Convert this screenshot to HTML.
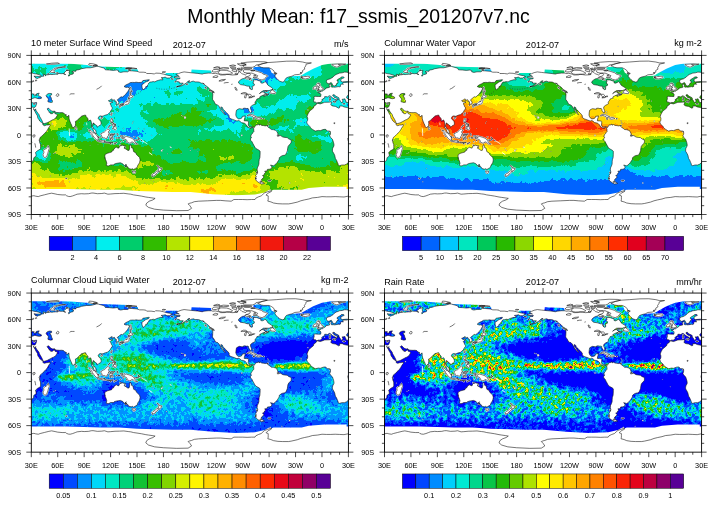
<!DOCTYPE html>
<html><head><meta charset="utf-8"><title>Monthly Mean</title>
<style>
html,body{margin:0;padding:0;background:#fff;}
svg{display:block}
text{font-family:"Liberation Sans",sans-serif;fill:#000}
.t{font-size:7.3px}
.h{font-size:9.05px}
.T{font-size:19.46px}
</style></head><body>
<svg width="716" height="506" viewBox="0 0 716 506">
<defs>
<clipPath id="pc"><rect x="0" y="0" width="317.1" height="159.1"/></clipPath>
<g id="land"><path d="M-185.0 154.7L-171.8 155.3L-160.3 155.1L-156.8 152.9L-158.6 150.3L-160.3 148.5L-158.6 147.8L-156.8 147.4L-154.1 146.3L-149.7 145.8L-140.9 145.4L-132.1 145.0L-127.7 145.0L-123.3 145.4L-117.2 145.8L-114.5 144.1L-110.1 144.1L-105.7 144.1L-101.3 144.3L-96.9 144.1L-93.4 144.1L-92.5 142.7L-89.8 141.4L-87.2 140.5L-85.4 138.8L-83.7 137.4L-81.0 136.4L-78.4 135.6L-76.6 135.5L-78.0 136.6L-79.7 137.4L-81.0 138.3L-82.4 139.7L-80.2 140.5L-80.2 142.3L-80.2 144.1L-80.6 145.7L-77.5 146.5L-74.9 147.6L-70.5 148.3L-66.1 148.5L-59.9 148.5L-57.3 148.1L-51.1 146.7L-47.6 145.4L-44.0 144.5L-39.6 143.6L-36.1 142.5L-30.8 142.0L-26.4 141.2L-22.0 141.4L-17.6 141.4L-13.2 141.2L-8.8 141.4L-4.4 141.6L0.0 140.7L2.6 140.3L4.4 140.8L7.0 141.2L8.8 140.5L13.2 139.4L17.6 138.3L20.3 137.8L23.8 138.5L26.4 139.1L30.8 139.5L34.4 139.5L35.2 140.3L37.0 141.0L38.8 141.2L41.4 140.5L44.0 139.5L45.8 138.8L50.2 138.3L52.9 138.5L57.3 138.3L59.9 137.7L61.7 137.6L66.1 138.3L70.5 138.1L73.1 137.7L76.6 138.8L79.3 138.6L83.7 138.2L88.1 138.1L92.5 137.9L96.9 138.5L99.5 138.8L102.2 139.5L105.7 140.0L110.1 140.7L114.5 141.6L117.2 142.0L120.7 142.5L123.8 143.0L121.6 144.5L118.0 145.8L115.4 147.6L114.5 149.8L117.2 152.0L123.3 153.8L132.1 154.7L132.1 159.1L-185.0 159.1ZM132.1 154.7L145.3 155.3L156.8 155.1L160.3 152.9L158.6 150.3L156.8 148.5L158.6 147.8L160.3 147.4L163.0 146.3L167.4 145.8L176.2 145.4L185.0 145.0L189.4 145.0L193.8 145.4L199.9 145.8L202.6 144.1L207.0 144.1L211.4 144.1L215.8 144.3L220.2 144.1L223.7 144.1L224.6 142.7L227.3 141.4L229.9 140.5L231.7 138.8L233.4 137.4L236.1 136.4L238.7 135.6L240.5 135.5L239.1 136.6L237.4 137.4L236.1 138.3L234.7 139.7L236.9 140.5L236.9 142.3L236.9 144.1L236.5 145.7L239.6 146.5L242.2 147.6L246.6 148.3L251.0 148.5L257.2 148.5L259.8 148.1L266.0 146.7L269.5 145.4L273.1 144.5L277.5 143.6L281.0 142.5L286.3 142.0L290.7 141.2L295.1 141.4L299.5 141.4L303.9 141.2L308.3 141.4L312.7 141.6L317.1 140.7L319.7 140.3L321.5 140.8L324.1 141.2L325.9 140.5L330.3 139.4L334.7 138.3L337.4 137.8L340.9 138.5L343.5 139.1L347.9 139.5L351.5 139.5L352.3 140.3L354.1 141.0L355.9 141.2L358.5 140.5L361.1 139.5L362.9 138.8L367.3 138.3L369.9 138.5L374.4 138.3L377.0 137.7L378.8 137.6L383.2 138.3L387.6 138.1L390.2 137.7L393.7 138.8L396.4 138.6L400.8 138.2L405.2 138.1L409.6 137.9L414.0 138.5L416.6 138.8L419.3 139.5L422.8 140.0L427.2 140.7L431.6 141.6L434.3 142.0L437.8 142.5L440.9 143.0L438.7 144.5L435.1 145.8L432.5 147.6L431.6 149.8L434.3 152.0L440.4 153.8L449.2 154.7L449.2 159.1L132.1 159.1Z" fill="#fff"/><path d="M18.9 16.4L20.3 17.1L23.8 17.1L22.5 15.9L22.9 14.6L24.7 13.7L27.3 12.6L31.7 11.8L34.4 11.5L31.7 11.4L26.4 12.1L22.9 13.0L21.6 14.4L19.4 15.6ZM57.3 9.5L61.7 10.6L66.1 10.2L65.2 9.3L61.7 8.4L58.1 8.0ZM94.2 12.8L99.5 13.4L105.7 13.3L102.2 12.6L96.9 12.4ZM96.9 14.6L99.5 14.8L98.7 14.1ZM130.8 16.8L133.0 17.0L134.3 16.5L132.1 16.3ZM15.0 8.6L19.4 8.9L23.8 8.7L28.2 8.3L26.4 7.4L20.3 7.8ZM98.7 38.9L99.9 38.3L99.3 37.6L99.7 36.0L100.9 36.2L99.8 34.0L99.9 32.7L99.2 31.6L98.7 32.3L98.5 33.8L98.7 35.4L98.7 37.1ZM96.9 42.9L97.9 42.6L99.8 42.4L101.7 41.3L101.3 40.5L98.7 39.3L98.4 40.2L98.0 41.3L97.2 41.9ZM98.2 43.0L98.7 44.6L97.8 46.0L97.8 47.0L97.6 48.0L96.7 48.6L95.8 48.9L94.5 49.0L94.1 49.2L93.2 49.9L92.6 49.2L90.7 49.2L89.0 49.5L89.0 49.0L90.3 48.3L92.9 48.1L94.0 47.0L94.5 46.4L95.6 46.6L96.5 45.5L96.9 44.2L97.2 43.1ZM88.9 49.6L89.6 49.9L89.8 50.6L89.0 51.9L88.3 52.0L88.3 50.8L87.8 50.4L87.9 49.9ZM90.3 49.6L91.9 49.2L92.2 49.7L91.8 50.2L90.7 50.6L90.2 50.0ZM80.7 57.3L80.9 57.8L80.1 60.1L79.4 59.2L79.5 58.3ZM69.3 62.6L70.0 63.5L70.9 62.9L71.3 62.1L71.1 61.8L70.0 61.9ZM79.8 63.2L81.2 63.3L81.3 65.0L80.7 65.6L80.8 66.9L81.9 67.4L82.8 68.1L82.8 68.4L81.6 67.8L80.8 67.4L79.8 67.3L80.1 66.6L79.3 66.3L79.2 65.2L79.6 64.8ZM81.0 73.4L82.4 71.9L83.9 70.9L84.8 72.0L85.1 73.1L84.7 74.0L84.1 74.5L82.8 74.2L82.8 73.2L82.2 72.9L81.2 73.5ZM81.0 69.1L81.9 69.3L82.8 69.7L84.2 69.7L83.9 70.5L82.8 70.7L82.2 71.4L81.5 70.7L81.0 70.2ZM83.1 68.5L84.1 68.5L84.3 69.7L83.5 69.5ZM76.8 72.1L78.8 70.3L79.0 69.5L78.0 70.7L76.9 71.7ZM69.6 78.2L70.5 78.0L71.6 77.1L73.1 76.6L74.4 75.4L75.8 74.0L76.6 73.4L77.2 74.0L78.6 74.9L77.5 75.7L77.1 76.5L77.5 77.6L78.4 78.7L77.3 78.8L77.1 80.3L76.2 81.1L76.0 82.7L74.5 83.2L73.1 82.4L72.0 82.5L70.6 82.0L70.5 80.7L69.6 79.3ZM57.4 74.6L59.5 75.0L60.8 76.3L62.0 77.5L63.2 77.7L64.7 79.1L65.5 80.4L66.9 82.0L66.9 84.7L65.7 84.8L63.7 83.1L62.5 81.5L61.0 79.4L60.5 78.0L59.2 76.7L57.6 75.3ZM66.2 85.6L67.1 84.8L69.1 85.4L71.1 85.2L72.8 85.6L74.4 86.4L74.3 87.2L72.2 87.0L69.6 86.4L67.4 86.1ZM74.9 86.8L76.6 86.8L78.4 87.1L80.2 87.0L81.9 86.9L81.7 87.2L79.3 87.4L76.6 87.5L75.3 87.3ZM82.4 88.7L83.7 87.5L85.6 87.0L85.0 87.7L83.2 88.6ZM78.4 87.9L79.9 88.5L79.3 88.7ZM79.1 78.8L80.0 78.4L81.9 78.7L83.7 78.1L83.2 79.2L80.6 79.1L79.5 79.3L79.3 80.3L80.4 80.4L82.2 80.2L80.8 81.3L81.3 82.5L82.1 83.5L81.5 84.2L80.7 83.7L80.2 82.0L79.5 82.2L79.6 84.4L78.8 84.4L78.8 82.6L78.2 81.9L79.0 79.7ZM85.9 77.9L86.9 79.1L86.3 80.3L85.9 79.1ZM86.3 82.3L88.8 82.5L87.6 82.7ZM84.6 82.4L85.6 82.5L85.1 82.9ZM89.0 80.3L91.6 80.3L91.8 81.7L92.5 82.5L94.2 81.3L95.1 81.0L97.8 81.8L100.9 82.9L102.2 84.4L103.7 84.9L103.3 85.7L104.4 87.5L106.4 88.7L103.9 88.6L102.2 87.1L100.4 86.4L99.8 87.5L98.2 87.7L96.0 86.8L95.1 87.0L95.8 85.7L95.1 84.4L92.9 83.5L91.2 83.1L90.5 83.1L90.5 82.2L91.4 81.7L90.0 81.5L88.9 80.8ZM104.2 84.5L106.1 84.4L107.6 83.3L107.5 84.4L105.7 85.1L104.3 84.8ZM106.4 81.8L108.2 83.3L108.3 83.8L107.7 83.1ZM101.0 115.5L102.6 115.9L104.1 115.6L104.2 116.9L103.4 117.8L102.2 118.0L101.5 116.9ZM125.7 110.0L127.1 110.8L128.2 111.8L128.6 112.8L130.6 112.8L130.3 114.2L129.5 114.5L128.8 115.8L127.9 116.3L127.5 116.1L127.7 114.9L126.7 114.4L127.4 113.3L127.5 112.3L126.1 110.5ZM125.7 115.3L126.8 115.8L127.0 116.5L125.8 118.0L124.4 118.7L123.9 120.1L121.9 120.7L120.2 120.0L121.7 118.4L123.8 117.4L125.1 115.8ZM43.9 71.0L45.1 72.0L45.6 73.4L44.9 74.1L44.1 74.2L43.9 72.9ZM17.0 90.2L18.0 93.3L17.4 94.6L16.6 97.7L15.4 101.2L14.5 101.8L13.2 102.1L12.1 100.8L11.7 99.0L12.6 97.2L12.3 95.0L13.5 93.7L15.0 93.2L15.9 91.9L16.5 91.0ZM34.2 123.0L35.7 122.9L35.2 123.5ZM2.0 48.6L4.0 48.1L3.1 49.0ZM16.1 18.6L17.2 18.1L17.9 18.6L17.0 18.8ZM25.1 17.7L26.4 17.2L26.9 17.9ZM34.8 14.8L36.6 14.6L36.1 15.0ZM61.7 10.4L65.2 10.3L66.1 9.9L63.4 9.5ZM94.2 13.3L96.9 12.4L100.4 12.8L97.8 13.5ZM8.1 84.7L8.4 84.9L8.3 85.2ZM95.3 45.7L95.7 45.9L95.5 46.1ZM84.7 50.0L85.4 49.9L85.1 50.2ZM87.4 49.0L87.6 48.9L87.5 49.3ZM66.5 81.0L67.6 81.8L66.9 82.2ZM68.4 81.8L69.0 82.0L68.6 82.4ZM59.1 78.3L59.7 78.9L59.5 79.0ZM60.5 80.4L61.0 81.1L60.7 81.1ZM72.9 85.6L74.0 85.6L73.8 85.9ZM89.1 86.0L89.6 86.4L89.2 86.6ZM91.8 84.4L92.3 85.1L91.9 85.6ZM93.1 80.3L93.6 80.5L93.3 80.6ZM109.8 84.4L110.9 85.5L110.4 85.5ZM102.7 81.3L103.4 81.4L103.1 81.5ZM93.9 111.1L95.1 111.2L94.5 111.4ZM88.3 89.6L89.4 89.6L88.8 90.0ZM93.7 91.7L94.2 91.8L93.9 92.2ZM121.1 121.0L121.7 121.0L121.4 121.4ZM285.8 35.4L287.6 35.1L290.7 34.6L291.9 34.2L292.2 33.0L290.9 32.7L290.5 31.8L289.4 30.9L288.9 30.1L288.0 30.1L289.1 28.7L287.2 28.6L288.0 27.8L286.3 27.8L285.2 29.2L285.8 30.1L286.3 30.9L288.0 31.4L288.0 32.4L286.7 32.4L287.0 33.3L286.1 33.8L288.0 34.1L286.7 34.4ZM285.4 33.4L282.0 34.0L281.9 32.3L283.2 31.4L283.6 30.8L285.4 30.8L285.8 31.4L285.2 32.3ZM270.9 23.1L274.2 23.5L277.7 22.7L278.7 21.8L277.7 21.0L276.6 20.8L274.8 21.1L272.8 21.2L271.7 21.7L270.9 20.9L269.3 21.6L271.3 21.9L269.5 22.3L271.3 22.7ZM300.4 9.3L303.0 11.0L305.6 11.8L309.2 10.3L307.0 9.2L310.9 9.5L314.5 8.8L308.3 8.4L300.4 9.0ZM301.7 46.0L304.3 45.8L304.0 47.1L301.7 46.3ZM298.0 43.4L299.2 43.3L299.1 44.9L298.2 45.1ZM298.3 41.9L299.0 41.7L298.9 43.0L298.3 42.6ZM311.5 48.2L313.8 48.4L312.3 48.7ZM236.5 20.6L234.3 22.1L233.4 23.9L232.1 23.9L230.8 24.6L228.1 24.0L225.9 22.5L222.4 22.7L222.0 21.7L225.5 21.7L226.4 20.3L224.2 19.2L221.5 18.1L220.6 17.7L215.8 17.7L212.7 17.0L211.8 15.5L213.2 14.3L218.4 14.4L220.2 15.5L222.9 15.2L226.4 16.1L230.3 17.4L231.7 18.6L234.3 19.4L236.1 20.3ZM187.2 16.4L189.4 14.8L195.5 15.0L198.2 15.9L201.3 17.7L199.9 18.7L195.5 18.8L191.1 19.0L188.5 18.6L186.7 17.2ZM180.6 15.9L182.3 14.1L187.6 14.0L188.9 14.8L185.0 16.4L182.3 16.6ZM221.1 11.9L213.2 11.9L211.4 10.2L214.9 8.8L209.6 7.7L215.8 6.8L224.6 6.2L233.4 6.4L236.1 7.1L232.5 8.0L229.0 8.8L224.6 9.7L223.7 11.0ZM220.2 12.8L209.6 12.4L209.6 13.4L220.2 13.6ZM187.6 13.1L192.0 12.1L197.3 12.4L197.3 13.3L192.0 13.7ZM200.8 14.3L205.2 14.3L205.2 16.4L202.6 16.1L200.8 15.2ZM206.6 14.1L211.0 14.1L210.5 15.2L207.0 15.9ZM206.1 8.4L213.2 8.4L214.9 9.7L209.6 10.4ZM199.1 11.9L204.4 11.9L204.4 13.3L199.9 13.1ZM214.0 23.0L215.4 21.4L216.7 21.8L218.9 22.7L219.9 23.2L217.6 23.4L215.4 23.7ZM238.4 37.4L241.3 38.1L243.8 38.3L244.3 37.5L243.6 36.6L243.3 35.9L241.6 35.2L241.8 33.9L240.5 34.5L239.6 35.8L238.4 36.9ZM215.8 60.4L217.6 59.0L219.8 58.9L222.9 60.2L225.3 61.5L222.2 62.2L221.8 61.5L219.8 60.6L218.4 60.0L216.7 60.5ZM225.1 63.3L226.6 62.0L229.0 62.0L230.4 63.1L228.6 63.5L227.5 63.9L225.7 63.6ZM221.7 63.4L223.5 63.6L222.7 63.8ZM231.5 63.3L232.8 63.4L232.5 63.6ZM177.7 34.7L180.6 35.4L181.9 36.7L180.7 36.6L179.2 35.8ZM173.5 31.8L174.7 31.8L175.1 33.4L174.0 32.7ZM153.3 61.7L154.2 62.2L153.5 62.8ZM154.6 28.7L156.3 28.3L156.5 28.9L155.0 29.3ZM236.9 125.1L239.6 125.0L238.7 125.8L237.1 125.5ZM236.2 70.1L236.9 70.0L236.9 70.6L236.2 70.6ZM182.3 12.4L185.9 11.2L188.5 11.9L185.9 12.6ZM198.2 10.4L201.7 9.5L204.4 10.2L201.7 10.9ZM205.7 13.3L207.9 12.7L208.8 13.4L207.0 13.7ZM203.5 18.6L205.2 17.9L206.6 18.6L205.2 19.0ZM219.8 15.0L222.0 14.4L223.7 15.0L222.0 15.4ZM222.4 20.2L223.7 19.4L224.6 20.1L223.5 20.4ZM217.6 24.0L218.9 24.0L218.4 24.6ZM219.9 24.5L220.6 24.6L220.4 25.1ZM218.4 32.6L219.6 32.7L219.1 33.0ZM233.9 35.4L236.2 36.0L234.7 36.1ZM234.0 38.3L236.1 38.4L235.4 38.9ZM242.4 18.1L244.0 17.4L244.9 17.9L243.6 18.3ZM139.6 23.3L142.0 23.6L141.1 23.9ZM143.4 26.3L144.8 26.2L144.5 26.7ZM145.3 31.1L146.9 30.9L146.7 31.4ZM171.8 28.3L172.6 28.0L172.4 29.0ZM225.3 116.7L225.9 116.7L225.8 117.9L225.2 117.6ZM224.3 122.4L225.1 122.5L224.8 123.7L224.2 123.5ZM228.6 126.2L230.3 126.1L230.3 126.8L229.0 127.3ZM245.9 79.7L247.5 79.7L247.8 80.6L246.2 80.9ZM298.2 76.2L298.6 76.3L298.3 76.7Z" fill="#fff" stroke="#fff" stroke-width="1.3" stroke-linejoin="round"/><path d="M-31.2 47.8L-31.6 47.9L-32.4 49.5L-33.1 49.9L-34.6 51.0L-35.0 52.7L-37.8 54.9L-39.2 56.3L-40.5 58.6L-41.4 61.0L-40.7 62.8L-40.8 65.0L-41.8 66.6L-41.1 68.5L-40.1 69.6L-38.5 71.2L-38.1 72.1L-36.6 73.5L-35.9 74.0L-33.2 75.7L-29.9 75.0L-28.2 75.3L-26.4 74.6L-25.4 74.2L-23.4 73.9L-22.5 74.1L-21.1 75.7L-19.4 75.6L-18.1 76.0L-17.9 77.8L-18.1 79.2L-18.7 80.2L-18.1 81.8L-16.0 83.8L-15.6 84.9L-14.8 87.3L-14.4 89.3L-14.5 90.6L-15.7 92.8L-16.0 94.6L-15.9 95.9L-14.7 97.9L-13.7 99.9L-13.0 103.1L-11.9 104.8L-11.0 107.0L-10.4 108.3L-10.2 109.8L-8.8 110.3L-6.6 109.6L-3.9 109.6L-1.8 108.7L0.0 107.1L0.9 106.0L2.2 104.6L2.5 102.5L3.1 101.8L4.8 100.8L4.7 99.0L4.2 97.1L6.1 95.4L7.9 94.4L9.3 93.3L9.3 91.0L9.2 89.0L8.4 87.1L8.2 85.6L7.8 84.7L8.5 83.1L9.1 81.8L10.1 81.1L11.9 79.3L13.5 77.8L15.0 76.2L16.1 74.7L17.2 72.7L18.1 71.3L18.8 70.4L18.7 69.0L17.2 69.5L15.0 69.7L13.2 70.3L12.0 69.7L11.5 69.3L11.7 68.3L10.6 67.2L9.2 66.3L8.4 65.6L7.9 64.5L7.0 63.4L6.4 62.2L6.2 60.5L5.7 59.7L4.8 58.3L4.0 56.6L3.3 55.4L2.6 54.1L2.2 53.1L2.6 54.3L3.7 55.1L4.1 54.1L4.4 53.5L4.4 54.6L5.7 56.6L6.6 57.8L7.8 59.4L8.1 60.7L9.2 62.5L10.1 64.1L11.2 66.3L11.7 68.1L13.2 68.2L15.0 67.6L16.3 67.2L17.9 66.3L19.6 65.4L21.1 64.5L22.3 64.1L23.3 63.4L24.5 62.6L25.1 61.4L26.2 59.7L25.3 58.7L23.8 58.3L23.3 57.5L23.3 56.2L22.9 56.6L22.3 57.2L21.3 58.2L19.4 58.3L19.0 57.9L19.0 56.5L18.4 56.9L17.8 57.0L17.8 56.0L16.7 55.1L15.9 53.5L16.6 52.8L17.6 53.0L18.3 54.0L19.9 55.3L21.6 56.0L23.2 55.6L24.0 56.8L25.5 57.1L27.0 57.2L28.5 57.3L30.4 57.2L32.2 57.5L33.0 58.5L33.9 59.0L35.2 59.5L34.4 59.9L35.6 61.2L36.8 61.0L37.4 59.8L37.7 61.0L37.7 62.8L38.1 64.5L38.6 65.9L39.5 68.1L40.3 69.7L40.8 71.2L41.8 72.4L42.5 71.7L43.2 71.3L44.0 70.4L44.3 68.0L44.1 66.0L45.1 65.5L46.1 64.9L47.0 63.9L48.5 62.3L50.1 61.3L50.4 60.5L51.5 60.4L53.3 59.8L54.4 59.8L54.8 61.1L55.9 62.3L56.8 63.6L56.6 65.4L57.5 65.6L58.8 64.7L59.5 65.0L60.1 67.2L60.4 68.9L60.3 70.7L60.2 72.3L61.4 73.5L62.0 74.7L62.5 76.3L63.1 77.3L64.7 78.4L65.4 78.3L64.7 77.1L64.7 76.0L64.3 74.7L63.4 74.0L62.5 73.5L61.9 72.7L61.7 71.6L61.0 71.3L61.0 69.8L61.7 68.5L61.7 67.6L62.5 67.7L62.5 68.4L63.7 68.8L64.3 69.8L65.6 70.4L65.9 71.9L66.6 71.4L67.6 70.4L68.7 70.0L69.8 69.2L69.9 67.6L69.4 65.8L68.9 65.3L67.5 63.8L66.8 62.8L67.5 61.4L67.8 61.0L69.0 60.5L70.1 60.5L70.3 61.5L70.8 61.5L71.0 60.7L72.1 60.5L73.5 59.9L74.4 59.6L76.2 59.2L77.5 57.9L78.8 57.0L79.5 55.4L80.9 53.5L80.9 52.2L80.1 51.3L79.5 49.2L78.6 48.6L79.6 47.6L81.5 46.8L80.2 46.3L78.4 46.6L77.5 45.7L77.2 45.1L78.4 44.9L80.2 43.6L81.0 43.8L80.4 45.1L80.8 45.2L83.1 44.3L83.8 45.4L83.4 46.0L85.1 46.4L84.8 49.1L85.9 48.8L87.4 48.4L87.6 46.8L86.8 45.5L85.9 44.5L87.8 43.0L88.7 42.2L89.8 41.4L91.2 41.7L92.8 40.4L94.1 39.1L95.3 37.7L96.5 36.2L97.2 34.9L98.1 33.3L97.9 32.4L96.2 31.8L94.7 32.0L92.7 31.1L94.5 29.6L97.3 28.3L99.1 27.2L101.3 27.0L103.1 27.1L104.8 26.8L107.0 27.1L110.4 27.0L111.6 25.2L114.5 24.8L117.4 24.3L118.0 24.3L117.2 25.6L114.5 26.5L111.9 28.5L110.6 29.3L110.7 31.8L111.5 34.2L111.7 34.6L113.0 33.4L114.4 32.5L114.5 31.2L116.3 30.9L116.1 29.8L117.2 28.7L117.4 27.8L118.6 26.7L120.0 26.6L122.0 26.2L123.6 26.5L125.1 25.6L127.3 24.9L129.5 24.3L131.5 24.5L131.2 23.0L129.9 22.4L132.1 22.1L133.9 21.7L135.6 22.7L138.3 22.6L139.6 21.7L141.1 21.2L139.2 20.3L136.5 19.9L132.1 18.7L128.6 17.9L124.2 17.7L123.3 18.6L119.8 18.1L115.4 18.1L114.5 17.1L111.9 16.8L108.3 16.8L105.7 15.9L101.3 15.5L97.8 15.3L96.5 16.4L92.5 16.4L89.4 17.0L87.2 16.4L87.2 15.2L85.4 14.6L81.9 15.0L78.0 14.6L74.0 14.4L73.1 12.8L69.6 11.8L66.9 11.0L65.2 10.9L61.7 11.9L59.0 12.4L55.5 12.4L50.2 13.3L47.6 14.3L44.9 14.6L44.5 15.9L41.8 15.7L40.5 16.5L42.3 17.0L41.8 18.6L39.2 19.2L38.6 19.9L37.4 20.8L37.2 19.6L38.3 18.6L37.7 16.8L38.6 15.3L35.7 14.8L33.9 16.4L32.6 17.7L32.6 18.6L34.4 19.2L31.7 18.1L29.9 18.3L26.9 17.9L26.6 18.9L24.2 18.8L22.0 19.0L20.7 19.2L18.9 19.0L16.7 19.4L14.1 19.4L14.5 20.5L12.8 19.0L11.7 18.9L12.5 20.8L10.6 20.9L8.8 22.1L7.5 22.4L6.2 23.1L4.1 22.5L4.0 21.7L2.6 20.8L5.3 21.0L9.2 21.0L9.9 20.1L7.5 19.2L5.3 18.6L2.6 18.2L0.9 17.7L-1.3 16.8L-3.7 16.7L-6.2 17.4L-8.8 17.7L-11.0 18.6L-12.3 19.0L-14.1 20.3L-15.4 21.7L-16.7 22.5L-18.1 23.4L-20.3 24.0L-21.8 24.7L-22.0 26.3L-21.6 27.4L-20.3 28.3L-18.9 28.0L-17.2 27.1L-16.6 27.8L-15.9 29.2L-15.2 30.1L-15.1 30.5L-13.8 30.5L-12.3 29.8L-11.9 28.7L-11.5 27.8L-10.1 27.0L-10.1 26.3L-11.3 25.6L-11.2 24.5L-10.1 23.7L-7.9 22.5L-7.0 21.5L-4.8 21.5L-4.2 22.3L-6.2 23.2L-7.5 23.9L-7.6 25.8L-6.2 26.5L-3.5 26.3L-1.3 26.1L0.0 26.5L-1.8 27.0L-5.3 27.0L-5.7 28.0L-5.0 28.9L-7.0 28.6L-7.9 29.8L-7.9 31.0L-9.2 31.5L-10.1 31.2L-12.3 31.6L-13.8 31.8L-15.4 31.6L-16.7 31.8L-17.6 30.9L-17.0 29.6L-17.2 28.6L-19.2 29.2L-19.2 30.5L-18.7 31.8L-20.3 32.3L-22.0 32.5L-22.9 33.6L-24.2 34.5L-25.0 34.9L-26.2 35.8L-27.7 35.6L-27.9 36.6L-30.6 36.7L-30.2 37.3L-28.6 37.7L-27.5 38.9L-27.7 41.1L-29.9 41.1L-33.5 40.9L-34.5 41.5L-34.2 43.3L-34.8 45.3L-34.3 46.8L-32.6 46.8L-31.7 47.6L-31.2 47.6L-30.3 47.1L-28.2 47.1L-26.9 46.0L-26.2 45.3L-26.7 44.6L-25.7 43.5L-23.6 42.5L-23.8 41.3L-22.5 41.2L-20.7 41.5L-19.8 40.8L-18.7 40.3L-17.4 41.1L-15.6 42.7L-14.1 43.5L-12.6 44.2L-12.3 45.8L-12.6 46.0L-11.9 45.3L-11.3 44.6L-11.9 44.2L-11.5 43.8L-10.1 44.1L-10.6 43.6L-12.3 42.5L-14.1 42.0L-14.5 41.0L-15.6 40.4L-15.6 39.5L-14.4 39.2L-13.7 39.6L-13.0 40.7L-11.0 41.5L-9.4 42.5L-9.3 43.9L-8.1 45.5L-7.8 46.2L-7.0 47.1L-6.2 47.3L-6.1 46.4L-5.3 46.0L-5.7 45.1L-6.3 43.8L-5.3 44.0L-4.4 43.4L-3.3 43.6L-3.3 44.2L-2.6 45.5L-2.4 46.8L-1.3 47.1L0.5 47.0L1.8 47.6L3.5 47.4L5.3 47.1L5.3 48.2L4.8 49.9L4.2 51.3L3.7 51.9L2.2 52.0L0.9 51.7L-0.9 52.2L-4.4 51.5L-6.2 50.6L-8.8 50.6L-8.8 52.4L-9.7 52.8L-12.9 51.0L-15.9 50.5L-17.2 49.8L-17.6 49.1L-16.7 46.9L-17.6 46.6L-20.3 46.8L-23.8 46.9L-26.4 47.9L-28.2 48.5ZM-0.9 43.1L1.3 43.1L3.1 42.4L4.4 42.4L6.0 43.0L7.9 43.3L10.1 42.9L10.1 41.8L8.4 40.9L6.6 40.0L7.3 38.9L7.9 37.8L5.3 38.3L4.4 39.2L5.7 39.5L4.7 39.8L3.3 40.3L2.2 39.3L3.1 38.9L1.3 38.4L0.4 38.9L-0.3 39.6L-1.1 40.7L-1.9 41.7L-1.6 42.7ZM16.7 46.4L17.9 46.7L19.4 47.1L21.1 46.8L20.9 44.9L20.2 44.2L20.1 43.0L19.7 42.0L18.5 40.2L20.3 39.5L20.3 38.2L18.5 38.0L16.7 38.4L15.4 39.3L14.8 40.2L15.4 41.5L16.5 42.7L17.2 43.8L16.7 45.1L16.6 46.0ZM18.9 16.4L20.3 17.1L23.8 17.1L22.5 15.9L22.9 14.6L24.7 13.7L27.3 12.6L31.7 11.8L34.4 11.5L31.7 11.4L26.4 12.1L22.9 13.0L21.6 14.4L19.4 15.6ZM57.3 9.5L61.7 10.6L66.1 10.2L65.2 9.3L61.7 8.4L58.1 8.0ZM94.2 12.8L99.5 13.4L105.7 13.3L102.2 12.6L96.9 12.4ZM96.9 14.6L99.5 14.8L98.7 14.1ZM130.8 16.8L133.0 17.0L134.3 16.5L132.1 16.3ZM15.0 8.6L19.4 8.9L23.8 8.7L28.2 8.3L26.4 7.4L20.3 7.8ZM98.7 38.9L99.9 38.3L99.3 37.6L99.7 36.0L100.9 36.2L99.8 34.0L99.9 32.7L99.2 31.6L98.7 32.3L98.5 33.8L98.7 35.4L98.7 37.1ZM96.9 42.9L97.9 42.6L99.8 42.4L101.7 41.3L101.3 40.5L98.7 39.3L98.4 40.2L98.0 41.3L97.2 41.9ZM98.2 43.0L98.7 44.6L97.8 46.0L97.8 47.0L97.6 48.0L96.7 48.6L95.8 48.9L94.5 49.0L94.1 49.2L93.2 49.9L92.6 49.2L90.7 49.2L89.0 49.5L89.0 49.0L90.3 48.3L92.9 48.1L94.0 47.0L94.5 46.4L95.6 46.6L96.5 45.5L96.9 44.2L97.2 43.1ZM88.9 49.6L89.6 49.9L89.8 50.6L89.0 51.9L88.3 52.0L88.3 50.8L87.8 50.4L87.9 49.9ZM90.3 49.6L91.9 49.2L92.2 49.7L91.8 50.2L90.7 50.6L90.2 50.0ZM80.7 57.3L80.9 57.8L80.1 60.1L79.4 59.2L79.5 58.3ZM69.3 62.6L70.0 63.5L70.9 62.9L71.3 62.1L71.1 61.8L70.0 61.9ZM79.8 63.2L81.2 63.3L81.3 65.0L80.7 65.6L80.8 66.9L81.9 67.4L82.8 68.1L82.8 68.4L81.6 67.8L80.8 67.4L79.8 67.3L80.1 66.6L79.3 66.3L79.2 65.2L79.6 64.8ZM81.0 73.4L82.4 71.9L83.9 70.9L84.8 72.0L85.1 73.1L84.7 74.0L84.1 74.5L82.8 74.2L82.8 73.2L82.2 72.9L81.2 73.5ZM81.0 69.1L81.9 69.3L82.8 69.7L84.2 69.7L83.9 70.5L82.8 70.7L82.2 71.4L81.5 70.7L81.0 70.2ZM83.1 68.5L84.1 68.5L84.3 69.7L83.5 69.5ZM76.8 72.1L78.8 70.3L79.0 69.5L78.0 70.7L76.9 71.7ZM69.6 78.2L70.5 78.0L71.6 77.1L73.1 76.6L74.4 75.4L75.8 74.0L76.6 73.4L77.2 74.0L78.6 74.9L77.5 75.7L77.1 76.5L77.5 77.6L78.4 78.7L77.3 78.8L77.1 80.3L76.2 81.1L76.0 82.7L74.5 83.2L73.1 82.4L72.0 82.5L70.6 82.0L70.5 80.7L69.6 79.3ZM57.4 74.6L59.5 75.0L60.8 76.3L62.0 77.5L63.2 77.7L64.7 79.1L65.5 80.4L66.9 82.0L66.9 84.7L65.7 84.8L63.7 83.1L62.5 81.5L61.0 79.4L60.5 78.0L59.2 76.7L57.6 75.3ZM66.2 85.6L67.1 84.8L69.1 85.4L71.1 85.2L72.8 85.6L74.4 86.4L74.3 87.2L72.2 87.0L69.6 86.4L67.4 86.1ZM74.9 86.8L76.6 86.8L78.4 87.1L80.2 87.0L81.9 86.9L81.7 87.2L79.3 87.4L76.6 87.5L75.3 87.3ZM82.4 88.7L83.7 87.5L85.6 87.0L85.0 87.7L83.2 88.6ZM78.4 87.9L79.9 88.5L79.3 88.7ZM79.1 78.8L80.0 78.4L81.9 78.7L83.7 78.1L83.2 79.2L80.6 79.1L79.5 79.3L79.3 80.3L80.4 80.4L82.2 80.2L80.8 81.3L81.3 82.5L82.1 83.5L81.5 84.2L80.7 83.7L80.2 82.0L79.5 82.2L79.6 84.4L78.8 84.4L78.8 82.6L78.2 81.9L79.0 79.7ZM85.9 77.9L86.9 79.1L86.3 80.3L85.9 79.1ZM86.3 82.3L88.8 82.5L87.6 82.7ZM84.6 82.4L85.6 82.5L85.1 82.9ZM89.0 80.3L91.6 80.3L91.8 81.7L92.5 82.5L94.2 81.3L95.1 81.0L97.8 81.8L100.9 82.9L102.2 84.4L103.7 84.9L103.3 85.7L104.4 87.5L106.4 88.7L103.9 88.6L102.2 87.1L100.4 86.4L99.8 87.5L98.2 87.7L96.0 86.8L95.1 87.0L95.8 85.7L95.1 84.4L92.9 83.5L91.2 83.1L90.5 83.1L90.5 82.2L91.4 81.7L90.0 81.5L88.9 80.8ZM104.2 84.5L106.1 84.4L107.6 83.3L107.5 84.4L105.7 85.1L104.3 84.8ZM106.4 81.8L108.2 83.3L108.3 83.8L107.7 83.1ZM73.7 99.4L74.2 98.8L76.2 97.8L78.4 97.2L80.4 96.6L81.3 94.8L82.4 94.8L82.4 94.0L84.1 92.2L85.3 91.8L86.5 92.6L87.6 92.7L88.1 91.0L88.8 90.5L90.3 90.2L90.3 89.5L92.7 90.3L94.1 90.3L93.4 91.5L92.9 92.8L94.7 93.7L96.3 94.9L97.7 95.0L98.4 92.8L98.3 90.7L99.1 89.1L100.0 90.9L100.2 92.3L101.6 92.8L102.2 95.6L102.4 96.3L104.4 97.3L105.3 99.3L106.4 100.3L108.3 102.1L108.8 104.5L108.3 107.0L107.5 108.5L106.6 109.8L105.7 112.3L104.1 113.0L102.4 114.1L101.0 113.3L100.0 113.8L97.3 113.1L96.5 111.4L95.1 111.1L95.2 109.9L94.8 110.8L94.1 110.9L94.9 108.7L93.4 110.3L92.8 110.1L91.6 108.5L89.2 107.4L87.2 107.6L84.6 108.1L82.8 108.8L82.3 109.5L79.3 109.5L77.5 110.5L75.8 110.4L74.9 109.9L75.5 107.8L74.7 105.2L73.4 102.5L74.0 103.0L73.5 100.8ZM101.0 115.5L102.6 115.9L104.1 115.6L104.2 116.9L103.4 117.8L102.2 118.0L101.5 116.9ZM125.7 110.0L127.1 110.8L128.2 111.8L128.6 112.8L130.6 112.8L130.3 114.2L129.5 114.5L128.8 115.8L127.9 116.3L127.5 116.1L127.7 114.9L126.7 114.4L127.4 113.3L127.5 112.3L126.1 110.5ZM125.7 115.3L126.8 115.8L127.0 116.5L125.8 118.0L124.4 118.7L123.9 120.1L121.9 120.7L120.2 120.0L121.7 118.4L123.8 117.4L125.1 115.8ZM43.9 71.0L45.1 72.0L45.6 73.4L44.9 74.1L44.1 74.2L43.9 72.9ZM17.0 90.2L18.0 93.3L17.4 94.6L16.6 97.7L15.4 101.2L14.5 101.8L13.2 102.1L12.1 100.8L11.7 99.0L12.6 97.2L12.3 95.0L13.5 93.7L15.0 93.2L15.9 91.9L16.5 91.0ZM34.2 123.0L35.7 122.9L35.2 123.5ZM2.0 48.6L4.0 48.1L3.1 49.0ZM16.1 18.6L17.2 18.1L17.9 18.6L17.0 18.8ZM25.1 17.7L26.4 17.2L26.9 17.9ZM34.8 14.8L36.6 14.6L36.1 15.0ZM61.7 10.4L65.2 10.3L66.1 9.9L63.4 9.5ZM94.2 13.3L96.9 12.4L100.4 12.8L97.8 13.5ZM8.1 84.7L8.4 84.9L8.3 85.2ZM95.3 45.7L95.7 45.9L95.5 46.1ZM84.7 50.0L85.4 49.9L85.1 50.2ZM87.4 49.0L87.6 48.9L87.5 49.3ZM66.5 81.0L67.6 81.8L66.9 82.2ZM68.4 81.8L69.0 82.0L68.6 82.4ZM59.1 78.3L59.7 78.9L59.5 79.0ZM60.5 80.4L61.0 81.1L60.7 81.1ZM72.9 85.6L74.0 85.6L73.8 85.9ZM89.1 86.0L89.6 86.4L89.2 86.6ZM91.8 84.4L92.3 85.1L91.9 85.6ZM93.1 80.3L93.6 80.5L93.3 80.6ZM109.8 84.4L110.9 85.5L110.4 85.5ZM102.7 81.3L103.4 81.4L103.1 81.5ZM93.9 111.1L95.1 111.2L94.5 111.4ZM88.3 89.6L89.4 89.6L88.8 90.0ZM93.7 91.7L94.2 91.8L93.9 92.2ZM121.1 121.0L121.7 121.0L121.4 121.4ZM285.9 47.8L285.5 47.9L284.7 49.5L284.0 49.9L282.5 51.0L282.1 52.7L279.3 54.9L277.9 56.3L276.6 58.6L275.7 61.0L276.4 62.8L276.3 65.0L275.3 66.6L276.0 68.5L277.0 69.6L278.6 71.2L279.0 72.1L280.5 73.5L281.2 74.0L283.9 75.7L287.2 75.0L288.9 75.3L290.7 74.6L291.7 74.2L293.7 73.9L294.6 74.1L296.0 75.7L297.7 75.6L299.0 76.0L299.2 77.8L299.0 79.2L298.4 80.2L299.0 81.8L301.1 83.8L301.5 84.9L302.3 87.3L302.7 89.3L302.6 90.6L301.4 92.8L301.1 94.6L301.2 95.9L302.4 97.9L303.4 99.9L304.1 103.1L305.2 104.8L306.1 107.0L306.7 108.3L306.9 109.8L308.3 110.3L310.5 109.6L313.2 109.6L315.3 108.7L317.1 107.1L318.0 106.0L319.3 104.6L319.6 102.5L320.2 101.8L321.9 100.8L321.8 99.0L321.3 97.1L323.2 95.4L325.0 94.4L326.4 93.3L326.4 91.0L326.3 89.0L325.5 87.1L325.3 85.6L324.9 84.7L325.6 83.1L326.2 81.8L327.2 81.1L329.0 79.3L330.6 77.8L332.1 76.2L333.2 74.7L334.3 72.7L335.2 71.3L335.9 70.4L335.8 69.0L334.3 69.5L332.1 69.7L330.3 70.3L329.1 69.7L328.6 69.3L328.8 68.3L327.7 67.2L326.3 66.3L325.5 65.6L325.0 64.5L324.1 63.4L323.5 62.2L323.3 60.5L322.8 59.7L321.9 58.3L321.1 56.6L320.4 55.4L319.7 54.1L319.3 53.1L319.7 54.3L320.8 55.1L321.2 54.1L321.5 53.5L321.5 54.6L322.8 56.6L323.7 57.8L324.9 59.4L325.2 60.7L326.3 62.5L327.2 64.1L328.3 66.3L328.8 68.1L330.3 68.2L332.1 67.6L333.4 67.2L335.0 66.3L336.7 65.4L338.2 64.5L339.4 64.1L340.4 63.4L341.6 62.6L342.2 61.4L343.3 59.7L342.4 58.7L340.9 58.3L340.4 57.5L340.4 56.2L340.0 56.6L339.4 57.2L338.4 58.2L336.5 58.3L336.1 57.9L336.1 56.5L335.5 56.9L334.9 57.0L334.9 56.0L333.8 55.1L333.0 53.5L333.7 52.8L334.7 53.0L335.4 54.0L337.0 55.3L338.7 56.0L340.3 55.6L341.1 56.8L342.6 57.1L344.1 57.2L345.6 57.3L347.5 57.2L349.3 57.5L350.1 58.5L351.0 59.0L352.3 59.5L351.5 59.9L352.7 61.2L353.9 61.0L354.5 59.8L354.8 61.0L354.8 62.8L355.2 64.5L355.7 65.9L356.6 68.1L357.4 69.7L357.9 71.2L358.9 72.4L359.6 71.7L360.3 71.3L361.1 70.4L361.4 68.0L361.2 66.0L362.2 65.5L363.2 64.9L364.1 63.9L365.6 62.3L367.2 61.3L367.5 60.5L368.6 60.4L370.4 59.8L371.5 59.8L371.9 61.1L373.0 62.3L373.9 63.6L373.7 65.4L374.6 65.6L375.9 64.7L376.6 65.0L377.2 67.2L377.5 68.9L377.4 70.7L377.3 72.3L378.5 73.5L379.1 74.7L379.6 76.3L380.2 77.3L381.8 78.4L382.5 78.3L381.8 77.1L381.8 76.0L381.4 74.7L380.5 74.0L379.6 73.5L379.0 72.7L378.8 71.6L378.1 71.3L378.1 69.8L378.8 68.5L378.8 67.6L379.6 67.7L379.6 68.4L380.8 68.8L381.4 69.8L382.7 70.4L383.0 71.9L383.7 71.4L384.7 70.4L385.8 70.0L386.9 69.2L387.0 67.6L386.5 65.8L386.0 65.3L384.6 63.8L383.9 62.8L384.6 61.4L384.9 61.0L386.1 60.5L387.2 60.5L387.4 61.5L387.9 61.5L388.1 60.7L389.2 60.5L390.6 59.9L391.5 59.6L393.3 59.2L394.6 57.9L395.9 57.0L396.6 55.4L398.0 53.5L398.0 52.2L397.2 51.3L396.6 49.2L395.7 48.6L396.7 47.6L398.6 46.8L397.3 46.3L395.5 46.6L394.6 45.7L394.3 45.1L395.5 44.9L397.3 43.6L398.1 43.8L397.5 45.1L397.9 45.2L400.2 44.3L400.9 45.4L400.5 46.0L402.2 46.4L401.9 49.1L403.0 48.8L404.5 48.4L404.7 46.8L403.9 45.5L403.0 44.5L404.9 43.0L405.8 42.2L406.9 41.4L408.3 41.7L409.9 40.4L411.2 39.1L412.4 37.7L413.6 36.2L414.3 34.9L415.2 33.3L415.0 32.4L413.3 31.8L411.8 32.0L409.8 31.1L411.6 29.6L414.4 28.3L416.2 27.2L418.4 27.0L420.2 27.1L421.9 26.8L424.1 27.1L427.5 27.0L428.7 25.2L431.6 24.8L434.5 24.3L435.1 24.3L434.3 25.6L431.6 26.5L429.0 28.5L427.7 29.3L427.8 31.8L428.6 34.2L428.8 34.6L430.1 33.4L431.5 32.5L431.6 31.2L433.4 30.9L433.2 29.8L434.3 28.7L434.5 27.8L435.7 26.7L437.1 26.6L439.1 26.2L440.7 26.5L442.2 25.6L444.4 24.9L446.6 24.3L448.6 24.5L448.3 23.0L447.0 22.4L449.2 22.1L451.0 21.7L452.7 22.7L455.4 22.6L456.7 21.7L458.2 21.2L456.3 20.3L453.6 19.9L449.2 18.7L445.7 17.9L441.3 17.7L440.4 18.6L436.9 18.1L432.5 18.1L431.6 17.1L429.0 16.8L425.4 16.8L422.8 15.9L418.4 15.5L414.9 15.3L413.6 16.4L409.6 16.4L406.5 17.0L404.3 16.4L404.3 15.2L402.5 14.6L399.0 15.0L395.1 14.6L391.1 14.4L390.2 12.8L386.7 11.8L384.0 11.0L382.3 10.9L378.8 11.9L376.1 12.4L372.6 12.4L367.3 13.3L364.7 14.3L362.0 14.6L361.6 15.9L358.9 15.7L357.6 16.5L359.4 17.0L358.9 18.6L356.3 19.2L355.7 19.9L354.5 20.8L354.3 19.6L355.4 18.6L354.8 16.8L355.7 15.3L352.8 14.8L351.0 16.4L349.7 17.7L349.7 18.6L351.5 19.2L348.8 18.1L347.0 18.3L344.0 17.9L343.7 18.9L341.3 18.8L339.1 19.0L337.8 19.2L336.0 19.0L333.8 19.4L331.2 19.4L331.6 20.5L329.9 19.0L328.8 18.9L329.6 20.8L327.7 20.9L325.9 22.1L324.6 22.4L323.3 23.1L321.2 22.5L321.1 21.7L319.7 20.8L322.4 21.0L326.3 21.0L327.0 20.1L324.6 19.2L322.4 18.6L319.7 18.2L318.0 17.7L315.8 16.8L313.4 16.7L310.9 17.4L308.3 17.7L306.1 18.6L304.8 19.0L303.0 20.3L301.7 21.7L300.4 22.5L299.0 23.4L296.8 24.0L295.3 24.7L295.1 26.3L295.5 27.4L296.8 28.3L298.2 28.0L299.9 27.1L300.5 27.8L301.2 29.2L301.9 30.1L302.0 30.5L303.3 30.5L304.8 29.8L305.2 28.7L305.6 27.8L307.0 27.0L307.0 26.3L305.8 25.6L305.9 24.5L307.0 23.7L309.2 22.5L310.1 21.5L312.3 21.5L312.9 22.3L310.9 23.2L309.6 23.9L309.5 25.8L310.9 26.5L313.6 26.3L315.8 26.1L317.1 26.5L315.3 27.0L311.8 27.0L311.4 28.0L312.1 28.9L310.1 28.6L309.2 29.8L309.2 31.0L307.9 31.5L307.0 31.2L304.8 31.6L303.3 31.8L301.7 31.6L300.4 31.8L299.5 30.9L300.1 29.6L299.9 28.6L297.9 29.2L297.9 30.5L298.4 31.8L296.8 32.3L295.1 32.5L294.2 33.6L292.9 34.5L292.1 34.9L290.9 35.8L289.4 35.6L289.2 36.6L286.5 36.7L286.9 37.3L288.5 37.7L289.6 38.9L289.4 41.1L287.2 41.1L283.6 40.9L282.6 41.5L282.9 43.3L282.3 45.3L282.8 46.8L284.5 46.8L285.4 47.6L285.9 47.6L286.8 47.1L288.9 47.1L290.2 46.0L290.9 45.3L290.4 44.6L291.4 43.5L293.5 42.5L293.3 41.3L294.6 41.2L296.4 41.5L297.3 40.8L298.4 40.3L299.7 41.1L301.5 42.7L303.0 43.5L304.5 44.2L304.8 45.8L304.5 46.0L305.2 45.3L305.8 44.6L305.2 44.2L305.6 43.8L307.0 44.1L306.5 43.6L304.8 42.5L303.0 42.0L302.6 41.0L301.5 40.4L301.5 39.5L302.7 39.2L303.4 39.6L304.1 40.7L306.1 41.5L307.7 42.5L307.8 43.9L309.0 45.5L309.3 46.2L310.1 47.1L310.9 47.3L311.0 46.4L311.8 46.0L311.4 45.1L310.8 43.8L311.8 44.0L312.7 43.4L313.8 43.6L313.8 44.2L314.5 45.5L314.7 46.8L315.8 47.1L317.6 47.0L318.9 47.6L320.6 47.4L322.4 47.1L322.4 48.2L321.9 49.9L321.3 51.3L320.8 51.9L319.3 52.0L318.0 51.7L316.2 52.2L312.7 51.5L310.9 50.6L308.3 50.6L308.3 52.4L307.4 52.8L304.2 51.0L301.2 50.5L299.9 49.8L299.5 49.1L300.4 46.9L299.5 46.6L296.8 46.8L293.3 46.9L290.7 47.9L288.9 48.5ZM316.2 43.1L318.4 43.1L320.2 42.4L321.5 42.4L323.1 43.0L325.0 43.3L327.2 42.9L327.2 41.8L325.5 40.9L323.7 40.0L324.4 38.9L325.0 37.8L322.4 38.3L321.5 39.2L322.8 39.5L321.8 39.8L320.4 40.3L319.3 39.3L320.2 38.9L318.4 38.4L317.5 38.9L316.8 39.6L316.0 40.7L315.2 41.7L315.5 42.7ZM333.8 46.4L335.0 46.7L336.5 47.1L338.2 46.8L338.0 44.9L337.3 44.2L337.2 43.0L336.8 42.0L335.6 40.2L337.4 39.5L337.4 38.2L335.6 38.0L333.8 38.4L332.5 39.3L331.9 40.2L332.5 41.5L333.6 42.7L334.3 43.8L333.8 45.1L333.7 46.0ZM285.8 35.4L287.6 35.1L290.7 34.6L291.9 34.2L292.2 33.0L290.9 32.7L290.5 31.8L289.4 30.9L288.9 30.1L288.0 30.1L289.1 28.7L287.2 28.6L288.0 27.8L286.3 27.8L285.2 29.2L285.8 30.1L286.3 30.9L288.0 31.4L288.0 32.4L286.7 32.4L287.0 33.3L286.1 33.8L288.0 34.1L286.7 34.4ZM285.4 33.4L282.0 34.0L281.9 32.3L283.2 31.4L283.6 30.8L285.4 30.8L285.8 31.4L285.2 32.3ZM270.9 23.1L274.2 23.5L277.7 22.7L278.7 21.8L277.7 21.0L276.6 20.8L274.8 21.1L272.8 21.2L271.7 21.7L270.9 20.9L269.3 21.6L271.3 21.9L269.5 22.3L271.3 22.7ZM300.4 9.3L303.0 11.0L305.6 11.8L309.2 10.3L307.0 9.2L310.9 9.5L314.5 8.8L308.3 8.4L300.4 9.0ZM301.7 46.0L304.3 45.8L304.0 47.1L301.7 46.3ZM298.0 43.4L299.2 43.3L299.1 44.9L298.2 45.1ZM298.3 41.9L299.0 41.7L298.9 43.0L298.3 42.6ZM311.5 48.2L313.8 48.4L312.3 48.7ZM152.8 16.5L156.8 17.0L160.3 17.4L166.5 18.0L170.9 18.7L172.6 18.1L177.0 17.7L180.6 17.7L181.5 18.2L184.1 17.9L187.6 18.7L189.4 19.6L193.8 19.5L195.5 19.0L198.2 19.2L200.8 19.6L204.4 19.4L206.1 19.2L206.6 18.1L207.9 16.1L209.6 17.2L211.0 18.6L213.2 19.0L214.0 19.9L215.4 18.1L218.4 17.9L219.1 19.0L218.4 20.3L216.2 21.2L214.0 21.8L213.2 23.0L211.0 23.4L209.2 24.5L207.4 26.1L207.3 27.6L209.2 29.2L213.2 29.8L215.8 30.7L218.2 30.8L218.3 32.7L219.3 33.9L219.8 34.2L221.1 34.0L221.1 31.8L220.6 31.2L222.9 30.1L223.1 28.7L221.5 27.7L222.4 26.5L222.0 24.5L225.5 24.5L227.7 25.4L229.5 25.6L229.5 27.4L230.8 27.8L233.0 27.0L233.8 26.2L235.6 27.8L236.5 29.6L238.3 30.9L240.0 31.8L241.3 33.1L241.6 34.0L240.5 34.2L237.8 35.2L234.3 35.1L232.1 35.2L229.9 36.7L228.1 38.2L230.3 36.7L233.4 36.1L234.0 36.7L232.5 37.1L233.4 38.0L234.3 38.7L236.5 39.2L237.8 38.1L236.9 39.5L234.7 40.1L232.5 41.1L232.4 40.2L233.9 39.3L231.7 39.8L229.9 40.7L228.8 41.1L228.3 42.0L229.0 42.7L227.7 43.0L225.5 43.7L225.3 44.6L224.2 46.0L223.7 46.8L224.0 48.2L222.9 49.0L221.1 49.9L219.3 51.4L219.2 53.0L220.1 55.2L220.4 56.9L219.3 57.6L218.3 56.3L217.3 54.8L217.3 53.7L216.7 53.0L215.4 53.2L213.6 52.8L212.1 52.9L212.0 53.8L210.5 53.7L208.1 53.3L207.0 53.7L205.2 54.8L204.8 56.7L204.5 59.7L205.1 61.4L206.1 62.8L207.4 63.5L209.6 63.1L210.7 62.4L211.0 61.0L214.0 60.5L213.6 62.3L213.2 63.2L212.9 65.4L214.9 65.5L216.7 65.7L217.3 66.3L217.1 68.5L216.9 69.8L218.0 71.3L218.9 71.8L220.2 71.4L221.1 71.2L222.4 71.9L223.0 72.2L224.2 70.1L224.8 69.7L226.4 69.4L227.5 68.6L227.7 69.8L229.0 69.1L230.5 70.0L232.5 70.2L233.9 70.5L236.1 70.1L236.2 70.9L237.1 72.0L238.7 72.9L240.0 74.1L242.2 74.3L244.4 75.0L245.5 75.8L246.5 78.0L246.6 79.3L248.0 80.2L249.3 80.2L251.5 81.6L253.7 82.0L255.9 82.2L257.6 83.6L259.6 84.2L260.0 85.9L259.7 87.7L257.9 89.5L256.8 91.0L256.3 93.3L256.1 95.3L255.4 97.1L254.6 98.8L253.7 99.8L251.5 100.1L249.9 100.8L248.0 102.3L247.9 103.9L247.1 105.2L245.9 107.1L244.7 108.3L243.6 109.6L242.2 110.4L240.6 110.0L239.2 109.6L240.2 110.9L240.6 111.8L239.9 113.3L238.3 113.8L236.1 114.0L235.8 115.6L233.4 115.8L234.3 117.1L233.2 118.0L233.0 119.3L231.2 120.2L232.7 121.4L232.1 122.4L230.3 123.9L229.9 125.1L230.4 125.9L230.5 126.4L233.2 128.0L232.1 128.3L229.9 128.6L227.7 127.3L226.4 126.4L225.1 125.5L224.3 123.7L224.2 122.0L225.1 120.9L224.2 120.2L225.5 118.9L226.4 116.7L225.8 114.5L226.0 112.5L226.8 110.9L227.6 108.7L227.7 106.1L227.9 104.3L228.6 102.1L228.8 99.0L228.8 95.8L227.7 94.8L224.6 93.1L223.5 91.7L222.7 90.2L221.7 88.4L220.6 86.2L219.3 84.9L219.1 83.5L219.9 82.5L220.2 81.8L219.3 81.5L219.6 80.4L220.1 79.1L221.1 78.2L221.5 77.3L222.6 76.1L222.4 74.7L222.5 73.4L221.7 72.7L221.8 72.1L220.6 71.7L219.9 72.3L219.8 73.1L218.7 72.7L217.7 72.3L216.9 71.9L215.8 70.7L215.1 70.4L215.2 69.7L213.6 68.1L213.2 67.9L211.4 67.4L210.1 67.2L208.3 65.6L207.0 65.2L205.7 65.7L203.5 64.8L201.3 64.0L199.5 63.4L197.7 61.9L197.9 60.5L196.9 59.0L195.5 57.5L194.3 56.6L193.3 55.2L191.8 54.1L191.1 52.1L189.6 51.5L189.6 52.6L191.1 54.8L192.0 56.1L193.3 58.2L194.2 59.0L193.6 59.2L191.8 57.5L190.7 56.0L190.1 55.2L189.4 54.8L190.0 54.2L188.7 52.8L187.6 50.8L186.3 49.5L184.4 49.1L183.3 47.2L182.8 46.1L181.6 44.6L181.2 43.8L181.3 42.4L181.4 40.7L181.5 38.7L180.8 36.8L182.3 36.9L182.8 37.7L182.5 36.2L181.0 35.4L178.4 34.0L177.9 33.1L176.2 31.4L174.8 30.5L173.1 29.2L171.8 27.8L170.0 27.8L167.8 26.7L165.6 26.5L163.8 26.5L162.1 25.8L160.3 26.1L159.0 26.8L157.2 27.1L157.2 26.1L158.6 25.5L156.8 25.8L155.5 27.0L154.8 27.8L152.8 29.0L151.1 30.1L148.9 30.8L146.7 31.1L145.5 31.4L147.5 30.7L149.3 30.1L151.1 28.9L151.9 27.7L150.6 27.8L148.0 27.7L148.0 26.5L145.8 26.1L144.5 25.0L145.3 24.1L145.6 23.7L148.4 23.4L148.9 22.5L147.1 22.5L144.0 22.4L142.7 21.6L145.8 20.8L148.0 21.0L146.7 20.2L144.5 19.0L147.1 18.3L149.7 17.2ZM226.4 10.4L230.8 8.4L236.1 7.2L244.9 6.6L255.4 5.8L264.2 5.7L271.3 6.6L274.8 7.5L280.1 7.5L274.8 8.8L274.4 10.6L273.1 12.4L273.5 13.7L271.3 15.0L271.3 16.8L268.7 17.4L270.4 17.9L267.8 19.0L263.4 19.4L260.7 20.8L257.2 21.6L255.0 22.5L253.7 24.3L252.8 26.3L251.0 26.7L248.4 25.8L246.6 24.3L245.3 23.0L243.6 20.8L244.0 19.2L245.8 18.1L243.1 17.2L242.7 15.5L240.5 13.7L237.8 12.4L232.5 12.4L229.9 11.9L228.1 11.0ZM236.5 20.6L234.3 22.1L233.4 23.9L232.1 23.9L230.8 24.6L228.1 24.0L225.9 22.5L222.4 22.7L222.0 21.7L225.5 21.7L226.4 20.3L224.2 19.2L221.5 18.1L220.6 17.7L215.8 17.7L212.7 17.0L211.8 15.5L213.2 14.3L218.4 14.4L220.2 15.5L222.9 15.2L226.4 16.1L230.3 17.4L231.7 18.6L234.3 19.4L236.1 20.3ZM187.2 16.4L189.4 14.8L195.5 15.0L198.2 15.9L201.3 17.7L199.9 18.7L195.5 18.8L191.1 19.0L188.5 18.6L186.7 17.2ZM180.6 15.9L182.3 14.1L187.6 14.0L188.9 14.8L185.0 16.4L182.3 16.6ZM221.1 11.9L213.2 11.9L211.4 10.2L214.9 8.8L209.6 7.7L215.8 6.8L224.6 6.2L233.4 6.4L236.1 7.1L232.5 8.0L229.0 8.8L224.6 9.7L223.7 11.0ZM220.2 12.8L209.6 12.4L209.6 13.4L220.2 13.6ZM187.6 13.1L192.0 12.1L197.3 12.4L197.3 13.3L192.0 13.7ZM200.8 14.3L205.2 14.3L205.2 16.4L202.6 16.1L200.8 15.2ZM206.6 14.1L211.0 14.1L210.5 15.2L207.0 15.9ZM206.1 8.4L213.2 8.4L214.9 9.7L209.6 10.4ZM199.1 11.9L204.4 11.9L204.4 13.3L199.9 13.1ZM214.0 23.0L215.4 21.4L216.7 21.8L218.9 22.7L219.9 23.2L217.6 23.4L215.4 23.7ZM238.4 37.4L241.3 38.1L243.8 38.3L244.3 37.5L243.6 36.6L243.3 35.9L241.6 35.2L241.8 33.9L240.5 34.5L239.6 35.8L238.4 36.9ZM215.8 60.4L217.6 59.0L219.8 58.9L222.9 60.2L225.3 61.5L222.2 62.2L221.8 61.5L219.8 60.6L218.4 60.0L216.7 60.5ZM225.1 63.3L226.6 62.0L229.0 62.0L230.4 63.1L228.6 63.5L227.5 63.9L225.7 63.6ZM221.7 63.4L223.5 63.6L222.7 63.8ZM231.5 63.3L232.8 63.4L232.5 63.6ZM177.7 34.7L180.6 35.4L181.9 36.7L180.7 36.6L179.2 35.8ZM173.5 31.8L174.7 31.8L175.1 33.4L174.0 32.7ZM153.3 61.7L154.2 62.2L153.5 62.8ZM154.6 28.7L156.3 28.3L156.5 28.9L155.0 29.3ZM236.9 125.1L239.6 125.0L238.7 125.8L237.1 125.5ZM236.2 70.1L236.9 70.0L236.9 70.6L236.2 70.6ZM182.3 12.4L185.9 11.2L188.5 11.9L185.9 12.6ZM198.2 10.4L201.7 9.5L204.4 10.2L201.7 10.9ZM205.7 13.3L207.9 12.7L208.8 13.4L207.0 13.7ZM203.5 18.6L205.2 17.9L206.6 18.6L205.2 19.0ZM219.8 15.0L222.0 14.4L223.7 15.0L222.0 15.4ZM222.4 20.2L223.7 19.4L224.6 20.1L223.5 20.4ZM217.6 24.0L218.9 24.0L218.4 24.6ZM219.9 24.5L220.6 24.6L220.4 25.1ZM218.4 32.6L219.6 32.7L219.1 33.0ZM233.9 35.4L236.2 36.0L234.7 36.1ZM234.0 38.3L236.1 38.4L235.4 38.9ZM242.4 18.1L244.0 17.4L244.9 17.9L243.6 18.3ZM139.6 23.3L142.0 23.6L141.1 23.9ZM143.4 26.3L144.8 26.2L144.5 26.7ZM145.3 31.1L146.9 30.9L146.7 31.4ZM171.8 28.3L172.6 28.0L172.4 29.0ZM225.3 116.7L225.9 116.7L225.8 117.9L225.2 117.6ZM224.3 122.4L225.1 122.5L224.8 123.7L224.2 123.5ZM228.6 126.2L230.3 126.1L230.3 126.8L229.0 127.3ZM245.9 79.7L247.5 79.7L247.8 80.6L246.2 80.9ZM298.2 76.2L298.6 76.3L298.3 76.7Z" fill="#fff" fill-rule="evenodd" stroke="#111" stroke-width="0.58" stroke-linejoin="round"/><path d="M-185.0 154.7L-171.8 155.3L-160.3 155.1L-156.8 152.9L-158.6 150.3L-160.3 148.5L-158.6 147.8L-156.8 147.4L-154.1 146.3L-149.7 145.8L-140.9 145.4L-132.1 145.0L-127.7 145.0L-123.3 145.4L-117.2 145.8L-114.5 144.1L-110.1 144.1L-105.7 144.1L-101.3 144.3L-96.9 144.1L-93.4 144.1L-92.5 142.7L-89.8 141.4L-87.2 140.5L-85.4 138.8L-83.7 137.4L-81.0 136.4L-78.4 135.6L-76.6 135.5L-78.0 136.6L-79.7 137.4L-81.0 138.3L-82.4 139.7L-80.2 140.5L-80.2 142.3L-80.2 144.1L-80.6 145.7L-77.5 146.5L-74.9 147.6L-70.5 148.3L-66.1 148.5L-59.9 148.5L-57.3 148.1L-51.1 146.7L-47.6 145.4L-44.0 144.5L-39.6 143.6L-36.1 142.5L-30.8 142.0L-26.4 141.2L-22.0 141.4L-17.6 141.4L-13.2 141.2L-8.8 141.4L-4.4 141.6L0.0 140.7L2.6 140.3L4.4 140.8L7.0 141.2L8.8 140.5L13.2 139.4L17.6 138.3L20.3 137.8L23.8 138.5L26.4 139.1L30.8 139.5L34.4 139.5L35.2 140.3L37.0 141.0L38.8 141.2L41.4 140.5L44.0 139.5L45.8 138.8L50.2 138.3L52.9 138.5L57.3 138.3L59.9 137.7L61.7 137.6L66.1 138.3L70.5 138.1L73.1 137.7L76.6 138.8L79.3 138.6L83.7 138.2L88.1 138.1L92.5 137.9L96.9 138.5L99.5 138.8L102.2 139.5L105.7 140.0L110.1 140.7L114.5 141.6L117.2 142.0L120.7 142.5L123.8 143.0L121.6 144.5L118.0 145.8L115.4 147.6L114.5 149.8L117.2 152.0L123.3 153.8L132.1 154.7M38.3 39.3L39.6 38.4L41.4 38.4L43.2 38.4M65.2 33.9L66.9 33.1L69.1 31.8L70.3 30.4M3.5 87.9L4.1 90.2L4.4 92.2M-0.7 82.6L-0.3 84.9L0.7 87.2M132.1 154.7L145.3 155.3L156.8 155.1L160.3 152.9L158.6 150.3L156.8 148.5L158.6 147.8L160.3 147.4L163.0 146.3L167.4 145.8L176.2 145.4L185.0 145.0L189.4 145.0L193.8 145.4L199.9 145.8L202.6 144.1L207.0 144.1L211.4 144.1L215.8 144.3L220.2 144.1L223.7 144.1L224.6 142.7L227.3 141.4L229.9 140.5L231.7 138.8L233.4 137.4L236.1 136.4L238.7 135.6L240.5 135.5L239.1 136.6L237.4 137.4L236.1 138.3L234.7 139.7L236.9 140.5L236.9 142.3L236.9 144.1L236.5 145.7L239.6 146.5L242.2 147.6L246.6 148.3L251.0 148.5L257.2 148.5L259.8 148.1L266.0 146.7L269.5 145.4L273.1 144.5L277.5 143.6L281.0 142.5L286.3 142.0L290.7 141.2L295.1 141.4L299.5 141.4L303.9 141.2L308.3 141.4L312.7 141.6L317.1 140.7L319.7 140.3L321.5 140.8L324.1 141.2L325.9 140.5L330.3 139.4L334.7 138.3L337.4 137.8L340.9 138.5L343.5 139.1L347.9 139.5L351.5 139.5L352.3 140.3L354.1 141.0L355.9 141.2L358.5 140.5L361.1 139.5L362.9 138.8L367.3 138.3L369.9 138.5L374.4 138.3L377.0 137.7L378.8 137.6L383.2 138.3L387.6 138.1L390.2 137.7L393.7 138.8L396.4 138.6L400.8 138.2L405.2 138.1L409.6 137.9L414.0 138.5L416.6 138.8L419.3 139.5L422.8 140.0L427.2 140.7L431.6 141.6L434.3 142.0L437.8 142.5L440.9 143.0L438.7 144.5L435.1 145.8L432.5 147.6L431.6 149.8L434.3 152.0L440.4 153.8L449.2 154.7M192.5 27.7L194.7 27.2L197.3 27.1M316.4 82.6L316.8 84.9L317.8 87.2M200.4 29.6L200.8 28.3M24.9 40.2L25.5 40.9L26.9 40.8L27.6 39.8L27.3 38.6L26.2 38.3L25.3 39.1ZM1.6 79.8L3.5 79.4L3.8 80.9L2.6 81.9L1.6 81.3ZM0.4 26.3L2.2 25.2L2.6 25.9L1.3 26.5ZM4.0 25.6L4.8 24.3L5.5 25.2ZM181.5 21.7L184.1 20.3L186.7 20.8L185.9 22.1L183.2 22.1ZM187.6 25.6L190.3 24.3L194.2 24.0L192.9 24.9L190.3 25.6ZM203.5 32.0L204.4 34.5L205.9 34.9L205.2 33.1L204.4 32.0ZM209.6 38.3L212.3 37.1L214.5 37.3L216.1 38.4L214.0 38.4L211.4 38.4ZM213.3 42.4L214.5 42.6L214.9 40.7L215.8 39.1L214.5 39.1L213.3 40.7ZM216.2 38.9L218.9 38.9L220.2 40.0L218.7 41.4L218.0 41.4L217.1 40.2L216.7 39.3ZM217.3 42.6L220.2 42.2L221.1 41.7L219.3 41.8L217.6 42.2ZM220.5 41.3L222.9 41.3L223.5 40.7L222.0 40.7ZM318.7 79.8L320.6 79.4L320.9 80.9L319.7 81.9L318.7 81.3ZM302.6 67.4L303.6 67.4L303.4 68.2L302.7 68.3ZM317.5 26.3L319.3 25.2L319.7 25.9L318.4 26.5Z" fill="none" stroke="#111" stroke-width="0.58" stroke-linejoin="round"/><g fill="#fff" stroke="#444" stroke-width="0.25"><circle cx="130.4" cy="95.3" r="0.90"/><circle cx="131.5" cy="94.1" r="0.60"/><circle cx="120.7" cy="93.3" r="0.60"/><circle cx="121.8" cy="95.2" r="0.50"/><circle cx="56.1" cy="72.9" r="0.50"/><circle cx="24.2" cy="97.4" r="0.50"/><circle cx="22.5" cy="98.2" r="0.50"/><circle cx="11.9" cy="90.0" r="0.50"/><circle cx="22.5" cy="83.6" r="0.40"/><circle cx="21.0" cy="68.5" r="0.65"/><circle cx="86.3" cy="56.1" r="0.55"/><circle cx="83.0" cy="58.0" r="0.45"/><circle cx="87.6" cy="54.5" r="0.45"/><circle cx="101.9" cy="66.2" r="0.40"/><circle cx="101.1" cy="67.7" r="0.50"/><circle cx="41.8" cy="113.1" r="0.40"/><circle cx="6.9" cy="120.9" r="0.45"/><circle cx="19.1" cy="120.6" r="0.45"/><circle cx="38.3" cy="126.4" r="0.50"/><circle cx="120.3" cy="80.0" r="0.35"/><circle cx="126.0" cy="78.3" r="0.40"/><circle cx="124.4" cy="73.3" r="0.40"/><circle cx="112.9" cy="73.5" r="0.45"/><circle cx="107.3" cy="73.0" r="0.40"/><circle cx="92.0" cy="73.0" r="0.45"/><circle cx="119.8" cy="124.4" r="0.45"/><circle cx="122.4" cy="126.0" r="0.40"/><circle cx="113.5" cy="127.8" r="0.40"/><circle cx="58.8" cy="90.3" r="0.35"/><circle cx="66.7" cy="88.8" r="0.35"/><circle cx="37.3" cy="86.0" r="0.35"/><circle cx="153.7" cy="62.2" r="1.00"/><circle cx="151.6" cy="60.6" r="0.55"/><circle cx="150.2" cy="60.1" r="0.50"/><circle cx="139.2" cy="91.7" r="0.60"/><circle cx="159.0" cy="95.1" r="0.55"/><circle cx="163.0" cy="93.7" r="0.40"/><circle cx="166.5" cy="95.9" r="0.40"/><circle cx="210.5" cy="80.0" r="0.80"/><circle cx="276.6" cy="54.5" r="0.65"/><circle cx="269.8" cy="65.8" r="0.60"/><circle cx="266.9" cy="45.5" r="0.50"/><circle cx="275.7" cy="50.6" r="0.40"/><circle cx="258.3" cy="127.5" r="0.75"/><circle cx="236.5" cy="65.4" r="0.45"/><circle cx="236.9" cy="66.7" r="0.45"/><circle cx="236.8" cy="67.9" r="0.40"/><circle cx="238.2" cy="68.0" r="0.40"/><circle cx="222.4" cy="57.9" r="0.50"/><circle cx="222.0" cy="56.1" r="0.50"/><circle cx="293.3" cy="44.5" r="0.55"/><circle cx="233.6" cy="51.0" r="0.40"/><circle cx="285.7" cy="93.7" r="0.40"/><circle cx="278.0" cy="86.5" r="0.40"/><circle cx="267.3" cy="130.8" r="0.45"/><circle cx="250.6" cy="133.1" r="0.50"/><circle cx="239.1" cy="134.4" r="0.60"/><circle cx="141.0" cy="96.3" r="0.40"/><circle cx="136.4" cy="98.3" r="0.45"/><circle cx="149.9" cy="98.3" r="0.40"/><circle cx="135.2" cy="118.4" r="0.50"/><circle cx="194.3" cy="103.5" r="0.35"/><circle cx="220.2" cy="109.2" r="0.35"/></g><path d="M37.9 73.4L38.1 76.9L38.2 80.1" fill="none" stroke="#fff" stroke-width="0.8" stroke-linecap="round"/><path d="M55.3 67.6L55.5 69.4" fill="none" stroke="#fff" stroke-width="0.7" stroke-linecap="round"/><path d="M118.0 97.4L120.7 99.3" fill="none" stroke="#fff" stroke-width="0.9" stroke-linecap="round"/><path d="M111.4 85.6L113.6 86.9L115.8 88.4" fill="none" stroke="#fff" stroke-width="0.8" stroke-linecap="round"/><path d="M140.2 92.2L138.7 91.6" fill="none" stroke="#fff" stroke-width="0.6" stroke-linecap="round"/><path d="M125.1 32.8L128.6 33.6L132.1 33.9L135.6 33.8L139.2 33.3L142.7 32.5L145.3 31.8" fill="none" stroke="#333" stroke-width="0.6" stroke-dasharray="0.9 1.6"/><path d="M102.2 40.1L104.4 39.2L106.6 38.2L108.8 36.7L110.5 35.2" fill="none" stroke="#333" stroke-width="0.6" stroke-dasharray="0.9 1.6"/></g>
<clipPath id="dm"><path d="M-1.8 8.2L26.4 8.2L39.6 8.4L55.5 9.7L61.7 10.6L66.9 11.0L83.7 11.5L96.9 11.9L106.6 14.1L107.5 21.2L132.1 21.2L134.8 17.7L146.2 17.7L147.1 21.2L159.4 21.2L160.3 14.1L179.7 15.0L181.5 26.5L206.1 26.5L206.1 23.0L222.0 23.0L223.7 22.1L230.8 22.5L234.3 21.2L229.0 17.7L222.0 15.0L222.0 11.5L237.8 11.5L240.5 17.7L255.4 21.2L269.5 20.3L273.9 17.7L281.9 13.3L290.7 9.7L299.5 8.2L318.9 8.2L318.9 131.4L293.3 131.4L277.5 132.6L270.4 134.4L242.2 134.4L240.5 135.2L237.8 134.4L233.4 137.0L223.7 139.2L204.4 139.9L181.5 138.8L159.4 136.6L140.9 136.6L105.7 135.7L88.1 134.4L70.5 134.4L35.2 133.5L-1.8 133.5ZM315.3 8.2L343.5 8.2L356.7 8.4L372.6 9.7L378.8 10.6L384.0 11.0L400.8 11.5L414.0 11.9L423.7 14.1L424.6 21.2L449.2 21.2L451.9 17.7L463.3 17.7L464.2 21.2L476.5 21.2L477.4 14.1L496.8 15.0L498.6 26.5L523.2 26.5L523.2 23.0L539.1 23.0L540.8 22.1L547.9 22.5L551.4 21.2L546.1 17.7L539.1 15.0L539.1 11.5L554.9 11.5L557.6 17.7L572.5 21.2L586.6 20.3L591.0 17.7L599.0 13.3L607.8 9.7L616.6 8.2L636.0 8.2L636.0 131.4L610.4 131.4L594.6 132.6L587.5 134.4L559.3 134.4L557.6 135.2L554.9 134.4L550.5 137.0L540.8 139.2L521.5 139.9L498.6 138.8L476.5 136.6L458.0 136.6L422.8 135.7L405.2 134.4L387.6 134.4L352.3 133.5L315.3 133.5Z"/></clipPath>
<filter id="cm0" x="-20" y="-20" width="358" height="199" filterUnits="userSpaceOnUse" color-interpolation-filters="sRGB"><feGaussianBlur in="SourceGraphic" stdDeviation="2.8 1.9" result="b"/><feTurbulence type="fractalNoise" baseFrequency="0.2" numOctaves="3" seed="3" result="n"/><feColorMatrix in="n" type="matrix" values="1 0 0 0 0 1 0 0 0 0 1 0 0 0 0 0 0 0 0 1" result="ng"/><feComposite in="b" in2="ng" operator="arithmetic" k1="0" k2="1" k3="0.13" k4="-0.065" result="f"/><feComponentTransfer in="f"><feFuncR type="discrete" tableValues="0.000 0.000 0.000 0.000 0.192 0.706 1.000 1.000 1.000 0.945 0.710 0.345"/><feFuncG type="discrete" tableValues="0.000 0.498 0.933 0.804 0.737 0.894 0.933 0.682 0.416 0.098 0.000 0.000"/><feFuncB type="discrete" tableValues="1.000 1.000 0.933 0.424 0.000 0.000 0.000 0.000 0.000 0.055 0.275 0.588"/><feFuncA type="linear" slope="0" intercept="1"/></feComponentTransfer></filter>
<filter id="cm1" x="-20" y="-20" width="358" height="199" filterUnits="userSpaceOnUse" color-interpolation-filters="sRGB"><feGaussianBlur in="SourceGraphic" stdDeviation="3.0 2.0" result="b"/><feTurbulence type="fractalNoise" baseFrequency="0.2" numOctaves="3" seed="5" result="n"/><feColorMatrix in="n" type="matrix" values="1 0 0 0 0 1 0 0 0 0 1 0 0 0 0 0 0 0 0 1" result="ng"/><feComposite in="b" in2="ng" operator="arithmetic" k1="0" k2="1" k3="0.07" k4="-0.035" result="f"/><feComponentTransfer in="f"><feFuncR type="discrete" tableValues="0.000 0.000 0.000 0.000 0.000 0.157 0.549 1.000 1.000 1.000 1.000 1.000 0.882 0.643 0.345"/><feFuncG type="discrete" tableValues="0.000 0.392 0.784 0.902 0.784 0.725 0.843 1.000 0.843 0.667 0.471 0.176 0.000 0.000 0.000"/><feFuncB type="discrete" tableValues="1.000 1.000 1.000 0.745 0.353 0.000 0.000 0.000 0.000 0.000 0.000 0.000 0.118 0.337 0.588"/><feFuncA type="linear" slope="0" intercept="1"/></feComponentTransfer></filter>
<filter id="cm2" x="-20" y="-20" width="358" height="199" filterUnits="userSpaceOnUse" color-interpolation-filters="sRGB"><feGaussianBlur in="SourceGraphic" stdDeviation="2.8 1.8" result="b"/><feTurbulence type="fractalNoise" baseFrequency="0.28" numOctaves="3" seed="7" result="n"/><feColorMatrix in="n" type="matrix" values="1 0 0 0 0 1 0 0 0 0 1 0 0 0 0 0 0 0 0 1" result="ng"/><feComponentTransfer in="ng" result="ngl"><feFuncR type="linear" slope="2" intercept="-0.5"/><feFuncG type="linear" slope="2" intercept="-0.5"/><feFuncB type="linear" slope="2" intercept="-0.5"/></feComponentTransfer><feComponentTransfer in="ngl" result="ngg"><feFuncR type="gamma" amplitude="1" exponent="1.3" offset="0"/><feFuncG type="gamma" amplitude="1" exponent="1.3" offset="0"/><feFuncB type="gamma" amplitude="1" exponent="1.3" offset="0"/></feComponentTransfer><feComposite in="b" in2="ngg" operator="arithmetic" k1="0.6" k2="0.58" k3="0" k4="0" result="f"/><feComponentTransfer in="f"><feFuncR type="discrete" tableValues="0.000 0.000 0.000 0.000 0.000 0.000 0.067 0.220 0.506 0.831 1.000 1.000 1.000 1.000 1.000 0.996 0.906 0.757 0.565 0.345"/><feFuncG type="discrete" tableValues="0.000 0.290 0.576 0.843 0.906 0.820 0.761 0.745 0.831 0.937 0.961 0.824 0.694 0.553 0.376 0.169 0.035 0.000 0.000 0.000"/><feFuncB type="discrete" tableValues="1.000 1.000 1.000 0.976 0.765 0.475 0.204 0.000 0.000 0.000 0.000 0.000 0.000 0.000 0.000 0.004 0.094 0.231 0.400 0.588"/><feFuncA type="linear" slope="0" intercept="1"/></feComponentTransfer></filter>
<filter id="cm3" x="-20" y="-20" width="358" height="199" filterUnits="userSpaceOnUse" color-interpolation-filters="sRGB"><feGaussianBlur in="SourceGraphic" stdDeviation="2.8 1.8" result="b"/><feTurbulence type="fractalNoise" baseFrequency="0.27" numOctaves="3" seed="9" result="n"/><feColorMatrix in="n" type="matrix" values="1 0 0 0 0 1 0 0 0 0 1 0 0 0 0 0 0 0 0 1" result="ng"/><feComponentTransfer in="ng" result="ngl"><feFuncR type="linear" slope="2" intercept="-0.5"/><feFuncG type="linear" slope="2" intercept="-0.5"/><feFuncB type="linear" slope="2" intercept="-0.5"/></feComponentTransfer><feComponentTransfer in="ngl" result="ngg"><feFuncR type="gamma" amplitude="1" exponent="1.8" offset="0"/><feFuncG type="gamma" amplitude="1" exponent="1.8" offset="0"/><feFuncB type="gamma" amplitude="1" exponent="1.8" offset="0"/></feComponentTransfer><feComposite in="b" in2="ngg" operator="arithmetic" k1="1.5" k2="0.42" k3="0" k4="-0.014" result="f"/><feComponentTransfer in="f"><feFuncR type="discrete" tableValues="0.000 0.000 0.000 0.000 0.000 0.000 0.031 0.141 0.392 0.678 1.000 1.000 1.000 1.000 1.000 1.000 0.976 0.894 0.741 0.553 0.345"/><feFuncG type="discrete" tableValues="0.000 0.275 0.549 0.812 0.918 0.843 0.773 0.729 0.796 0.886 1.000 0.918 0.773 0.647 0.510 0.322 0.141 0.016 0.000 0.000 0.000"/><feFuncB type="discrete" tableValues="1.000 1.000 1.000 0.988 0.827 0.549 0.282 0.035 0.000 0.000 0.000 0.000 0.000 0.000 0.000 0.000 0.024 0.106 0.247 0.412 0.588"/><feFuncA type="linear" slope="0" intercept="1"/></feComponentTransfer></filter>

</defs>
<rect width="716" height="506" fill="#fff"/>
<g transform="translate(31.30,55.40)" clip-path="url(#pc)">
<g clip-path="url(#dm)"><g filter="url(#cm0)"><path fill="#202020" d="M211.4 -8.8h44.3v4.7h-44.3zM211.4 -4.4h44.3v4.7h-44.3zM211.4 0.0h44.3v4.7h-44.3zM211.4 4.4h44.3v4.7h-44.3zM211.4 8.8h44.3v4.7h-44.3zM211.4 13.3h44.3v4.7h-44.3zM220.2 17.7h26.7v4.7h-26.7zM88.1 22.1h26.7v4.7h-26.7zM229.0 22.1h9.1v4.7h-9.1zM61.7 26.5h53.1v4.7h-53.1zM52.9 30.9h62.0v4.7h-62.0zM61.7 35.4h44.3v4.7h-44.3zM17.6 39.8h35.5v4.7h-35.5zM88.1 39.8h9.1v4.7h-9.1zM334.7 39.8h9.1v4.7h-9.1zM0.0 44.2h53.1v4.7h-53.1zM88.1 44.2h9.1v4.7h-9.1zM317.1 44.2h26.7v4.7h-26.7zM193.8 53.0h9.1v4.7h-9.1zM211.4 53.0h9.1v4.7h-9.1zM193.8 57.5h9.1v4.7h-9.1zM193.8 61.9h9.1v4.7h-9.1zM88.1 75.1h26.7v4.7h-26.7zM35.2 79.5h9.1v4.7h-9.1zM96.9 79.5h9.1v4.7h-9.1z"/><path fill="#252525" d="M202.6 -8.8h9.1v4.7h-9.1zM202.6 -4.4h9.1v4.7h-9.1zM202.6 0.0h9.1v4.7h-9.1zM202.6 4.4h9.1v4.7h-9.1zM202.6 8.8h9.1v4.7h-9.1z"/><path fill="#272727" d="M79.3 22.1h9.1v4.7h-9.1z"/><path fill="#2a2a2a" d="M255.4 -8.8h9.1v4.7h-9.1zM255.4 -4.4h9.1v4.7h-9.1zM255.4 0.0h9.1v4.7h-9.1zM255.4 4.4h9.1v4.7h-9.1zM255.4 8.8h9.1v4.7h-9.1zM202.6 13.3h9.1v4.7h-9.1zM255.4 13.3h9.1v4.7h-9.1zM246.6 17.7h9.1v4.7h-9.1zM220.2 22.1h9.1v4.7h-9.1zM52.9 35.4h9.1v4.7h-9.1zM8.8 39.8h9.1v4.7h-9.1zM79.3 39.8h9.1v4.7h-9.1zM325.9 39.8h9.1v4.7h-9.1zM17.6 48.6h9.1v4.7h-9.1zM193.8 48.6h9.1v4.7h-9.1zM211.4 48.6h9.1v4.7h-9.1zM334.7 48.6h9.1v4.7h-9.1z"/><path fill="#2d2d2d" d="M52.9 39.8h9.1v4.7h-9.1z"/><path fill="#2e2e2e" d="M105.7 17.7h9.1v4.7h-9.1z"/><path fill="#2f2f2f" d="M193.8 -8.8h9.1v4.7h-9.1zM193.8 -4.4h9.1v4.7h-9.1zM193.8 0.0h9.1v4.7h-9.1zM193.8 4.4h9.1v4.7h-9.1zM193.8 8.8h9.1v4.7h-9.1z"/><path fill="#303030" d="M70.5 39.8h9.1v4.7h-9.1z"/><path fill="#323232" d="M193.8 13.3h9.1v4.7h-9.1zM61.7 39.8h9.1v4.7h-9.1z"/><path fill="#353535" d="M0.0 -8.8h35.5v4.7h-35.5zM52.9 -8.8h17.9v4.7h-17.9zM88.1 -8.8h106.0v4.7h-106.0zM264.2 -8.8h26.7v4.7h-26.7zM317.1 -8.8h26.7v4.7h-26.7zM0.0 -4.4h35.5v4.7h-35.5zM52.9 -4.4h17.9v4.7h-17.9zM88.1 -4.4h106.0v4.7h-106.0zM264.2 -4.4h26.7v4.7h-26.7zM317.1 -4.4h26.7v4.7h-26.7zM0.0 0.0h35.5v4.7h-35.5zM52.9 0.0h17.9v4.7h-17.9zM88.1 0.0h106.0v4.7h-106.0zM264.2 0.0h26.7v4.7h-26.7zM317.1 0.0h26.7v4.7h-26.7zM0.0 4.4h35.5v4.7h-35.5zM52.9 4.4h17.9v4.7h-17.9zM88.1 4.4h106.0v4.7h-106.0zM264.2 4.4h26.7v4.7h-26.7zM317.1 4.4h26.7v4.7h-26.7zM0.0 8.8h35.5v4.7h-35.5zM52.9 8.8h17.9v4.7h-17.9zM88.1 8.8h106.0v4.7h-106.0zM264.2 8.8h26.7v4.7h-26.7zM317.1 8.8h26.7v4.7h-26.7zM17.6 13.3h17.9v4.7h-17.9zM61.7 13.3h132.4v4.7h-132.4zM264.2 13.3h26.7v4.7h-26.7zM334.7 13.3h9.1v4.7h-9.1zM0.0 17.7h35.5v4.7h-35.5zM61.7 17.7h44.3v4.7h-44.3zM114.5 17.7h106.0v4.7h-106.0zM273.1 17.7h17.9v4.7h-17.9zM317.1 17.7h26.7v4.7h-26.7zM-8.8 22.1h44.3v4.7h-44.3zM61.7 22.1h17.9v4.7h-17.9zM114.5 22.1h62.0v4.7h-62.0zM185.0 22.1h35.5v4.7h-35.5zM237.8 22.1h17.9v4.7h-17.9zM308.3 22.1h35.5v4.7h-35.5zM-8.8 26.5h44.3v4.7h-44.3zM114.5 26.5h62.0v4.7h-62.0zM193.8 26.5h62.0v4.7h-62.0zM308.3 26.5h35.5v4.7h-35.5zM-8.8 30.9h53.1v4.7h-53.1zM114.5 30.9h53.1v4.7h-53.1zM202.6 30.9h44.3v4.7h-44.3zM308.3 30.9h35.5v4.7h-35.5zM-17.6 35.4h70.8v4.7h-70.8zM105.7 35.4h26.7v4.7h-26.7zM149.7 35.4h17.9v4.7h-17.9zM202.6 35.4h35.5v4.7h-35.5zM299.5 35.4h44.3v4.7h-44.3zM-26.4 39.8h35.5v4.7h-35.5zM96.9 39.8h79.6v4.7h-79.6zM255.4 39.8h26.7v4.7h-26.7zM290.7 39.8h35.5v4.7h-35.5zM-26.4 44.2h26.7v4.7h-26.7zM52.9 44.2h35.5v4.7h-35.5zM96.9 44.2h70.8v4.7h-70.8zM193.8 44.2h9.1v4.7h-9.1zM246.6 44.2h26.7v4.7h-26.7zM290.7 44.2h26.7v4.7h-26.7zM-17.6 48.6h35.5v4.7h-35.5zM61.7 48.6h44.3v4.7h-44.3zM185.0 48.6h9.1v4.7h-9.1zM202.6 48.6h9.1v4.7h-9.1zM220.2 48.6h9.1v4.7h-9.1zM237.8 48.6h26.7v4.7h-26.7zM299.5 48.6h35.5v4.7h-35.5zM-17.6 53.0h44.3v4.7h-44.3zM88.1 53.0h26.7v4.7h-26.7zM176.2 53.0h17.9v4.7h-17.9zM202.6 53.0h9.1v4.7h-9.1zM220.2 53.0h26.7v4.7h-26.7zM299.5 53.0h44.3v4.7h-44.3zM-17.6 57.5h35.5v4.7h-35.5zM61.7 57.5h44.3v4.7h-44.3zM185.0 57.5h9.1v4.7h-9.1zM202.6 57.5h35.5v4.7h-35.5zM299.5 57.5h35.5v4.7h-35.5zM-26.4 61.9h35.5v4.7h-35.5zM79.3 61.9h35.5v4.7h-35.5zM202.6 61.9h9.1v4.7h-9.1zM264.2 61.9h62.0v4.7h-62.0zM-8.8 66.3h26.7v4.7h-26.7zM61.7 66.3h9.1v4.7h-9.1zM79.3 66.3h35.5v4.7h-35.5zM193.8 66.3h17.9v4.7h-17.9zM264.2 66.3h26.7v4.7h-26.7zM308.3 66.3h26.7v4.7h-26.7zM61.7 70.7h62.0v4.7h-62.0zM167.4 70.7h53.1v4.7h-53.1zM237.8 70.7h26.7v4.7h-26.7zM26.4 75.1h17.9v4.7h-17.9zM52.9 75.1h35.5v4.7h-35.5zM114.5 75.1h17.9v4.7h-17.9zM-26.4 79.5h9.1v4.7h-9.1zM26.4 79.5h9.1v4.7h-9.1zM44.0 79.5h17.9v4.7h-17.9zM70.5 79.5h26.7v4.7h-26.7zM105.7 79.5h17.9v4.7h-17.9zM202.6 79.5h9.1v4.7h-9.1zM281.9 79.5h17.9v4.7h-17.9zM-26.4 84.0h9.1v4.7h-9.1zM105.7 84.0h9.1v4.7h-9.1zM290.7 84.0h9.1v4.7h-9.1zM0.0 88.4h9.1v4.7h-9.1zM317.1 88.4h9.1v4.7h-9.1zM0.0 92.8h9.1v4.7h-9.1zM317.1 92.8h9.1v4.7h-9.1zM0.0 97.2h17.9v4.7h-17.9zM264.2 97.2h9.1v4.7h-9.1zM317.1 97.2h17.9v4.7h-17.9zM8.8 101.6h9.1v4.7h-9.1zM264.2 101.6h9.1v4.7h-9.1zM325.9 101.6h9.1v4.7h-9.1z"/><path fill="#393939" d="M176.2 22.1h9.1v4.7h-9.1z"/><path fill="#3a3a3a" d="M255.4 17.7h9.1v4.7h-9.1zM61.7 53.0h9.1v4.7h-9.1z"/><path fill="#3b3b3b" d="M52.9 26.5h9.1v4.7h-9.1z"/><path fill="#3c3c3c" d="M44.0 30.9h9.1v4.7h-9.1zM193.8 30.9h9.1v4.7h-9.1z"/><path fill="#3d3d3d" d="M-17.6 66.3h9.1v4.7h-9.1zM299.5 66.3h9.1v4.7h-9.1z"/><path fill="#404040" d="M52.9 13.3h9.1v4.7h-9.1zM264.2 17.7h9.1v4.7h-9.1zM-17.6 26.5h9.1v4.7h-9.1zM176.2 26.5h17.9v4.7h-17.9zM299.5 26.5h9.1v4.7h-9.1zM185.0 44.2h9.1v4.7h-9.1zM202.6 44.2h9.1v4.7h-9.1zM70.5 53.0h9.1v4.7h-9.1zM-26.4 66.3h9.1v4.7h-9.1zM290.7 66.3h9.1v4.7h-9.1zM237.8 75.1h9.1v4.7h-9.1zM-17.6 79.5h9.1v4.7h-9.1zM299.5 79.5h9.1v4.7h-9.1zM96.9 84.0h9.1v4.7h-9.1zM-8.8 88.4h9.1v4.7h-9.1zM308.3 88.4h9.1v4.7h-9.1zM-8.8 92.8h9.1v4.7h-9.1zM308.3 92.8h9.1v4.7h-9.1zM-8.8 97.2h9.1v4.7h-9.1zM308.3 97.2h9.1v4.7h-9.1z"/><path fill="#414141" d="M202.6 39.8h9.1v4.7h-9.1z"/><path fill="#434343" d="M-8.8 17.7h9.1v4.7h-9.1zM308.3 17.7h9.1v4.7h-9.1zM255.4 22.1h9.1v4.7h-9.1zM-26.4 35.4h9.1v4.7h-9.1zM290.7 35.4h9.1v4.7h-9.1zM211.4 39.8h9.1v4.7h-9.1zM-26.4 48.6h9.1v4.7h-9.1zM290.7 48.6h9.1v4.7h-9.1z"/><path fill="#454545" d="M52.9 17.7h9.1v4.7h-9.1zM237.8 79.5h9.1v4.7h-9.1z"/><path fill="#474747" d="M229.0 75.1h9.1v4.7h-9.1z"/><path fill="#484848" d="M52.9 22.1h9.1v4.7h-9.1zM-26.4 53.0h9.1v4.7h-9.1zM290.7 53.0h9.1v4.7h-9.1z"/><path fill="#4a4a4a" d="M-26.4 -8.8h26.7v4.7h-26.7zM35.2 -8.8h17.9v4.7h-17.9zM70.5 -8.8h17.9v4.7h-17.9zM290.7 -8.8h26.7v4.7h-26.7zM-26.4 -4.4h26.7v4.7h-26.7zM35.2 -4.4h17.9v4.7h-17.9zM70.5 -4.4h17.9v4.7h-17.9zM290.7 -4.4h26.7v4.7h-26.7zM-26.4 0.0h26.7v4.7h-26.7zM35.2 0.0h17.9v4.7h-17.9zM70.5 0.0h17.9v4.7h-17.9zM290.7 0.0h26.7v4.7h-26.7zM-26.4 4.4h26.7v4.7h-26.7zM35.2 4.4h17.9v4.7h-17.9zM70.5 4.4h17.9v4.7h-17.9zM290.7 4.4h26.7v4.7h-26.7zM-26.4 8.8h26.7v4.7h-26.7zM35.2 8.8h17.9v4.7h-17.9zM70.5 8.8h17.9v4.7h-17.9zM290.7 8.8h26.7v4.7h-26.7zM-26.4 13.3h44.3v4.7h-44.3zM35.2 13.3h17.9v4.7h-17.9zM290.7 13.3h44.3v4.7h-44.3zM-26.4 17.7h17.9v4.7h-17.9zM35.2 17.7h17.9v4.7h-17.9zM290.7 17.7h17.9v4.7h-17.9zM-26.4 22.1h17.9v4.7h-17.9zM35.2 22.1h17.9v4.7h-17.9zM264.2 22.1h44.3v4.7h-44.3zM-26.4 26.5h9.1v4.7h-9.1zM35.2 26.5h17.9v4.7h-17.9zM255.4 26.5h44.3v4.7h-44.3zM-26.4 30.9h17.9v4.7h-17.9zM167.4 30.9h26.7v4.7h-26.7zM246.6 30.9h62.0v4.7h-62.0zM132.1 35.4h17.9v4.7h-17.9zM167.4 35.4h35.5v4.7h-35.5zM237.8 35.4h53.1v4.7h-53.1zM176.2 39.8h26.7v4.7h-26.7zM220.2 39.8h35.5v4.7h-35.5zM281.9 39.8h9.1v4.7h-9.1zM167.4 44.2h17.9v4.7h-17.9zM211.4 44.2h35.5v4.7h-35.5zM273.1 44.2h17.9v4.7h-17.9zM26.4 48.6h17.9v4.7h-17.9zM52.9 48.6h9.1v4.7h-9.1zM105.7 48.6h70.8v4.7h-70.8zM229.0 48.6h9.1v4.7h-9.1zM264.2 48.6h17.9v4.7h-17.9zM26.4 53.0h17.9v4.7h-17.9zM79.3 53.0h9.1v4.7h-9.1zM114.5 53.0h44.3v4.7h-44.3zM167.4 53.0h9.1v4.7h-9.1zM246.6 53.0h26.7v4.7h-26.7zM105.7 57.5h35.5v4.7h-35.5zM167.4 57.5h17.9v4.7h-17.9zM237.8 57.5h35.5v4.7h-35.5zM8.8 61.9h9.1v4.7h-9.1zM61.7 61.9h17.9v4.7h-17.9zM114.5 61.9h9.1v4.7h-9.1zM185.0 61.9h9.1v4.7h-9.1zM211.4 61.9h9.1v4.7h-9.1zM255.4 61.9h9.1v4.7h-9.1zM325.9 61.9h9.1v4.7h-9.1zM52.9 66.3h9.1v4.7h-9.1zM70.5 66.3h9.1v4.7h-9.1zM114.5 66.3h9.1v4.7h-9.1zM176.2 66.3h17.9v4.7h-17.9zM211.4 66.3h9.1v4.7h-9.1zM246.6 66.3h17.9v4.7h-17.9zM-26.4 70.7h17.9v4.7h-17.9zM52.9 70.7h9.1v4.7h-9.1zM123.3 70.7h44.3v4.7h-44.3zM229.0 70.7h9.1v4.7h-9.1zM264.2 70.7h44.3v4.7h-44.3zM-26.4 75.1h17.9v4.7h-17.9zM44.0 75.1h9.1v4.7h-9.1zM132.1 75.1h97.2v4.7h-97.2zM246.6 75.1h62.0v4.7h-62.0zM61.7 79.5h9.1v4.7h-9.1zM123.3 79.5h79.6v4.7h-79.6zM211.4 79.5h26.7v4.7h-26.7zM246.6 79.5h17.9v4.7h-17.9zM273.1 79.5h9.1v4.7h-9.1zM-17.6 84.0h26.7v4.7h-26.7zM35.2 84.0h9.1v4.7h-9.1zM70.5 84.0h26.7v4.7h-26.7zM114.5 84.0h44.3v4.7h-44.3zM211.4 84.0h26.7v4.7h-26.7zM299.5 84.0h26.7v4.7h-26.7zM-26.4 88.4h17.9v4.7h-17.9zM114.5 88.4h44.3v4.7h-44.3zM220.2 88.4h44.3v4.7h-44.3zM290.7 88.4h17.9v4.7h-17.9zM-26.4 92.8h17.9v4.7h-17.9zM8.8 92.8h9.1v4.7h-9.1zM123.3 92.8h17.9v4.7h-17.9zM149.7 92.8h17.9v4.7h-17.9zM220.2 92.8h44.3v4.7h-44.3zM290.7 92.8h17.9v4.7h-17.9zM325.9 92.8h9.1v4.7h-9.1zM-26.4 97.2h17.9v4.7h-17.9zM123.3 97.2h44.3v4.7h-44.3zM220.2 97.2h44.3v4.7h-44.3zM273.1 97.2h35.5v4.7h-35.5zM-26.4 101.6h35.5v4.7h-35.5zM88.1 101.6h9.1v4.7h-9.1zM132.1 101.6h44.3v4.7h-44.3zM220.2 101.6h44.3v4.7h-44.3zM273.1 101.6h53.1v4.7h-53.1zM-26.4 106.1h9.1v4.7h-9.1zM26.4 106.1h26.7v4.7h-26.7zM79.3 106.1h17.9v4.7h-17.9zM185.0 106.1h62.0v4.7h-62.0zM273.1 106.1h26.7v4.7h-26.7zM26.4 110.5h17.9v4.7h-17.9zM185.0 110.5h44.3v4.7h-44.3zM281.9 110.5h9.1v4.7h-9.1zM123.3 114.9h17.9v4.7h-17.9zM167.4 114.9h9.1v4.7h-9.1zM202.6 114.9h9.1v4.7h-9.1z"/><path fill="#4e4e4e" d="M-8.8 79.5h9.1v4.7h-9.1zM308.3 79.5h9.1v4.7h-9.1z"/><path fill="#505050" d="M44.0 48.6h9.1v4.7h-9.1z"/><path fill="#555555" d="M44.0 53.0h9.1v4.7h-9.1zM220.2 70.7h9.1v4.7h-9.1zM-8.8 75.1h9.1v4.7h-9.1zM308.3 75.1h9.1v4.7h-9.1zM237.8 84.0h9.1v4.7h-9.1zM79.3 101.6h9.1v4.7h-9.1z"/><path fill="#595959" d="M17.6 57.5h9.1v4.7h-9.1zM334.7 57.5h9.1v4.7h-9.1zM229.0 110.5h9.1v4.7h-9.1z"/><path fill="#5a5a5a" d="M88.1 97.2h9.1v4.7h-9.1z"/><path fill="#606060" d="M176.2 48.6h9.1v4.7h-9.1zM281.9 48.6h9.1v4.7h-9.1zM52.9 53.0h9.1v4.7h-9.1zM158.6 53.0h9.1v4.7h-9.1zM273.1 53.0h17.9v4.7h-17.9zM-26.4 57.5h9.1v4.7h-9.1zM26.4 57.5h35.5v4.7h-35.5zM140.9 57.5h26.7v4.7h-26.7zM273.1 57.5h26.7v4.7h-26.7zM35.2 61.9h26.7v4.7h-26.7zM123.3 61.9h62.0v4.7h-62.0zM220.2 61.9h35.5v4.7h-35.5zM35.2 66.3h17.9v4.7h-17.9zM123.3 66.3h53.1v4.7h-53.1zM229.0 66.3h17.9v4.7h-17.9zM26.4 70.7h26.7v4.7h-26.7zM0.0 75.1h26.7v4.7h-26.7zM317.1 75.1h26.7v4.7h-26.7zM0.0 79.5h26.7v4.7h-26.7zM264.2 79.5h9.1v4.7h-9.1zM317.1 79.5h26.7v4.7h-26.7zM8.8 84.0h26.7v4.7h-26.7zM44.0 84.0h26.7v4.7h-26.7zM158.6 84.0h53.1v4.7h-53.1zM246.6 84.0h44.3v4.7h-44.3zM325.9 84.0h17.9v4.7h-17.9zM8.8 88.4h17.9v4.7h-17.9zM44.0 88.4h70.8v4.7h-70.8zM158.6 88.4h62.0v4.7h-62.0zM264.2 88.4h26.7v4.7h-26.7zM325.9 88.4h17.9v4.7h-17.9zM17.6 92.8h9.1v4.7h-9.1zM52.9 92.8h70.8v4.7h-70.8zM140.9 92.8h9.1v4.7h-9.1zM167.4 92.8h53.1v4.7h-53.1zM264.2 92.8h26.7v4.7h-26.7zM334.7 92.8h9.1v4.7h-9.1zM17.6 97.2h9.1v4.7h-9.1zM44.0 97.2h44.3v4.7h-44.3zM96.9 97.2h26.7v4.7h-26.7zM167.4 97.2h53.1v4.7h-53.1zM334.7 97.2h9.1v4.7h-9.1zM17.6 101.6h62.0v4.7h-62.0zM96.9 101.6h35.5v4.7h-35.5zM176.2 101.6h9.1v4.7h-9.1zM202.6 101.6h17.9v4.7h-17.9zM334.7 101.6h9.1v4.7h-9.1zM-17.6 106.1h9.1v4.7h-9.1zM8.8 106.1h17.9v4.7h-17.9zM52.9 106.1h26.7v4.7h-26.7zM96.9 106.1h9.1v4.7h-9.1zM123.3 106.1h62.0v4.7h-62.0zM246.6 106.1h26.7v4.7h-26.7zM299.5 106.1h9.1v4.7h-9.1zM325.9 106.1h17.9v4.7h-17.9zM-26.4 110.5h17.9v4.7h-17.9zM8.8 110.5h17.9v4.7h-17.9zM44.0 110.5h62.0v4.7h-62.0zM114.5 110.5h70.8v4.7h-70.8zM237.8 110.5h9.1v4.7h-9.1zM264.2 110.5h17.9v4.7h-17.9zM290.7 110.5h17.9v4.7h-17.9zM325.9 110.5h17.9v4.7h-17.9zM17.6 114.9h26.7v4.7h-26.7zM96.9 114.9h26.7v4.7h-26.7zM140.9 114.9h26.7v4.7h-26.7zM176.2 114.9h26.7v4.7h-26.7zM211.4 114.9h9.1v4.7h-9.1zM229.0 114.9h9.1v4.7h-9.1zM334.7 114.9h9.1v4.7h-9.1zM105.7 119.3h79.6v4.7h-79.6zM229.0 119.3h9.1v4.7h-9.1zM229.0 123.7h17.9v4.7h-17.9zM237.8 128.2h9.1v4.7h-9.1zM237.8 132.6h26.7v4.7h-26.7zM237.8 137.0h26.7v4.7h-26.7zM237.8 141.4h26.7v4.7h-26.7zM237.8 145.8h26.7v4.7h-26.7zM237.8 150.3h26.7v4.7h-26.7zM237.8 154.7h26.7v4.7h-26.7zM237.8 159.1h26.7v4.7h-26.7z"/><path fill="#6e6e6e" d="M-8.8 106.1h9.1v4.7h-9.1zM308.3 106.1h9.1v4.7h-9.1z"/><path fill="#757575" d="M17.6 61.9h17.9v4.7h-17.9zM334.7 61.9h9.1v4.7h-9.1zM26.4 66.3h9.1v4.7h-9.1zM220.2 66.3h9.1v4.7h-9.1zM-8.8 70.7h35.5v4.7h-35.5zM308.3 70.7h35.5v4.7h-35.5zM26.4 88.4h17.9v4.7h-17.9zM26.4 92.8h26.7v4.7h-26.7zM26.4 97.2h17.9v4.7h-17.9zM185.0 101.6h17.9v4.7h-17.9zM0.0 106.1h9.1v4.7h-9.1zM105.7 106.1h17.9v4.7h-17.9zM317.1 106.1h9.1v4.7h-9.1zM-8.8 110.5h17.9v4.7h-17.9zM105.7 110.5h9.1v4.7h-9.1zM246.6 110.5h17.9v4.7h-17.9zM308.3 110.5h17.9v4.7h-17.9zM-26.4 114.9h44.3v4.7h-44.3zM44.0 114.9h53.1v4.7h-53.1zM220.2 114.9h9.1v4.7h-9.1zM237.8 114.9h97.2v4.7h-97.2zM-26.4 119.3h26.7v4.7h-26.7zM8.8 119.3h35.5v4.7h-35.5zM96.9 119.3h9.1v4.7h-9.1zM185.0 119.3h35.5v4.7h-35.5zM237.8 119.3h26.7v4.7h-26.7zM273.1 119.3h44.3v4.7h-44.3zM325.9 119.3h17.9v4.7h-17.9zM-26.4 123.7h26.7v4.7h-26.7zM105.7 123.7h79.6v4.7h-79.6zM246.6 123.7h70.8v4.7h-70.8zM-26.4 128.2h17.9v4.7h-17.9zM229.0 128.2h9.1v4.7h-9.1zM246.6 128.2h62.0v4.7h-62.0zM-26.4 132.6h132.4v4.7h-132.4zM229.0 132.6h9.1v4.7h-9.1zM264.2 132.6h79.6v4.7h-79.6zM-26.4 137.0h132.4v4.7h-132.4zM193.8 137.0h44.3v4.7h-44.3zM264.2 137.0h79.6v4.7h-79.6zM-26.4 141.4h132.4v4.7h-132.4zM193.8 141.4h44.3v4.7h-44.3zM264.2 141.4h79.6v4.7h-79.6zM-26.4 145.8h132.4v4.7h-132.4zM193.8 145.8h44.3v4.7h-44.3zM264.2 145.8h79.6v4.7h-79.6zM-26.4 150.3h132.4v4.7h-132.4zM193.8 150.3h44.3v4.7h-44.3zM264.2 150.3h79.6v4.7h-79.6zM-26.4 154.7h132.4v4.7h-132.4zM193.8 154.7h44.3v4.7h-44.3zM264.2 154.7h79.6v4.7h-79.6zM-26.4 159.1h132.4v4.7h-132.4zM193.8 159.1h44.3v4.7h-44.3zM264.2 159.1h79.6v4.7h-79.6z"/><path fill="#8a8a8a" d="M17.6 66.3h9.1v4.7h-9.1zM334.7 66.3h9.1v4.7h-9.1zM0.0 119.3h9.1v4.7h-9.1zM44.0 119.3h53.1v4.7h-53.1zM220.2 119.3h9.1v4.7h-9.1zM264.2 119.3h9.1v4.7h-9.1zM317.1 119.3h9.1v4.7h-9.1zM0.0 123.7h9.1v4.7h-9.1zM35.2 123.7h70.8v4.7h-70.8zM185.0 123.7h44.3v4.7h-44.3zM317.1 123.7h9.1v4.7h-9.1zM-8.8 128.2h17.9v4.7h-17.9zM35.2 128.2h88.4v4.7h-88.4zM140.9 128.2h79.6v4.7h-79.6zM308.3 128.2h17.9v4.7h-17.9zM105.7 132.6h62.0v4.7h-62.0zM185.0 132.6h44.3v4.7h-44.3zM105.7 137.0h88.4v4.7h-88.4zM105.7 141.4h88.4v4.7h-88.4zM105.7 145.8h88.4v4.7h-88.4zM105.7 150.3h88.4v4.7h-88.4zM105.7 154.7h88.4v4.7h-88.4zM105.7 159.1h88.4v4.7h-88.4z"/><path fill="#9f9f9f" d="M8.8 123.7h26.7v4.7h-26.7zM325.9 123.7h17.9v4.7h-17.9zM8.8 128.2h26.7v4.7h-26.7zM123.3 128.2h17.9v4.7h-17.9zM220.2 128.2h9.1v4.7h-9.1zM325.9 128.2h17.9v4.7h-17.9zM167.4 132.6h17.9v4.7h-17.9z"/></g></g>
<use href="#land"/>
</g>
<g transform="translate(384.50,55.40)" clip-path="url(#pc)">
<g clip-path="url(#dm)"><g filter="url(#cm1)"><path fill="#080808" d="M-26.4 137.0h132.4v4.7h-132.4zM220.2 137.0h123.6v4.7h-123.6zM-26.4 141.4h132.4v4.7h-132.4zM220.2 141.4h123.6v4.7h-123.6zM-26.4 145.8h132.4v4.7h-132.4zM220.2 145.8h123.6v4.7h-123.6zM-26.4 150.3h132.4v4.7h-132.4zM220.2 150.3h123.6v4.7h-123.6zM-26.4 154.7h132.4v4.7h-132.4zM220.2 154.7h123.6v4.7h-123.6zM-26.4 159.1h132.4v4.7h-132.4zM220.2 159.1h123.6v4.7h-123.6z"/><path fill="#1a1a1a" d="M237.8 110.5h9.1v4.7h-9.1zM229.0 114.9h17.9v4.7h-17.9zM229.0 119.3h17.9v4.7h-17.9zM-26.4 123.7h132.4v4.7h-132.4zM167.4 123.7h176.5v4.7h-176.5zM-26.4 128.2h370.2v4.7h-370.2zM-26.4 132.6h370.2v4.7h-370.2zM105.7 137.0h114.8v4.7h-114.8zM105.7 141.4h114.8v4.7h-114.8zM105.7 145.8h114.8v4.7h-114.8zM105.7 150.3h114.8v4.7h-114.8zM105.7 154.7h114.8v4.7h-114.8zM105.7 159.1h114.8v4.7h-114.8z"/><path fill="#1f1f1f" d="M229.0 110.5h9.1v4.7h-9.1z"/><path fill="#2a2a2a" d="M-26.4 -8.8h17.9v4.7h-17.9zM0.0 -8.8h9.1v4.7h-9.1zM96.9 -8.8h26.7v4.7h-26.7zM264.2 -8.8h44.3v4.7h-44.3zM317.1 -8.8h9.1v4.7h-9.1zM-26.4 -4.4h17.9v4.7h-17.9zM0.0 -4.4h9.1v4.7h-9.1zM96.9 -4.4h26.7v4.7h-26.7zM264.2 -4.4h44.3v4.7h-44.3zM317.1 -4.4h9.1v4.7h-9.1zM-26.4 0.0h17.9v4.7h-17.9zM0.0 0.0h9.1v4.7h-9.1zM96.9 0.0h26.7v4.7h-26.7zM264.2 0.0h44.3v4.7h-44.3zM317.1 0.0h9.1v4.7h-9.1zM-26.4 4.4h17.9v4.7h-17.9zM0.0 4.4h9.1v4.7h-9.1zM96.9 4.4h26.7v4.7h-26.7zM264.2 4.4h44.3v4.7h-44.3zM317.1 4.4h9.1v4.7h-9.1zM-26.4 8.8h17.9v4.7h-17.9zM0.0 8.8h9.1v4.7h-9.1zM96.9 8.8h26.7v4.7h-26.7zM264.2 8.8h44.3v4.7h-44.3zM317.1 8.8h9.1v4.7h-9.1zM-26.4 13.3h9.1v4.7h-9.1zM96.9 13.3h26.7v4.7h-26.7zM264.2 13.3h35.5v4.7h-35.5zM96.9 17.7h9.1v4.7h-9.1zM-17.6 92.8h9.1v4.7h-9.1zM299.5 92.8h9.1v4.7h-9.1zM-26.4 97.2h17.9v4.7h-17.9zM290.7 97.2h17.9v4.7h-17.9zM-26.4 101.6h17.9v4.7h-17.9zM220.2 101.6h17.9v4.7h-17.9zM290.7 101.6h17.9v4.7h-17.9zM-26.4 106.1h17.9v4.7h-17.9zM17.6 106.1h26.7v4.7h-26.7zM220.2 106.1h9.1v4.7h-9.1zM290.7 106.1h17.9v4.7h-17.9zM334.7 106.1h9.1v4.7h-9.1zM-26.4 110.5h123.6v4.7h-123.6zM211.4 110.5h17.9v4.7h-17.9zM281.9 110.5h62.0v4.7h-62.0zM-26.4 114.9h150.0v4.7h-150.0zM140.9 114.9h88.4v4.7h-88.4zM246.6 114.9h97.2v4.7h-97.2zM-26.4 119.3h255.7v4.7h-255.7zM246.6 119.3h97.2v4.7h-97.2zM105.7 123.7h62.0v4.7h-62.0z"/><path fill="#363636" d="M123.3 -8.8h9.1v4.7h-9.1zM123.3 -4.4h9.1v4.7h-9.1zM123.3 0.0h9.1v4.7h-9.1zM123.3 4.4h9.1v4.7h-9.1zM123.3 8.8h9.1v4.7h-9.1zM-8.8 101.6h9.1v4.7h-9.1zM308.3 101.6h9.1v4.7h-9.1z"/><path fill="#3c3c3c" d="M-8.8 -8.8h9.1v4.7h-9.1zM8.8 -8.8h88.4v4.7h-88.4zM132.1 -8.8h35.5v4.7h-35.5zM211.4 -8.8h26.7v4.7h-26.7zM308.3 -8.8h9.1v4.7h-9.1zM325.9 -8.8h17.9v4.7h-17.9zM-8.8 -4.4h9.1v4.7h-9.1zM8.8 -4.4h88.4v4.7h-88.4zM132.1 -4.4h35.5v4.7h-35.5zM211.4 -4.4h26.7v4.7h-26.7zM308.3 -4.4h9.1v4.7h-9.1zM325.9 -4.4h17.9v4.7h-17.9zM-8.8 0.0h9.1v4.7h-9.1zM8.8 0.0h88.4v4.7h-88.4zM132.1 0.0h35.5v4.7h-35.5zM211.4 0.0h26.7v4.7h-26.7zM308.3 0.0h9.1v4.7h-9.1zM325.9 0.0h17.9v4.7h-17.9zM-8.8 4.4h9.1v4.7h-9.1zM8.8 4.4h88.4v4.7h-88.4zM132.1 4.4h35.5v4.7h-35.5zM211.4 4.4h26.7v4.7h-26.7zM308.3 4.4h9.1v4.7h-9.1zM325.9 4.4h17.9v4.7h-17.9zM-8.8 8.8h9.1v4.7h-9.1zM8.8 8.8h88.4v4.7h-88.4zM132.1 8.8h35.5v4.7h-35.5zM211.4 8.8h26.7v4.7h-26.7zM308.3 8.8h9.1v4.7h-9.1zM325.9 8.8h17.9v4.7h-17.9zM-17.6 13.3h114.8v4.7h-114.8zM123.3 13.3h44.3v4.7h-44.3zM211.4 13.3h26.7v4.7h-26.7zM299.5 13.3h44.3v4.7h-44.3zM-26.4 17.7h17.9v4.7h-17.9zM0.0 17.7h9.1v4.7h-9.1zM26.4 17.7h70.8v4.7h-70.8zM105.7 17.7h9.1v4.7h-9.1zM123.3 17.7h44.3v4.7h-44.3zM273.1 17.7h35.5v4.7h-35.5zM317.1 17.7h9.1v4.7h-9.1zM0.0 22.1h9.1v4.7h-9.1zM26.4 22.1h53.1v4.7h-53.1zM123.3 22.1h35.5v4.7h-35.5zM317.1 22.1h9.1v4.7h-9.1zM35.2 26.5h17.9v4.7h-17.9zM123.3 26.5h26.7v4.7h-26.7zM176.2 48.6h9.1v4.7h-9.1zM176.2 53.0h9.1v4.7h-9.1zM-17.6 88.4h9.1v4.7h-9.1zM299.5 88.4h9.1v4.7h-9.1zM-26.4 92.8h9.1v4.7h-9.1zM220.2 92.8h17.9v4.7h-17.9zM273.1 92.8h26.7v4.7h-26.7zM-8.8 97.2h9.1v4.7h-9.1zM211.4 97.2h26.7v4.7h-26.7zM273.1 97.2h17.9v4.7h-17.9zM308.3 97.2h9.1v4.7h-9.1zM0.0 101.6h44.3v4.7h-44.3zM88.1 101.6h9.1v4.7h-9.1zM211.4 101.6h9.1v4.7h-9.1zM264.2 101.6h26.7v4.7h-26.7zM317.1 101.6h26.7v4.7h-26.7zM-8.8 106.1h26.7v4.7h-26.7zM44.0 106.1h26.7v4.7h-26.7zM79.3 106.1h17.9v4.7h-17.9zM193.8 106.1h26.7v4.7h-26.7zM229.0 106.1h9.1v4.7h-9.1zM264.2 106.1h26.7v4.7h-26.7zM308.3 106.1h26.7v4.7h-26.7zM96.9 110.5h114.8v4.7h-114.8zM246.6 110.5h35.5v4.7h-35.5zM123.3 114.9h17.9v4.7h-17.9z"/><path fill="#3d3d3d" d="M255.4 -8.8h9.1v4.7h-9.1zM255.4 -4.4h9.1v4.7h-9.1zM255.4 0.0h9.1v4.7h-9.1zM255.4 4.4h9.1v4.7h-9.1zM255.4 8.8h9.1v4.7h-9.1z"/><path fill="#404040" d="M202.6 -8.8h9.1v4.7h-9.1zM202.6 -4.4h9.1v4.7h-9.1zM202.6 0.0h9.1v4.7h-9.1zM202.6 4.4h9.1v4.7h-9.1zM202.6 8.8h9.1v4.7h-9.1z"/><path fill="#414141" d="M255.4 13.3h9.1v4.7h-9.1zM96.9 106.1h9.1v4.7h-9.1z"/><path fill="#444444" d="M202.6 13.3h9.1v4.7h-9.1zM17.6 17.7h9.1v4.7h-9.1zM114.5 17.7h9.1v4.7h-9.1zM220.2 17.7h9.1v4.7h-9.1zM264.2 17.7h9.1v4.7h-9.1zM334.7 17.7h9.1v4.7h-9.1zM-17.6 22.1h9.1v4.7h-9.1zM299.5 22.1h9.1v4.7h-9.1zM-8.8 92.8h9.1v4.7h-9.1zM308.3 92.8h9.1v4.7h-9.1z"/><path fill="#474747" d="M193.8 -8.8h9.1v4.7h-9.1zM193.8 -4.4h9.1v4.7h-9.1zM193.8 0.0h9.1v4.7h-9.1zM193.8 4.4h9.1v4.7h-9.1zM193.8 8.8h9.1v4.7h-9.1zM158.6 22.1h9.1v4.7h-9.1zM52.9 26.5h9.1v4.7h-9.1z"/><path fill="#484848" d="M17.6 22.1h9.1v4.7h-9.1zM334.7 22.1h9.1v4.7h-9.1z"/><path fill="#4a4a4a" d="M193.8 13.3h9.1v4.7h-9.1z"/><path fill="#4c4c4c" d="M167.4 -8.8h26.7v4.7h-26.7zM237.8 -8.8h17.9v4.7h-17.9zM167.4 -4.4h26.7v4.7h-26.7zM237.8 -4.4h17.9v4.7h-17.9zM167.4 0.0h26.7v4.7h-26.7zM237.8 0.0h17.9v4.7h-17.9zM167.4 4.4h26.7v4.7h-26.7zM237.8 4.4h17.9v4.7h-17.9zM167.4 8.8h26.7v4.7h-26.7zM237.8 8.8h17.9v4.7h-17.9zM167.4 13.3h26.7v4.7h-26.7zM237.8 13.3h17.9v4.7h-17.9zM-8.8 17.7h9.1v4.7h-9.1zM8.8 17.7h9.1v4.7h-9.1zM167.4 17.7h53.1v4.7h-53.1zM229.0 17.7h35.5v4.7h-35.5zM308.3 17.7h9.1v4.7h-9.1zM325.9 17.7h9.1v4.7h-9.1zM-26.4 22.1h9.1v4.7h-9.1zM8.8 22.1h9.1v4.7h-9.1zM114.5 22.1h9.1v4.7h-9.1zM185.0 22.1h53.1v4.7h-53.1zM246.6 22.1h53.1v4.7h-53.1zM325.9 22.1h9.1v4.7h-9.1zM114.5 26.5h9.1v4.7h-9.1zM149.7 26.5h9.1v4.7h-9.1zM193.8 26.5h44.3v4.7h-44.3zM246.6 26.5h44.3v4.7h-44.3zM123.3 30.9h35.5v4.7h-35.5zM202.6 30.9h17.9v4.7h-17.9zM273.1 30.9h9.1v4.7h-9.1zM202.6 35.4h17.9v4.7h-17.9zM176.2 39.8h26.7v4.7h-26.7zM167.4 44.2h35.5v4.7h-35.5zM167.4 48.6h9.1v4.7h-9.1zM185.0 48.6h17.9v4.7h-17.9zM167.4 53.0h9.1v4.7h-9.1zM185.0 53.0h9.1v4.7h-9.1zM-17.6 84.0h17.9v4.7h-17.9zM299.5 84.0h17.9v4.7h-17.9zM-26.4 88.4h9.1v4.7h-9.1zM220.2 88.4h17.9v4.7h-17.9zM273.1 88.4h26.7v4.7h-26.7zM202.6 92.8h17.9v4.7h-17.9zM264.2 92.8h9.1v4.7h-9.1zM0.0 97.2h9.1v4.7h-9.1zM202.6 97.2h9.1v4.7h-9.1zM264.2 97.2h9.1v4.7h-9.1zM317.1 97.2h9.1v4.7h-9.1zM44.0 101.6h17.9v4.7h-17.9zM79.3 101.6h9.1v4.7h-9.1zM96.9 101.6h26.7v4.7h-26.7zM193.8 101.6h17.9v4.7h-17.9zM255.4 101.6h9.1v4.7h-9.1zM70.5 106.1h9.1v4.7h-9.1zM105.7 106.1h88.4v4.7h-88.4zM237.8 106.1h26.7v4.7h-26.7z"/><path fill="#525252" d="M79.3 22.1h9.1v4.7h-9.1zM26.4 26.5h9.1v4.7h-9.1zM44.0 30.9h9.1v4.7h-9.1zM193.8 30.9h9.1v4.7h-9.1zM237.8 92.8h9.1v4.7h-9.1z"/><path fill="#555555" d="M-8.8 22.1h9.1v4.7h-9.1zM167.4 22.1h17.9v4.7h-17.9zM308.3 22.1h9.1v4.7h-9.1zM8.8 26.5h9.1v4.7h-9.1zM325.9 26.5h9.1v4.7h-9.1zM220.2 30.9h9.1v4.7h-9.1zM-8.8 88.4h9.1v4.7h-9.1zM308.3 88.4h9.1v4.7h-9.1zM237.8 101.6h9.1v4.7h-9.1z"/><path fill="#585858" d="M185.0 26.5h9.1v4.7h-9.1z"/><path fill="#5e5e5e" d="M88.1 22.1h26.7v4.7h-26.7zM237.8 22.1h9.1v4.7h-9.1zM-26.4 26.5h35.5v4.7h-35.5zM17.6 26.5h9.1v4.7h-9.1zM61.7 26.5h53.1v4.7h-53.1zM158.6 26.5h26.7v4.7h-26.7zM237.8 26.5h9.1v4.7h-9.1zM290.7 26.5h35.5v4.7h-35.5zM334.7 26.5h9.1v4.7h-9.1zM-26.4 30.9h70.8v4.7h-70.8zM52.9 30.9h70.8v4.7h-70.8zM158.6 30.9h35.5v4.7h-35.5zM229.0 30.9h44.3v4.7h-44.3zM281.9 30.9h62.0v4.7h-62.0zM-26.4 35.4h79.6v4.7h-79.6zM96.9 35.4h106.0v4.7h-106.0zM255.4 35.4h88.4v4.7h-88.4zM-26.4 39.8h26.7v4.7h-26.7zM149.7 39.8h26.7v4.7h-26.7zM264.2 39.8h53.1v4.7h-53.1zM-26.4 44.2h35.5v4.7h-35.5zM158.6 44.2h9.1v4.7h-9.1zM264.2 44.2h62.0v4.7h-62.0zM-26.4 48.6h44.3v4.7h-44.3zM158.6 48.6h9.1v4.7h-9.1zM264.2 48.6h70.8v4.7h-70.8zM-26.4 53.0h35.5v4.7h-35.5zM149.7 53.0h17.9v4.7h-17.9zM264.2 53.0h62.0v4.7h-62.0zM158.6 57.5h26.7v4.7h-26.7zM-26.4 84.0h9.1v4.7h-9.1zM220.2 84.0h17.9v4.7h-17.9zM264.2 84.0h35.5v4.7h-35.5zM185.0 88.4h35.5v4.7h-35.5zM237.8 88.4h9.1v4.7h-9.1zM264.2 88.4h9.1v4.7h-9.1zM0.0 92.8h26.7v4.7h-26.7zM79.3 92.8h9.1v4.7h-9.1zM176.2 92.8h26.7v4.7h-26.7zM246.6 92.8h17.9v4.7h-17.9zM317.1 92.8h26.7v4.7h-26.7zM8.8 97.2h35.5v4.7h-35.5zM52.9 97.2h9.1v4.7h-9.1zM176.2 97.2h26.7v4.7h-26.7zM237.8 97.2h26.7v4.7h-26.7zM325.9 97.2h17.9v4.7h-17.9zM61.7 101.6h17.9v4.7h-17.9zM123.3 101.6h70.8v4.7h-70.8zM246.6 101.6h9.1v4.7h-9.1z"/><path fill="#666666" d="M52.9 35.4h9.1v4.7h-9.1zM-17.6 79.5h17.9v4.7h-17.9zM299.5 79.5h17.9v4.7h-17.9zM237.8 84.0h9.1v4.7h-9.1zM79.3 97.2h9.1v4.7h-9.1z"/><path fill="#686868" d="M202.6 39.8h9.1v4.7h-9.1z"/><path fill="#6e6e6e" d="M61.7 35.4h35.5v4.7h-35.5zM220.2 35.4h17.9v4.7h-17.9zM246.6 35.4h9.1v4.7h-9.1zM0.0 39.8h53.1v4.7h-53.1zM96.9 39.8h53.1v4.7h-53.1zM255.4 39.8h9.1v4.7h-9.1zM317.1 39.8h26.7v4.7h-26.7zM8.8 44.2h9.1v4.7h-9.1zM140.9 44.2h17.9v4.7h-17.9zM255.4 44.2h9.1v4.7h-9.1zM325.9 44.2h9.1v4.7h-9.1zM149.7 48.6h9.1v4.7h-9.1zM255.4 48.6h9.1v4.7h-9.1zM8.8 53.0h9.1v4.7h-9.1zM140.9 53.0h9.1v4.7h-9.1zM255.4 53.0h9.1v4.7h-9.1zM325.9 53.0h9.1v4.7h-9.1zM-26.4 57.5h17.9v4.7h-17.9zM149.7 57.5h9.1v4.7h-9.1zM255.4 57.5h53.1v4.7h-53.1zM149.7 61.9h9.1v4.7h-9.1zM167.4 61.9h9.1v4.7h-9.1zM220.2 79.5h17.9v4.7h-17.9zM264.2 79.5h26.7v4.7h-26.7zM0.0 84.0h17.9v4.7h-17.9zM158.6 84.0h62.0v4.7h-62.0zM246.6 84.0h17.9v4.7h-17.9zM317.1 84.0h17.9v4.7h-17.9zM0.0 88.4h17.9v4.7h-17.9zM167.4 88.4h17.9v4.7h-17.9zM246.6 88.4h17.9v4.7h-17.9zM317.1 88.4h17.9v4.7h-17.9zM26.4 92.8h17.9v4.7h-17.9zM61.7 92.8h17.9v4.7h-17.9zM88.1 92.8h9.1v4.7h-9.1zM158.6 92.8h17.9v4.7h-17.9zM44.0 97.2h9.1v4.7h-9.1zM61.7 97.2h17.9v4.7h-17.9zM88.1 97.2h9.1v4.7h-9.1zM105.7 97.2h70.8v4.7h-70.8z"/><path fill="#777777" d="M211.4 39.8h9.1v4.7h-9.1zM96.9 97.2h9.1v4.7h-9.1z"/><path fill="#808080" d="M237.8 35.4h9.1v4.7h-9.1zM88.1 39.8h9.1v4.7h-9.1zM229.0 39.8h26.7v4.7h-26.7zM17.6 44.2h35.5v4.7h-35.5zM96.9 44.2h44.3v4.7h-44.3zM246.6 44.2h9.1v4.7h-9.1zM334.7 44.2h9.1v4.7h-9.1zM17.6 48.6h9.1v4.7h-9.1zM123.3 48.6h26.7v4.7h-26.7zM246.6 48.6h9.1v4.7h-9.1zM334.7 48.6h9.1v4.7h-9.1zM17.6 53.0h9.1v4.7h-9.1zM132.1 53.0h9.1v4.7h-9.1zM193.8 53.0h9.1v4.7h-9.1zM237.8 53.0h17.9v4.7h-17.9zM334.7 53.0h9.1v4.7h-9.1zM-8.8 57.5h35.5v4.7h-35.5zM132.1 57.5h17.9v4.7h-17.9zM185.0 57.5h9.1v4.7h-9.1zM229.0 57.5h26.7v4.7h-26.7zM308.3 57.5h35.5v4.7h-35.5zM-26.4 61.9h9.1v4.7h-9.1zM140.9 61.9h9.1v4.7h-9.1zM158.6 61.9h9.1v4.7h-9.1zM176.2 61.9h9.1v4.7h-9.1zM237.8 61.9h62.0v4.7h-62.0zM149.7 66.3h9.1v4.7h-9.1zM-8.8 70.7h26.7v4.7h-26.7zM308.3 70.7h26.7v4.7h-26.7zM0.0 75.1h17.9v4.7h-17.9zM317.1 75.1h17.9v4.7h-17.9zM-26.4 79.5h9.1v4.7h-9.1zM0.0 79.5h17.9v4.7h-17.9zM158.6 79.5h53.1v4.7h-53.1zM255.4 79.5h9.1v4.7h-9.1zM290.7 79.5h9.1v4.7h-9.1zM317.1 79.5h17.9v4.7h-17.9zM17.6 84.0h9.1v4.7h-9.1zM149.7 84.0h9.1v4.7h-9.1zM334.7 84.0h9.1v4.7h-9.1zM17.6 88.4h17.9v4.7h-17.9zM61.7 88.4h26.7v4.7h-26.7zM96.9 88.4h9.1v4.7h-9.1zM140.9 88.4h26.7v4.7h-26.7zM334.7 88.4h9.1v4.7h-9.1zM44.0 92.8h17.9v4.7h-17.9zM96.9 92.8h9.1v4.7h-9.1zM123.3 92.8h35.5v4.7h-35.5z"/><path fill="#848484" d="M52.9 39.8h9.1v4.7h-9.1z"/><path fill="#888888" d="M79.3 39.8h9.1v4.7h-9.1zM220.2 39.8h9.1v4.7h-9.1zM237.8 79.5h17.9v4.7h-17.9z"/><path fill="#8c8c8c" d="M70.5 39.8h9.1v4.7h-9.1z"/><path fill="#8e8e8e" d="M61.7 39.8h9.1v4.7h-9.1z"/><path fill="#909090" d="M52.9 44.2h44.3v4.7h-44.3zM202.6 44.2h44.3v4.7h-44.3zM26.4 48.6h17.9v4.7h-17.9zM105.7 48.6h17.9v4.7h-17.9zM202.6 48.6h44.3v4.7h-44.3zM26.4 53.0h17.9v4.7h-17.9zM114.5 53.0h17.9v4.7h-17.9zM202.6 53.0h35.5v4.7h-35.5zM123.3 57.5h9.1v4.7h-9.1zM202.6 57.5h26.7v4.7h-26.7zM-17.6 61.9h53.1v4.7h-53.1zM132.1 61.9h9.1v4.7h-9.1zM185.0 61.9h9.1v4.7h-9.1zM211.4 61.9h26.7v4.7h-26.7zM299.5 61.9h44.3v4.7h-44.3zM-8.8 66.3h35.5v4.7h-35.5zM140.9 66.3h9.1v4.7h-9.1zM158.6 66.3h17.9v4.7h-17.9zM211.4 66.3h26.7v4.7h-26.7zM308.3 66.3h35.5v4.7h-35.5zM17.6 70.7h9.1v4.7h-9.1zM334.7 70.7h9.1v4.7h-9.1zM-8.8 75.1h9.1v4.7h-9.1zM17.6 75.1h9.1v4.7h-9.1zM140.9 75.1h35.5v4.7h-35.5zM246.6 75.1h44.3v4.7h-44.3zM308.3 75.1h9.1v4.7h-9.1zM334.7 75.1h9.1v4.7h-9.1zM17.6 79.5h9.1v4.7h-9.1zM140.9 79.5h17.9v4.7h-17.9zM211.4 79.5h9.1v4.7h-9.1zM334.7 79.5h9.1v4.7h-9.1zM132.1 84.0h17.9v4.7h-17.9zM35.2 88.4h26.7v4.7h-26.7zM88.1 88.4h9.1v4.7h-9.1zM123.3 88.4h17.9v4.7h-17.9zM105.7 92.8h17.9v4.7h-17.9z"/><path fill="#969696" d="M229.0 75.1h9.1v4.7h-9.1z"/><path fill="#9c9c9c" d="M220.2 75.1h9.1v4.7h-9.1z"/><path fill="#9d9d9d" d="M-17.6 66.3h9.1v4.7h-9.1zM299.5 66.3h9.1v4.7h-9.1z"/><path fill="#a2a2a2" d="M44.0 48.6h9.1v4.7h-9.1zM61.7 48.6h44.3v4.7h-44.3zM96.9 53.0h17.9v4.7h-17.9zM26.4 57.5h9.1v4.7h-9.1zM114.5 57.5h9.1v4.7h-9.1zM193.8 57.5h9.1v4.7h-9.1zM123.3 61.9h9.1v4.7h-9.1zM193.8 61.9h9.1v4.7h-9.1zM26.4 66.3h9.1v4.7h-9.1zM132.1 66.3h9.1v4.7h-9.1zM176.2 66.3h9.1v4.7h-9.1zM237.8 66.3h26.7v4.7h-26.7zM-26.4 70.7h17.9v4.7h-17.9zM26.4 70.7h17.9v4.7h-17.9zM149.7 70.7h9.1v4.7h-9.1zM290.7 70.7h17.9v4.7h-17.9zM-26.4 75.1h17.9v4.7h-17.9zM26.4 75.1h9.1v4.7h-9.1zM132.1 75.1h9.1v4.7h-9.1zM176.2 75.1h26.7v4.7h-26.7zM211.4 75.1h9.1v4.7h-9.1zM237.8 75.1h9.1v4.7h-9.1zM290.7 75.1h17.9v4.7h-17.9zM132.1 79.5h9.1v4.7h-9.1zM26.4 84.0h44.3v4.7h-44.3zM79.3 84.0h9.1v4.7h-9.1zM123.3 84.0h9.1v4.7h-9.1zM105.7 88.4h17.9v4.7h-17.9z"/><path fill="#aaaaaa" d="M35.2 57.5h9.1v4.7h-9.1zM281.9 70.7h9.1v4.7h-9.1z"/><path fill="#adadad" d="M229.0 70.7h9.1v4.7h-9.1z"/><path fill="#aeaeae" d="M96.9 84.0h9.1v4.7h-9.1z"/><path fill="#b2b2b2" d="M44.0 53.0h9.1v4.7h-9.1zM79.3 53.0h17.9v4.7h-17.9zM96.9 57.5h17.9v4.7h-17.9zM35.2 61.9h9.1v4.7h-9.1zM114.5 61.9h9.1v4.7h-9.1zM202.6 61.9h9.1v4.7h-9.1zM-26.4 66.3h9.1v4.7h-9.1zM35.2 66.3h9.1v4.7h-9.1zM123.3 66.3h9.1v4.7h-9.1zM185.0 66.3h9.1v4.7h-9.1zM264.2 66.3h9.1v4.7h-9.1zM290.7 66.3h9.1v4.7h-9.1zM44.0 70.7h17.9v4.7h-17.9zM132.1 70.7h17.9v4.7h-17.9zM158.6 70.7h9.1v4.7h-9.1zM237.8 70.7h26.7v4.7h-26.7zM35.2 75.1h35.5v4.7h-35.5zM123.3 75.1h9.1v4.7h-9.1zM202.6 75.1h9.1v4.7h-9.1zM26.4 79.5h62.0v4.7h-62.0zM123.3 79.5h9.1v4.7h-9.1zM70.5 84.0h9.1v4.7h-9.1zM88.1 84.0h9.1v4.7h-9.1zM114.5 84.0h9.1v4.7h-9.1z"/><path fill="#bbbbbb" d="M52.9 48.6h9.1v4.7h-9.1zM70.5 53.0h9.1v4.7h-9.1z"/><path fill="#bfbfbf" d="M61.7 53.0h9.1v4.7h-9.1z"/><path fill="#c4c4c4" d="M61.7 57.5h35.5v4.7h-35.5zM70.5 61.9h9.1v4.7h-9.1zM88.1 61.9h26.7v4.7h-26.7zM44.0 66.3h79.6v4.7h-79.6zM193.8 66.3h17.9v4.7h-17.9zM273.1 66.3h17.9v4.7h-17.9zM61.7 70.7h70.8v4.7h-70.8zM167.4 70.7h62.0v4.7h-62.0zM264.2 70.7h17.9v4.7h-17.9zM70.5 75.1h53.1v4.7h-53.1zM88.1 79.5h35.5v4.7h-35.5zM105.7 84.0h9.1v4.7h-9.1z"/><path fill="#c9c9c9" d="M61.7 61.9h9.1v4.7h-9.1z"/><path fill="#d4d4d4" d="M52.9 53.0h9.1v4.7h-9.1zM44.0 57.5h17.9v4.7h-17.9zM44.0 61.9h17.9v4.7h-17.9zM79.3 61.9h9.1v4.7h-9.1z"/><path d="M-1.8 121.5L61.7 121.5L70.5 123.7L105.7 125.5L114.5 127.3L158.6 127.3L163.0 125.1L224.6 125.1L227.3 120.2L231.7 114.9L237.8 113.1L243.1 113.1L248.4 118.4L255.4 120.7L318.9 120.7L318.9 145.8L-1.8 145.8Z" fill="#1a1a1a"/><path d="M315.3 121.5L378.8 121.5L387.6 123.7L422.8 125.5L431.6 127.3L475.7 127.3L480.1 125.1L541.7 125.1L544.4 120.2L548.8 114.9L554.9 113.1L560.2 113.1L565.5 118.4L572.5 120.7L636.0 120.7L636.0 145.8L315.3 145.8Z" fill="#1a1a1a"/><path d="M136.5 73.4L149.7 72.9L163.0 72.5L176.2 72.0L189.4 71.6L200.8 71.6L211.4 72.0L219.3 72.5" fill="none" stroke="#c9c9c9" stroke-width="4.4" stroke-linecap="round" stroke-linejoin="round"/><path d="M253.7 73.4L264.2 72.5L273.1 71.6L277.5 71.2" fill="none" stroke="#c7c7c7" stroke-width="3.5" stroke-linecap="round" stroke-linejoin="round"/></g></g>
<use href="#land"/>
</g>
<g transform="translate(31.30,293.05)" clip-path="url(#pc)">
<g clip-path="url(#dm)"><g filter="url(#cm2)"><path fill="#060606" d="M-26.4 44.2h35.5v4.7h-35.5zM281.9 44.2h44.3v4.7h-44.3zM-26.4 48.6h44.3v4.7h-44.3zM202.6 48.6h9.1v4.7h-9.1zM237.8 48.6h97.2v4.7h-97.2zM-26.4 53.0h53.1v4.7h-53.1zM202.6 53.0h9.1v4.7h-9.1zM229.0 53.0h114.8v4.7h-114.8zM-17.6 57.5h44.3v4.7h-44.3zM229.0 57.5h44.3v4.7h-44.3zM299.5 57.5h44.3v4.7h-44.3zM-17.6 61.9h26.7v4.7h-26.7zM237.8 61.9h26.7v4.7h-26.7zM299.5 61.9h26.7v4.7h-26.7zM-8.8 66.3h26.7v4.7h-26.7zM308.3 66.3h26.7v4.7h-26.7zM-8.8 70.7h26.7v4.7h-26.7zM308.3 70.7h26.7v4.7h-26.7zM0.0 92.8h9.1v4.7h-9.1zM79.3 92.8h9.1v4.7h-9.1zM317.1 92.8h9.1v4.7h-9.1zM70.5 97.2h17.9v4.7h-17.9zM70.5 101.6h9.1v4.7h-9.1zM229.0 114.9h9.1v4.7h-9.1zM229.0 119.3h9.1v4.7h-9.1z"/><path fill="#0b0b0b" d="M8.8 61.9h9.1v4.7h-9.1zM325.9 61.9h9.1v4.7h-9.1z"/><path fill="#0d0d0d" d="M8.8 44.2h9.1v4.7h-9.1zM325.9 44.2h9.1v4.7h-9.1zM17.6 48.6h9.1v4.7h-9.1zM334.7 48.6h9.1v4.7h-9.1zM79.3 101.6h9.1v4.7h-9.1z"/><path fill="#0f0f0f" d="M229.0 110.5h9.1v4.7h-9.1z"/><path fill="#101010" d="M88.1 97.2h9.1v4.7h-9.1z"/><path fill="#131313" d="M132.1 -8.8h9.1v4.7h-9.1zM149.7 -8.8h44.3v4.7h-44.3zM264.2 -8.8h26.7v4.7h-26.7zM132.1 -4.4h9.1v4.7h-9.1zM149.7 -4.4h44.3v4.7h-44.3zM264.2 -4.4h26.7v4.7h-26.7zM132.1 0.0h9.1v4.7h-9.1zM149.7 0.0h44.3v4.7h-44.3zM264.2 0.0h26.7v4.7h-26.7zM132.1 4.4h9.1v4.7h-9.1zM149.7 4.4h44.3v4.7h-44.3zM264.2 4.4h26.7v4.7h-26.7zM132.1 8.8h9.1v4.7h-9.1zM149.7 8.8h44.3v4.7h-44.3zM264.2 8.8h26.7v4.7h-26.7zM8.8 13.3h9.1v4.7h-9.1zM123.3 13.3h17.9v4.7h-17.9zM149.7 13.3h44.3v4.7h-44.3zM264.2 13.3h17.9v4.7h-17.9zM325.9 13.3h9.1v4.7h-9.1zM123.3 17.7h17.9v4.7h-17.9zM158.6 17.7h35.5v4.7h-35.5zM264.2 17.7h9.1v4.7h-9.1zM17.6 26.5h9.1v4.7h-9.1zM334.7 26.5h9.1v4.7h-9.1zM0.0 30.9h44.3v4.7h-44.3zM317.1 30.9h26.7v4.7h-26.7zM-17.6 35.4h70.8v4.7h-70.8zM299.5 35.4h44.3v4.7h-44.3zM-26.4 39.8h79.6v4.7h-79.6zM290.7 39.8h53.1v4.7h-53.1zM17.6 44.2h35.5v4.7h-35.5zM237.8 44.2h44.3v4.7h-44.3zM334.7 44.2h9.1v4.7h-9.1zM26.4 48.6h17.9v4.7h-17.9zM123.3 48.6h35.5v4.7h-35.5zM211.4 48.6h26.7v4.7h-26.7zM26.4 53.0h17.9v4.7h-17.9zM114.5 53.0h44.3v4.7h-44.3zM193.8 53.0h9.1v4.7h-9.1zM211.4 53.0h17.9v4.7h-17.9zM-26.4 57.5h9.1v4.7h-9.1zM26.4 57.5h9.1v4.7h-9.1zM123.3 57.5h44.3v4.7h-44.3zM193.8 57.5h35.5v4.7h-35.5zM273.1 57.5h26.7v4.7h-26.7zM-26.4 61.9h9.1v4.7h-9.1zM17.6 61.9h17.9v4.7h-17.9zM140.9 61.9h53.1v4.7h-53.1zM211.4 61.9h26.7v4.7h-26.7zM264.2 61.9h35.5v4.7h-35.5zM334.7 61.9h9.1v4.7h-9.1zM17.6 66.3h9.1v4.7h-9.1zM220.2 66.3h44.3v4.7h-44.3zM334.7 66.3h9.1v4.7h-9.1zM17.6 70.7h17.9v4.7h-17.9zM334.7 70.7h9.1v4.7h-9.1zM0.0 75.1h26.7v4.7h-26.7zM317.1 75.1h26.7v4.7h-26.7zM0.0 79.5h26.7v4.7h-26.7zM158.6 79.5h53.1v4.7h-53.1zM255.4 79.5h35.5v4.7h-35.5zM317.1 79.5h26.7v4.7h-26.7zM0.0 84.0h26.7v4.7h-26.7zM158.6 84.0h53.1v4.7h-53.1zM246.6 84.0h44.3v4.7h-44.3zM317.1 84.0h26.7v4.7h-26.7zM0.0 88.4h26.7v4.7h-26.7zM70.5 88.4h17.9v4.7h-17.9zM246.6 88.4h44.3v4.7h-44.3zM317.1 88.4h26.7v4.7h-26.7zM-8.8 92.8h9.1v4.7h-9.1zM8.8 92.8h26.7v4.7h-26.7zM70.5 92.8h9.1v4.7h-9.1zM88.1 92.8h17.9v4.7h-17.9zM246.6 92.8h35.5v4.7h-35.5zM308.3 92.8h9.1v4.7h-9.1zM325.9 92.8h17.9v4.7h-17.9zM-17.6 97.2h70.8v4.7h-70.8zM96.9 97.2h17.9v4.7h-17.9zM237.8 97.2h17.9v4.7h-17.9zM299.5 97.2h44.3v4.7h-44.3zM-17.6 101.6h26.7v4.7h-26.7zM35.2 101.6h35.5v4.7h-35.5zM88.1 101.6h26.7v4.7h-26.7zM220.2 101.6h17.9v4.7h-17.9zM299.5 101.6h26.7v4.7h-26.7zM70.5 106.1h26.7v4.7h-26.7zM220.2 106.1h9.1v4.7h-9.1zM220.2 110.5h9.1v4.7h-9.1zM237.8 110.5h9.1v4.7h-9.1zM237.8 114.9h9.1v4.7h-9.1zM237.8 119.3h17.9v4.7h-17.9zM229.0 123.7h26.7v4.7h-26.7zM-26.4 128.2h17.9v4.7h-17.9zM158.6 128.2h9.1v4.7h-9.1zM229.0 128.2h79.6v4.7h-79.6zM-26.4 132.6h370.2v4.7h-370.2zM-26.4 137.0h370.2v4.7h-370.2zM-26.4 141.4h370.2v4.7h-370.2zM-26.4 145.8h370.2v4.7h-370.2zM-26.4 150.3h370.2v4.7h-370.2zM-26.4 154.7h370.2v4.7h-370.2zM-26.4 159.1h370.2v4.7h-370.2z"/><path fill="#171717" d="M123.3 -8.8h9.1v4.7h-9.1zM123.3 -4.4h9.1v4.7h-9.1zM123.3 0.0h9.1v4.7h-9.1zM123.3 4.4h9.1v4.7h-9.1zM123.3 8.8h9.1v4.7h-9.1zM26.4 26.5h9.1v4.7h-9.1zM44.0 30.9h9.1v4.7h-9.1z"/><path fill="#1a1a1a" d="M193.8 -8.8h9.1v4.7h-9.1zM193.8 -4.4h9.1v4.7h-9.1zM193.8 0.0h9.1v4.7h-9.1zM193.8 4.4h9.1v4.7h-9.1zM193.8 8.8h9.1v4.7h-9.1zM202.6 44.2h9.1v4.7h-9.1zM-17.6 66.3h9.1v4.7h-9.1zM299.5 66.3h9.1v4.7h-9.1zM246.6 79.5h9.1v4.7h-9.1zM237.8 84.0h9.1v4.7h-9.1zM229.0 106.1h9.1v4.7h-9.1z"/><path fill="#1c1c1c" d="M193.8 13.3h9.1v4.7h-9.1zM149.7 17.7h9.1v4.7h-9.1zM237.8 92.8h9.1v4.7h-9.1zM96.9 106.1h9.1v4.7h-9.1z"/><path fill="#202020" d="M-26.4 -8.8h62.0v4.7h-62.0zM52.9 -8.8h35.5v4.7h-35.5zM96.9 -8.8h26.7v4.7h-26.7zM140.9 -8.8h9.1v4.7h-9.1zM202.6 -8.8h26.7v4.7h-26.7zM290.7 -8.8h53.1v4.7h-53.1zM-26.4 -4.4h62.0v4.7h-62.0zM52.9 -4.4h35.5v4.7h-35.5zM96.9 -4.4h26.7v4.7h-26.7zM140.9 -4.4h9.1v4.7h-9.1zM202.6 -4.4h26.7v4.7h-26.7zM290.7 -4.4h53.1v4.7h-53.1zM-26.4 0.0h62.0v4.7h-62.0zM52.9 0.0h35.5v4.7h-35.5zM96.9 0.0h26.7v4.7h-26.7zM140.9 0.0h9.1v4.7h-9.1zM202.6 0.0h26.7v4.7h-26.7zM290.7 0.0h53.1v4.7h-53.1zM-26.4 4.4h62.0v4.7h-62.0zM52.9 4.4h35.5v4.7h-35.5zM96.9 4.4h26.7v4.7h-26.7zM140.9 4.4h9.1v4.7h-9.1zM202.6 4.4h26.7v4.7h-26.7zM290.7 4.4h53.1v4.7h-53.1zM-26.4 8.8h62.0v4.7h-62.0zM52.9 8.8h35.5v4.7h-35.5zM96.9 8.8h26.7v4.7h-26.7zM140.9 8.8h9.1v4.7h-9.1zM202.6 8.8h26.7v4.7h-26.7zM290.7 8.8h53.1v4.7h-53.1zM-26.4 13.3h9.1v4.7h-9.1zM0.0 13.3h9.1v4.7h-9.1zM17.6 13.3h106.0v4.7h-106.0zM140.9 13.3h9.1v4.7h-9.1zM202.6 13.3h26.7v4.7h-26.7zM281.9 13.3h17.9v4.7h-17.9zM317.1 13.3h9.1v4.7h-9.1zM334.7 13.3h9.1v4.7h-9.1zM0.0 17.7h106.0v4.7h-106.0zM140.9 17.7h9.1v4.7h-9.1zM193.8 17.7h26.7v4.7h-26.7zM273.1 17.7h9.1v4.7h-9.1zM317.1 17.7h26.7v4.7h-26.7zM0.0 22.1h79.6v4.7h-79.6zM132.1 22.1h26.7v4.7h-26.7zM185.0 22.1h35.5v4.7h-35.5zM317.1 22.1h26.7v4.7h-26.7zM-8.8 26.5h26.7v4.7h-26.7zM35.2 26.5h17.9v4.7h-17.9zM193.8 26.5h17.9v4.7h-17.9zM308.3 26.5h26.7v4.7h-26.7zM-8.8 30.9h9.1v4.7h-9.1zM202.6 30.9h17.9v4.7h-17.9zM308.3 30.9h9.1v4.7h-9.1zM52.9 35.4h9.1v4.7h-9.1zM202.6 35.4h17.9v4.7h-17.9zM176.2 39.8h26.7v4.7h-26.7zM264.2 39.8h26.7v4.7h-26.7zM132.1 44.2h26.7v4.7h-26.7zM176.2 44.2h26.7v4.7h-26.7zM229.0 44.2h9.1v4.7h-9.1zM114.5 48.6h9.1v4.7h-9.1zM167.4 48.6h35.5v4.7h-35.5zM105.7 53.0h9.1v4.7h-9.1zM158.6 53.0h35.5v4.7h-35.5zM114.5 57.5h9.1v4.7h-9.1zM167.4 57.5h26.7v4.7h-26.7zM132.1 61.9h9.1v4.7h-9.1zM193.8 61.9h17.9v4.7h-17.9zM26.4 66.3h9.1v4.7h-9.1zM158.6 66.3h17.9v4.7h-17.9zM211.4 66.3h9.1v4.7h-9.1zM264.2 66.3h9.1v4.7h-9.1zM229.0 70.7h9.1v4.7h-9.1zM-8.8 75.1h9.1v4.7h-9.1zM26.4 75.1h9.1v4.7h-9.1zM140.9 75.1h17.9v4.7h-17.9zM246.6 75.1h9.1v4.7h-9.1zM308.3 75.1h9.1v4.7h-9.1zM-26.4 79.5h9.1v4.7h-9.1zM26.4 79.5h9.1v4.7h-9.1zM140.9 79.5h17.9v4.7h-17.9zM211.4 79.5h35.5v4.7h-35.5zM290.7 79.5h9.1v4.7h-9.1zM70.5 84.0h17.9v4.7h-17.9zM149.7 84.0h9.1v4.7h-9.1zM211.4 84.0h26.7v4.7h-26.7zM-8.8 88.4h9.1v4.7h-9.1zM26.4 88.4h9.1v4.7h-9.1zM88.1 88.4h17.9v4.7h-17.9zM167.4 88.4h44.3v4.7h-44.3zM237.8 88.4h9.1v4.7h-9.1zM308.3 88.4h9.1v4.7h-9.1zM-17.6 92.8h9.1v4.7h-9.1zM35.2 92.8h17.9v4.7h-17.9zM61.7 92.8h9.1v4.7h-9.1zM105.7 92.8h9.1v4.7h-9.1zM281.9 92.8h9.1v4.7h-9.1zM299.5 92.8h9.1v4.7h-9.1zM-26.4 97.2h9.1v4.7h-9.1zM52.9 97.2h17.9v4.7h-17.9zM220.2 97.2h17.9v4.7h-17.9zM255.4 97.2h44.3v4.7h-44.3zM-26.4 101.6h9.1v4.7h-9.1zM8.8 101.6h26.7v4.7h-26.7zM114.5 101.6h9.1v4.7h-9.1zM281.9 101.6h17.9v4.7h-17.9zM325.9 101.6h17.9v4.7h-17.9zM-26.4 106.1h17.9v4.7h-17.9zM0.0 106.1h70.8v4.7h-70.8zM105.7 106.1h9.1v4.7h-9.1zM211.4 106.1h9.1v4.7h-9.1zM237.8 106.1h9.1v4.7h-9.1zM290.7 106.1h17.9v4.7h-17.9zM317.1 106.1h26.7v4.7h-26.7zM70.5 110.5h35.5v4.7h-35.5zM211.4 110.5h9.1v4.7h-9.1zM211.4 114.9h17.9v4.7h-17.9zM246.6 114.9h9.1v4.7h-9.1zM220.2 119.3h9.1v4.7h-9.1zM255.4 119.3h9.1v4.7h-9.1zM-26.4 123.7h17.9v4.7h-17.9zM158.6 123.7h9.1v4.7h-9.1zM255.4 123.7h53.1v4.7h-53.1zM-8.8 128.2h167.7v4.7h-167.7zM167.4 128.2h62.0v4.7h-62.0zM308.3 128.2h35.5v4.7h-35.5z"/><path fill="#212121" d="M255.4 -8.8h9.1v4.7h-9.1zM255.4 -4.4h9.1v4.7h-9.1zM255.4 0.0h9.1v4.7h-9.1zM255.4 4.4h9.1v4.7h-9.1zM255.4 8.8h9.1v4.7h-9.1zM202.6 39.8h9.1v4.7h-9.1z"/><path fill="#222222" d="M255.4 13.3h9.1v4.7h-9.1zM-8.8 79.5h9.1v4.7h-9.1zM308.3 79.5h9.1v4.7h-9.1z"/><path fill="#242424" d="M52.9 26.5h9.1v4.7h-9.1zM-26.4 35.4h9.1v4.7h-9.1zM290.7 35.4h9.1v4.7h-9.1zM52.9 39.8h9.1v4.7h-9.1zM-8.8 106.1h9.1v4.7h-9.1zM308.3 106.1h9.1v4.7h-9.1z"/><path fill="#262626" d="M114.5 17.7h9.1v4.7h-9.1zM220.2 17.7h9.1v4.7h-9.1zM255.4 17.7h9.1v4.7h-9.1zM-8.8 22.1h9.1v4.7h-9.1zM167.4 22.1h17.9v4.7h-17.9zM220.2 22.1h9.1v4.7h-9.1zM308.3 22.1h9.1v4.7h-9.1zM-17.6 26.5h9.1v4.7h-9.1zM299.5 26.5h9.1v4.7h-9.1zM44.0 48.6h9.1v4.7h-9.1zM35.2 57.5h9.1v4.7h-9.1zM237.8 75.1h9.1v4.7h-9.1zM-17.6 79.5h9.1v4.7h-9.1zM299.5 79.5h9.1v4.7h-9.1zM237.8 101.6h9.1v4.7h-9.1z"/><path fill="#282828" d="M105.7 17.7h9.1v4.7h-9.1zM79.3 22.1h9.1v4.7h-9.1zM158.6 22.1h9.1v4.7h-9.1zM193.8 30.9h9.1v4.7h-9.1z"/><path fill="#2b2b2b" d="M211.4 39.8h9.1v4.7h-9.1z"/><path fill="#2d2d2d" d="M35.2 -8.8h17.9v4.7h-17.9zM88.1 -8.8h9.1v4.7h-9.1zM229.0 -8.8h26.7v4.7h-26.7zM35.2 -4.4h17.9v4.7h-17.9zM88.1 -4.4h9.1v4.7h-9.1zM229.0 -4.4h26.7v4.7h-26.7zM35.2 0.0h17.9v4.7h-17.9zM88.1 0.0h9.1v4.7h-9.1zM229.0 0.0h26.7v4.7h-26.7zM35.2 4.4h17.9v4.7h-17.9zM88.1 4.4h9.1v4.7h-9.1zM229.0 4.4h26.7v4.7h-26.7zM35.2 8.8h17.9v4.7h-17.9zM88.1 8.8h9.1v4.7h-9.1zM229.0 8.8h26.7v4.7h-26.7zM-17.6 13.3h17.9v4.7h-17.9zM229.0 13.3h26.7v4.7h-26.7zM299.5 13.3h17.9v4.7h-17.9zM-26.4 17.7h26.7v4.7h-26.7zM229.0 17.7h17.9v4.7h-17.9zM281.9 17.7h35.5v4.7h-35.5zM-26.4 22.1h17.9v4.7h-17.9zM88.1 22.1h9.1v4.7h-9.1zM229.0 22.1h9.1v4.7h-9.1zM264.2 22.1h17.9v4.7h-17.9zM290.7 22.1h17.9v4.7h-17.9zM-26.4 26.5h9.1v4.7h-9.1zM61.7 26.5h35.5v4.7h-35.5zM211.4 26.5h9.1v4.7h-9.1zM290.7 26.5h9.1v4.7h-9.1zM-26.4 30.9h17.9v4.7h-17.9zM52.9 30.9h44.3v4.7h-44.3zM220.2 30.9h9.1v4.7h-9.1zM290.7 30.9h17.9v4.7h-17.9zM61.7 35.4h35.5v4.7h-35.5zM176.2 35.4h26.7v4.7h-26.7zM281.9 35.4h9.1v4.7h-9.1zM61.7 39.8h35.5v4.7h-35.5zM158.6 39.8h17.9v4.7h-17.9zM246.6 39.8h17.9v4.7h-17.9zM52.9 44.2h35.5v4.7h-35.5zM123.3 44.2h9.1v4.7h-9.1zM158.6 44.2h17.9v4.7h-17.9zM211.4 44.2h17.9v4.7h-17.9zM61.7 48.6h26.7v4.7h-26.7zM105.7 48.6h9.1v4.7h-9.1zM158.6 48.6h9.1v4.7h-9.1zM61.7 53.0h26.7v4.7h-26.7zM96.9 53.0h9.1v4.7h-9.1zM61.7 57.5h17.9v4.7h-17.9zM123.3 61.9h9.1v4.7h-9.1zM-26.4 66.3h9.1v4.7h-9.1zM140.9 66.3h17.9v4.7h-17.9zM176.2 66.3h9.1v4.7h-9.1zM273.1 66.3h26.7v4.7h-26.7zM-26.4 70.7h17.9v4.7h-17.9zM237.8 70.7h9.1v4.7h-9.1zM290.7 70.7h17.9v4.7h-17.9zM-26.4 75.1h17.9v4.7h-17.9zM35.2 75.1h9.1v4.7h-9.1zM132.1 75.1h9.1v4.7h-9.1zM158.6 75.1h44.3v4.7h-44.3zM255.4 75.1h9.1v4.7h-9.1zM281.9 75.1h26.7v4.7h-26.7zM70.5 79.5h17.9v4.7h-17.9zM132.1 79.5h9.1v4.7h-9.1zM-26.4 84.0h26.7v4.7h-26.7zM88.1 84.0h9.1v4.7h-9.1zM140.9 84.0h9.1v4.7h-9.1zM290.7 84.0h26.7v4.7h-26.7zM-26.4 88.4h17.9v4.7h-17.9zM35.2 88.4h9.1v4.7h-9.1zM61.7 88.4h9.1v4.7h-9.1zM105.7 88.4h9.1v4.7h-9.1zM149.7 88.4h17.9v4.7h-17.9zM211.4 88.4h26.7v4.7h-26.7zM290.7 88.4h17.9v4.7h-17.9zM-26.4 92.8h9.1v4.7h-9.1zM52.9 92.8h9.1v4.7h-9.1zM167.4 92.8h44.3v4.7h-44.3zM220.2 92.8h17.9v4.7h-17.9zM290.7 92.8h9.1v4.7h-9.1zM114.5 97.2h9.1v4.7h-9.1zM202.6 97.2h17.9v4.7h-17.9zM123.3 101.6h9.1v4.7h-9.1zM202.6 101.6h17.9v4.7h-17.9zM246.6 101.6h9.1v4.7h-9.1zM273.1 101.6h9.1v4.7h-9.1zM114.5 106.1h9.1v4.7h-9.1zM140.9 106.1h17.9v4.7h-17.9zM202.6 106.1h9.1v4.7h-9.1zM281.9 106.1h9.1v4.7h-9.1zM-26.4 110.5h97.2v4.7h-97.2zM105.7 110.5h9.1v4.7h-9.1zM132.1 110.5h26.7v4.7h-26.7zM202.6 110.5h9.1v4.7h-9.1zM246.6 110.5h9.1v4.7h-9.1zM290.7 110.5h53.1v4.7h-53.1zM-26.4 114.9h26.7v4.7h-26.7zM44.0 114.9h70.8v4.7h-70.8zM123.3 114.9h35.5v4.7h-35.5zM202.6 114.9h9.1v4.7h-9.1zM255.4 114.9h9.1v4.7h-9.1zM290.7 114.9h26.7v4.7h-26.7zM-26.4 119.3h26.7v4.7h-26.7zM35.2 119.3h132.4v4.7h-132.4zM193.8 119.3h26.7v4.7h-26.7zM264.2 119.3h53.1v4.7h-53.1zM-8.8 123.7h17.9v4.7h-17.9zM17.6 123.7h141.2v4.7h-141.2zM167.4 123.7h62.0v4.7h-62.0zM308.3 123.7h17.9v4.7h-17.9zM334.7 123.7h9.1v4.7h-9.1z"/><path fill="#2f2f2f" d="M229.0 75.1h9.1v4.7h-9.1z"/><path fill="#313131" d="M185.0 26.5h9.1v4.7h-9.1z"/><path fill="#333333" d="M246.6 17.7h9.1v4.7h-9.1zM123.3 22.1h9.1v4.7h-9.1zM220.2 26.5h9.1v4.7h-9.1zM220.2 39.8h9.1v4.7h-9.1z"/><path fill="#393939" d="M96.9 22.1h26.7v4.7h-26.7zM237.8 22.1h26.7v4.7h-26.7zM281.9 22.1h9.1v4.7h-9.1zM96.9 26.5h26.7v4.7h-26.7zM167.4 26.5h17.9v4.7h-17.9zM229.0 26.5h9.1v4.7h-9.1zM264.2 26.5h26.7v4.7h-26.7zM96.9 30.9h17.9v4.7h-17.9zM176.2 30.9h17.9v4.7h-17.9zM229.0 30.9h9.1v4.7h-9.1zM281.9 30.9h9.1v4.7h-9.1zM158.6 35.4h17.9v4.7h-17.9zM220.2 35.4h17.9v4.7h-17.9zM264.2 35.4h17.9v4.7h-17.9zM140.9 39.8h17.9v4.7h-17.9zM229.0 39.8h17.9v4.7h-17.9zM88.1 44.2h9.1v4.7h-9.1zM114.5 44.2h9.1v4.7h-9.1zM96.9 48.6h9.1v4.7h-9.1zM44.0 53.0h9.1v4.7h-9.1zM88.1 53.0h9.1v4.7h-9.1zM79.3 57.5h9.1v4.7h-9.1zM105.7 57.5h9.1v4.7h-9.1zM35.2 61.9h9.1v4.7h-9.1zM61.7 66.3h9.1v4.7h-9.1zM123.3 66.3h17.9v4.7h-17.9zM185.0 66.3h9.1v4.7h-9.1zM35.2 70.7h9.1v4.7h-9.1zM61.7 70.7h9.1v4.7h-9.1zM220.2 70.7h9.1v4.7h-9.1zM44.0 75.1h9.1v4.7h-9.1zM61.7 75.1h17.9v4.7h-17.9zM123.3 75.1h9.1v4.7h-9.1zM202.6 75.1h9.1v4.7h-9.1zM264.2 75.1h17.9v4.7h-17.9zM35.2 79.5h9.1v4.7h-9.1zM61.7 79.5h9.1v4.7h-9.1zM88.1 79.5h9.1v4.7h-9.1zM26.4 84.0h9.1v4.7h-9.1zM61.7 84.0h9.1v4.7h-9.1zM96.9 84.0h9.1v4.7h-9.1zM132.1 84.0h9.1v4.7h-9.1zM44.0 88.4h17.9v4.7h-17.9zM140.9 88.4h9.1v4.7h-9.1zM114.5 92.8h9.1v4.7h-9.1zM149.7 92.8h17.9v4.7h-17.9zM211.4 92.8h9.1v4.7h-9.1zM123.3 97.2h17.9v4.7h-17.9zM149.7 97.2h35.5v4.7h-35.5zM132.1 101.6h26.7v4.7h-26.7zM255.4 101.6h17.9v4.7h-17.9zM123.3 106.1h17.9v4.7h-17.9zM185.0 106.1h17.9v4.7h-17.9zM246.6 106.1h9.1v4.7h-9.1zM273.1 106.1h9.1v4.7h-9.1zM123.3 110.5h9.1v4.7h-9.1zM193.8 110.5h9.1v4.7h-9.1zM281.9 110.5h9.1v4.7h-9.1zM0.0 114.9h44.3v4.7h-44.3zM114.5 114.9h9.1v4.7h-9.1zM158.6 114.9h9.1v4.7h-9.1zM185.0 114.9h17.9v4.7h-17.9zM264.2 114.9h26.7v4.7h-26.7zM317.1 114.9h26.7v4.7h-26.7zM0.0 119.3h9.1v4.7h-9.1zM17.6 119.3h17.9v4.7h-17.9zM167.4 119.3h26.7v4.7h-26.7zM317.1 119.3h9.1v4.7h-9.1zM334.7 119.3h9.1v4.7h-9.1zM8.8 123.7h9.1v4.7h-9.1zM325.9 123.7h9.1v4.7h-9.1z"/><path fill="#464646" d="M123.3 26.5h44.3v4.7h-44.3zM237.8 26.5h26.7v4.7h-26.7zM114.5 30.9h26.7v4.7h-26.7zM158.6 30.9h17.9v4.7h-17.9zM237.8 30.9h44.3v4.7h-44.3zM96.9 35.4h9.1v4.7h-9.1zM149.7 35.4h9.1v4.7h-9.1zM237.8 35.4h26.7v4.7h-26.7zM96.9 39.8h9.1v4.7h-9.1zM132.1 39.8h9.1v4.7h-9.1zM96.9 44.2h17.9v4.7h-17.9zM88.1 48.6h9.1v4.7h-9.1zM88.1 57.5h17.9v4.7h-17.9zM70.5 61.9h9.1v4.7h-9.1zM114.5 61.9h9.1v4.7h-9.1zM35.2 66.3h9.1v4.7h-9.1zM70.5 66.3h9.1v4.7h-9.1zM193.8 66.3h17.9v4.7h-17.9zM44.0 70.7h9.1v4.7h-9.1zM70.5 70.7h17.9v4.7h-17.9zM52.9 75.1h9.1v4.7h-9.1zM79.3 75.1h9.1v4.7h-9.1zM114.5 75.1h9.1v4.7h-9.1zM211.4 75.1h17.9v4.7h-17.9zM44.0 79.5h17.9v4.7h-17.9zM96.9 79.5h9.1v4.7h-9.1zM123.3 79.5h9.1v4.7h-9.1zM35.2 84.0h9.1v4.7h-9.1zM52.9 84.0h9.1v4.7h-9.1zM132.1 88.4h9.1v4.7h-9.1zM123.3 92.8h26.7v4.7h-26.7zM140.9 97.2h9.1v4.7h-9.1zM185.0 97.2h17.9v4.7h-17.9zM158.6 101.6h44.3v4.7h-44.3zM158.6 106.1h26.7v4.7h-26.7zM255.4 106.1h17.9v4.7h-17.9zM114.5 110.5h9.1v4.7h-9.1zM158.6 110.5h35.5v4.7h-35.5zM255.4 110.5h26.7v4.7h-26.7zM167.4 114.9h17.9v4.7h-17.9zM8.8 119.3h9.1v4.7h-9.1zM325.9 119.3h9.1v4.7h-9.1z"/><path fill="#4c4c4c" d="M52.9 48.6h9.1v4.7h-9.1z"/><path fill="#4f4f4f" d="M61.7 61.9h9.1v4.7h-9.1z"/><path fill="#535353" d="M140.9 30.9h17.9v4.7h-17.9zM105.7 35.4h44.3v4.7h-44.3zM123.3 39.8h9.1v4.7h-9.1zM79.3 61.9h9.1v4.7h-9.1zM44.0 66.3h9.1v4.7h-9.1zM79.3 66.3h9.1v4.7h-9.1zM114.5 66.3h9.1v4.7h-9.1zM52.9 70.7h9.1v4.7h-9.1zM88.1 70.7h9.1v4.7h-9.1zM132.1 70.7h26.7v4.7h-26.7zM246.6 70.7h9.1v4.7h-9.1zM281.9 70.7h9.1v4.7h-9.1zM88.1 75.1h26.7v4.7h-26.7zM105.7 79.5h17.9v4.7h-17.9zM44.0 84.0h9.1v4.7h-9.1zM105.7 84.0h9.1v4.7h-9.1zM123.3 84.0h9.1v4.7h-9.1zM114.5 88.4h17.9v4.7h-17.9z"/><path fill="#606060" d="M105.7 39.8h17.9v4.7h-17.9zM44.0 57.5h9.1v4.7h-9.1zM44.0 61.9h9.1v4.7h-9.1zM88.1 61.9h26.7v4.7h-26.7zM52.9 66.3h9.1v4.7h-9.1zM88.1 66.3h26.7v4.7h-26.7zM96.9 70.7h35.5v4.7h-35.5zM158.6 70.7h9.1v4.7h-9.1zM211.4 70.7h9.1v4.7h-9.1zM114.5 84.0h9.1v4.7h-9.1z"/><path fill="#6c6c6c" d="M52.9 53.0h9.1v4.7h-9.1zM52.9 57.5h9.1v4.7h-9.1zM52.9 61.9h9.1v4.7h-9.1zM167.4 70.7h9.1v4.7h-9.1zM202.6 70.7h9.1v4.7h-9.1zM255.4 70.7h9.1v4.7h-9.1z"/><path fill="#797979" d="M176.2 70.7h26.7v4.7h-26.7zM264.2 70.7h17.9v4.7h-17.9z"/><path d="M96.9 74.2L105.7 74.2L118.9 73.8L132.1 73.4L145.3 72.9" fill="none" stroke="#6c6c6c" stroke-width="3.1" stroke-linecap="round" stroke-linejoin="round"/><path d="M145.3 72.9L158.6 72.5L171.8 72.0L185.0 71.6L198.2 71.6L209.6 72.0L218.4 72.9" fill="none" stroke="#acacac" stroke-width="2.6" stroke-linecap="round" stroke-linejoin="round"/><path d="M244.9 73.8L253.7 73.4L264.2 72.5L273.1 72.0L278.3 72.0" fill="none" stroke="#b9b9b9" stroke-width="2.6" stroke-linecap="round" stroke-linejoin="round"/><path d="M28.2 84.0L39.6 83.5L51.1 82.6L59.0 81.3" fill="none" stroke="#808080" stroke-width="3.5" stroke-linecap="round" stroke-linejoin="round"/><ellipse cx="52.0" cy="61.9" rx="2.6" ry="1.8" fill="#c6c6c6"/></g></g>
<use href="#land"/>
</g>
<g transform="translate(384.50,293.05)" clip-path="url(#pc)">
<g clip-path="url(#dm)"><g filter="url(#cm3)"><path fill="#060606" d="M-17.6 35.4h9.1v4.7h-9.1zM299.5 35.4h9.1v4.7h-9.1zM-26.4 39.8h26.7v4.7h-26.7zM17.6 39.8h35.5v4.7h-35.5zM176.2 39.8h26.7v4.7h-26.7zM290.7 39.8h26.7v4.7h-26.7zM334.7 39.8h9.1v4.7h-9.1zM-26.4 44.2h79.6v4.7h-79.6zM167.4 44.2h35.5v4.7h-35.5zM264.2 44.2h79.6v4.7h-79.6zM-26.4 48.6h70.8v4.7h-70.8zM132.1 48.6h70.8v4.7h-70.8zM246.6 48.6h97.2v4.7h-97.2zM-26.4 53.0h70.8v4.7h-70.8zM123.3 53.0h70.8v4.7h-70.8zM246.6 53.0h97.2v4.7h-97.2zM-26.4 57.5h62.0v4.7h-62.0zM132.1 57.5h70.8v4.7h-70.8zM237.8 57.5h106.0v4.7h-106.0zM-26.4 61.9h62.0v4.7h-62.0zM140.9 61.9h53.1v4.7h-53.1zM246.6 61.9h97.2v4.7h-97.2zM-8.8 66.3h35.5v4.7h-35.5zM308.3 66.3h35.5v4.7h-35.5zM-8.8 70.7h44.3v4.7h-44.3zM308.3 70.7h35.5v4.7h-35.5zM0.0 75.1h26.7v4.7h-26.7zM317.1 75.1h26.7v4.7h-26.7zM-26.4 79.5h53.1v4.7h-53.1zM158.6 79.5h79.6v4.7h-79.6zM255.4 79.5h88.4v4.7h-88.4zM-26.4 84.0h53.1v4.7h-53.1zM158.6 84.0h185.3v4.7h-185.3zM-26.4 88.4h53.1v4.7h-53.1zM70.5 88.4h17.9v4.7h-17.9zM176.2 88.4h167.7v4.7h-167.7zM-26.4 92.8h62.0v4.7h-62.0zM70.5 92.8h17.9v4.7h-17.9zM96.9 92.8h9.1v4.7h-9.1zM202.6 92.8h141.2v4.7h-141.2zM-26.4 97.2h17.9v4.7h-17.9zM8.8 97.2h35.5v4.7h-35.5zM70.5 97.2h17.9v4.7h-17.9zM211.4 97.2h44.3v4.7h-44.3zM264.2 97.2h44.3v4.7h-44.3zM325.9 97.2h17.9v4.7h-17.9zM-26.4 101.6h17.9v4.7h-17.9zM70.5 101.6h9.1v4.7h-9.1zM220.2 101.6h17.9v4.7h-17.9zM281.9 101.6h26.7v4.7h-26.7zM220.2 106.1h9.1v4.7h-9.1zM229.0 114.9h9.1v4.7h-9.1zM229.0 119.3h17.9v4.7h-17.9zM237.8 123.7h9.1v4.7h-9.1zM-26.4 128.2h9.1v4.7h-9.1zM229.0 128.2h70.8v4.7h-70.8zM-26.4 132.6h132.4v4.7h-132.4zM158.6 132.6h9.1v4.7h-9.1zM220.2 132.6h123.6v4.7h-123.6zM-26.4 137.0h26.7v4.7h-26.7zM158.6 137.0h9.1v4.7h-9.1zM229.0 137.0h88.4v4.7h-88.4zM-26.4 141.4h26.7v4.7h-26.7zM158.6 141.4h9.1v4.7h-9.1zM229.0 141.4h88.4v4.7h-88.4zM-26.4 145.8h26.7v4.7h-26.7zM158.6 145.8h9.1v4.7h-9.1zM229.0 145.8h88.4v4.7h-88.4zM-26.4 150.3h26.7v4.7h-26.7zM158.6 150.3h9.1v4.7h-9.1zM229.0 150.3h88.4v4.7h-88.4zM-26.4 154.7h26.7v4.7h-26.7zM158.6 154.7h9.1v4.7h-9.1zM229.0 154.7h88.4v4.7h-88.4zM-26.4 159.1h26.7v4.7h-26.7zM158.6 159.1h9.1v4.7h-9.1zM229.0 159.1h88.4v4.7h-88.4z"/><path fill="#0a0a0a" d="M193.8 53.0h9.1v4.7h-9.1zM88.1 92.8h9.1v4.7h-9.1z"/><path fill="#0c0c0c" d="M-8.8 35.4h9.1v4.7h-9.1zM308.3 35.4h9.1v4.7h-9.1zM8.8 39.8h9.1v4.7h-9.1zM325.9 39.8h9.1v4.7h-9.1zM246.6 79.5h9.1v4.7h-9.1zM-8.8 97.2h9.1v4.7h-9.1zM88.1 97.2h9.1v4.7h-9.1zM96.9 97.2h9.1v4.7h-9.1zM308.3 97.2h9.1v4.7h-9.1zM-8.8 101.6h9.1v4.7h-9.1zM79.3 101.6h9.1v4.7h-9.1zM308.3 101.6h9.1v4.7h-9.1z"/><path fill="#0e0e0e" d="M229.0 110.5h9.1v4.7h-9.1z"/><path fill="#121212" d="M-26.4 -8.8h9.1v4.7h-9.1zM149.7 -8.8h17.9v4.7h-17.9zM264.2 -8.8h35.5v4.7h-35.5zM-26.4 -4.4h9.1v4.7h-9.1zM149.7 -4.4h17.9v4.7h-17.9zM264.2 -4.4h35.5v4.7h-35.5zM-26.4 0.0h9.1v4.7h-9.1zM149.7 0.0h17.9v4.7h-17.9zM264.2 0.0h35.5v4.7h-35.5zM-26.4 4.4h9.1v4.7h-9.1zM149.7 4.4h17.9v4.7h-17.9zM264.2 4.4h35.5v4.7h-35.5zM-26.4 8.8h9.1v4.7h-9.1zM149.7 8.8h17.9v4.7h-17.9zM264.2 8.8h35.5v4.7h-35.5zM149.7 13.3h17.9v4.7h-17.9zM264.2 13.3h26.7v4.7h-26.7zM158.6 17.7h9.1v4.7h-9.1zM264.2 17.7h17.9v4.7h-17.9zM-8.8 26.5h17.9v4.7h-17.9zM17.6 26.5h9.1v4.7h-9.1zM308.3 26.5h17.9v4.7h-17.9zM334.7 26.5h9.1v4.7h-9.1zM-8.8 30.9h53.1v4.7h-53.1zM176.2 30.9h17.9v4.7h-17.9zM308.3 30.9h35.5v4.7h-35.5zM0.0 35.4h53.1v4.7h-53.1zM176.2 35.4h26.7v4.7h-26.7zM317.1 35.4h26.7v4.7h-26.7zM0.0 39.8h9.1v4.7h-9.1zM158.6 39.8h17.9v4.7h-17.9zM273.1 39.8h17.9v4.7h-17.9zM317.1 39.8h9.1v4.7h-9.1zM149.7 44.2h17.9v4.7h-17.9zM255.4 44.2h9.1v4.7h-9.1zM123.3 48.6h9.1v4.7h-9.1zM202.6 48.6h9.1v4.7h-9.1zM237.8 48.6h9.1v4.7h-9.1zM114.5 53.0h9.1v4.7h-9.1zM202.6 53.0h9.1v4.7h-9.1zM229.0 53.0h17.9v4.7h-17.9zM123.3 57.5h9.1v4.7h-9.1zM202.6 57.5h17.9v4.7h-17.9zM229.0 57.5h9.1v4.7h-9.1zM132.1 61.9h9.1v4.7h-9.1zM193.8 61.9h9.1v4.7h-9.1zM220.2 61.9h26.7v4.7h-26.7zM26.4 66.3h9.1v4.7h-9.1zM158.6 66.3h17.9v4.7h-17.9zM211.4 66.3h53.1v4.7h-53.1zM-8.8 75.1h9.1v4.7h-9.1zM26.4 75.1h9.1v4.7h-9.1zM140.9 75.1h17.9v4.7h-17.9zM246.6 75.1h9.1v4.7h-9.1zM308.3 75.1h9.1v4.7h-9.1zM140.9 79.5h17.9v4.7h-17.9zM70.5 84.0h17.9v4.7h-17.9zM26.4 88.4h9.1v4.7h-9.1zM88.1 88.4h17.9v4.7h-17.9zM167.4 88.4h9.1v4.7h-9.1zM35.2 92.8h17.9v4.7h-17.9zM61.7 92.8h9.1v4.7h-9.1zM185.0 92.8h17.9v4.7h-17.9zM0.0 97.2h9.1v4.7h-9.1zM44.0 97.2h9.1v4.7h-9.1zM105.7 97.2h9.1v4.7h-9.1zM255.4 97.2h9.1v4.7h-9.1zM317.1 97.2h9.1v4.7h-9.1zM0.0 101.6h9.1v4.7h-9.1zM35.2 101.6h17.9v4.7h-17.9zM61.7 101.6h9.1v4.7h-9.1zM88.1 101.6h26.7v4.7h-26.7zM211.4 101.6h9.1v4.7h-9.1zM317.1 101.6h9.1v4.7h-9.1zM-26.4 106.1h17.9v4.7h-17.9zM70.5 106.1h26.7v4.7h-26.7zM211.4 106.1h9.1v4.7h-9.1zM229.0 106.1h9.1v4.7h-9.1zM290.7 106.1h17.9v4.7h-17.9zM220.2 110.5h9.1v4.7h-9.1zM237.8 110.5h9.1v4.7h-9.1zM237.8 114.9h9.1v4.7h-9.1zM246.6 119.3h9.1v4.7h-9.1zM229.0 123.7h9.1v4.7h-9.1zM246.6 123.7h44.3v4.7h-44.3zM-17.6 128.2h246.9v4.7h-246.9zM299.5 128.2h44.3v4.7h-44.3zM105.7 132.6h53.1v4.7h-53.1zM167.4 132.6h53.1v4.7h-53.1zM0.0 137.0h158.9v4.7h-158.9zM167.4 137.0h62.0v4.7h-62.0zM317.1 137.0h26.7v4.7h-26.7zM0.0 141.4h158.9v4.7h-158.9zM167.4 141.4h62.0v4.7h-62.0zM317.1 141.4h26.7v4.7h-26.7zM0.0 145.8h158.9v4.7h-158.9zM167.4 145.8h62.0v4.7h-62.0zM317.1 145.8h26.7v4.7h-26.7zM0.0 150.3h158.9v4.7h-158.9zM167.4 150.3h62.0v4.7h-62.0zM317.1 150.3h26.7v4.7h-26.7zM0.0 154.7h158.9v4.7h-158.9zM167.4 154.7h62.0v4.7h-62.0zM317.1 154.7h26.7v4.7h-26.7zM0.0 159.1h158.9v4.7h-158.9zM167.4 159.1h62.0v4.7h-62.0zM317.1 159.1h26.7v4.7h-26.7z"/><path fill="#151515" d="M-17.6 66.3h9.1v4.7h-9.1zM299.5 66.3h9.1v4.7h-9.1zM237.8 79.5h9.1v4.7h-9.1z"/><path fill="#161616" d="M-26.4 35.4h9.1v4.7h-9.1zM290.7 35.4h9.1v4.7h-9.1z"/><path fill="#181818" d="M-17.6 26.5h9.1v4.7h-9.1zM176.2 26.5h9.1v4.7h-9.1zM299.5 26.5h9.1v4.7h-9.1z"/><path fill="#1a1a1a" d="M158.6 22.1h9.1v4.7h-9.1zM26.4 26.5h9.1v4.7h-9.1zM44.0 30.9h9.1v4.7h-9.1zM96.9 106.1h9.1v4.7h-9.1z"/><path fill="#1c1c1c" d="M176.2 22.1h9.1v4.7h-9.1z"/><path fill="#1e1e1e" d="M-17.6 -8.8h9.1v4.7h-9.1zM132.1 -8.8h9.1v4.7h-9.1zM167.4 -8.8h26.7v4.7h-26.7zM299.5 -8.8h9.1v4.7h-9.1zM-17.6 -4.4h9.1v4.7h-9.1zM132.1 -4.4h9.1v4.7h-9.1zM167.4 -4.4h26.7v4.7h-26.7zM299.5 -4.4h9.1v4.7h-9.1zM-17.6 0.0h9.1v4.7h-9.1zM132.1 0.0h9.1v4.7h-9.1zM167.4 0.0h26.7v4.7h-26.7zM299.5 0.0h9.1v4.7h-9.1zM-17.6 4.4h9.1v4.7h-9.1zM132.1 4.4h9.1v4.7h-9.1zM167.4 4.4h26.7v4.7h-26.7zM299.5 4.4h9.1v4.7h-9.1zM-17.6 8.8h9.1v4.7h-9.1zM132.1 8.8h9.1v4.7h-9.1zM167.4 8.8h26.7v4.7h-26.7zM299.5 8.8h9.1v4.7h-9.1zM-26.4 13.3h9.1v4.7h-9.1zM8.8 13.3h9.1v4.7h-9.1zM123.3 13.3h17.9v4.7h-17.9zM167.4 13.3h26.7v4.7h-26.7zM290.7 13.3h9.1v4.7h-9.1zM325.9 13.3h9.1v4.7h-9.1zM123.3 17.7h17.9v4.7h-17.9zM149.7 17.7h9.1v4.7h-9.1zM167.4 17.7h26.7v4.7h-26.7zM255.4 17.7h9.1v4.7h-9.1zM281.9 17.7h9.1v4.7h-9.1zM-26.4 22.1h9.1v4.7h-9.1zM-8.8 22.1h9.1v4.7h-9.1zM88.1 22.1h17.9v4.7h-17.9zM132.1 22.1h26.7v4.7h-26.7zM167.4 22.1h9.1v4.7h-9.1zM273.1 22.1h26.7v4.7h-26.7zM308.3 22.1h9.1v4.7h-9.1zM-26.4 26.5h9.1v4.7h-9.1zM8.8 26.5h9.1v4.7h-9.1zM61.7 26.5h44.3v4.7h-44.3zM158.6 26.5h17.9v4.7h-17.9zM290.7 26.5h9.1v4.7h-9.1zM325.9 26.5h9.1v4.7h-9.1zM-26.4 30.9h17.9v4.7h-17.9zM52.9 30.9h44.3v4.7h-44.3zM158.6 30.9h17.9v4.7h-17.9zM290.7 30.9h17.9v4.7h-17.9zM52.9 35.4h9.1v4.7h-9.1zM158.6 35.4h17.9v4.7h-17.9zM281.9 35.4h9.1v4.7h-9.1zM264.2 39.8h9.1v4.7h-9.1zM132.1 44.2h17.9v4.7h-17.9zM246.6 44.2h9.1v4.7h-9.1zM44.0 48.6h9.1v4.7h-9.1zM114.5 48.6h9.1v4.7h-9.1zM229.0 48.6h9.1v4.7h-9.1zM105.7 53.0h9.1v4.7h-9.1zM211.4 53.0h17.9v4.7h-17.9zM35.2 57.5h9.1v4.7h-9.1zM114.5 57.5h9.1v4.7h-9.1zM220.2 57.5h9.1v4.7h-9.1zM202.6 61.9h17.9v4.7h-17.9zM176.2 66.3h9.1v4.7h-9.1zM264.2 66.3h9.1v4.7h-9.1zM-26.4 70.7h17.9v4.7h-17.9zM229.0 70.7h9.1v4.7h-9.1zM290.7 70.7h17.9v4.7h-17.9zM-26.4 75.1h17.9v4.7h-17.9zM132.1 75.1h9.1v4.7h-9.1zM158.6 75.1h44.3v4.7h-44.3zM237.8 75.1h9.1v4.7h-9.1zM255.4 75.1h9.1v4.7h-9.1zM281.9 75.1h26.7v4.7h-26.7zM26.4 79.5h9.1v4.7h-9.1zM149.7 84.0h9.1v4.7h-9.1zM35.2 88.4h9.1v4.7h-9.1zM61.7 88.4h9.1v4.7h-9.1zM158.6 88.4h9.1v4.7h-9.1zM52.9 92.8h9.1v4.7h-9.1zM105.7 92.8h9.1v4.7h-9.1zM176.2 92.8h9.1v4.7h-9.1zM52.9 97.2h17.9v4.7h-17.9zM202.6 97.2h9.1v4.7h-9.1zM8.8 101.6h26.7v4.7h-26.7zM52.9 101.6h9.1v4.7h-9.1zM114.5 101.6h9.1v4.7h-9.1zM202.6 101.6h9.1v4.7h-9.1zM273.1 101.6h9.1v4.7h-9.1zM325.9 101.6h17.9v4.7h-17.9zM-8.8 106.1h17.9v4.7h-17.9zM35.2 106.1h35.5v4.7h-35.5zM105.7 106.1h9.1v4.7h-9.1zM202.6 106.1h9.1v4.7h-9.1zM237.8 106.1h9.1v4.7h-9.1zM308.3 106.1h17.9v4.7h-17.9zM52.9 110.5h53.1v4.7h-53.1zM211.4 110.5h9.1v4.7h-9.1zM220.2 114.9h9.1v4.7h-9.1zM246.6 114.9h9.1v4.7h-9.1zM255.4 119.3h9.1v4.7h-9.1zM-26.4 123.7h35.5v4.7h-35.5zM35.2 123.7h194.1v4.7h-194.1zM290.7 123.7h35.5v4.7h-35.5z"/><path fill="#202020" d="M185.0 26.5h9.1v4.7h-9.1z"/><path fill="#222222" d="M79.3 22.1h9.1v4.7h-9.1z"/><path fill="#242424" d="M-17.6 22.1h9.1v4.7h-9.1zM299.5 22.1h9.1v4.7h-9.1zM211.4 48.6h9.1v4.7h-9.1zM237.8 101.6h9.1v4.7h-9.1z"/><path fill="#252525" d="M193.8 -8.8h9.1v4.7h-9.1zM193.8 -4.4h9.1v4.7h-9.1zM193.8 0.0h9.1v4.7h-9.1zM193.8 4.4h9.1v4.7h-9.1zM193.8 8.8h9.1v4.7h-9.1z"/><path fill="#262626" d="M123.3 -8.8h9.1v4.7h-9.1zM123.3 -4.4h9.1v4.7h-9.1zM123.3 0.0h9.1v4.7h-9.1zM123.3 4.4h9.1v4.7h-9.1zM123.3 8.8h9.1v4.7h-9.1zM193.8 13.3h9.1v4.7h-9.1zM255.4 13.3h9.1v4.7h-9.1zM52.9 39.8h9.1v4.7h-9.1z"/><path fill="#272727" d="M52.9 26.5h9.1v4.7h-9.1z"/><path fill="#292929" d="M255.4 -8.8h9.1v4.7h-9.1zM255.4 -4.4h9.1v4.7h-9.1zM255.4 0.0h9.1v4.7h-9.1zM255.4 4.4h9.1v4.7h-9.1zM255.4 8.8h9.1v4.7h-9.1z"/><path fill="#2a2a2a" d="M-8.8 -8.8h17.9v4.7h-17.9zM140.9 -8.8h9.1v4.7h-9.1zM202.6 -8.8h26.7v4.7h-26.7zM308.3 -8.8h17.9v4.7h-17.9zM-8.8 -4.4h17.9v4.7h-17.9zM140.9 -4.4h9.1v4.7h-9.1zM202.6 -4.4h26.7v4.7h-26.7zM308.3 -4.4h17.9v4.7h-17.9zM-8.8 0.0h17.9v4.7h-17.9zM140.9 0.0h9.1v4.7h-9.1zM202.6 0.0h26.7v4.7h-26.7zM308.3 0.0h17.9v4.7h-17.9zM-8.8 4.4h17.9v4.7h-17.9zM140.9 4.4h9.1v4.7h-9.1zM202.6 4.4h26.7v4.7h-26.7zM308.3 4.4h17.9v4.7h-17.9zM-8.8 8.8h17.9v4.7h-17.9zM140.9 8.8h9.1v4.7h-9.1zM202.6 8.8h26.7v4.7h-26.7zM308.3 8.8h17.9v4.7h-17.9zM-17.6 13.3h17.9v4.7h-17.9zM17.6 13.3h35.5v4.7h-35.5zM70.5 13.3h53.1v4.7h-53.1zM140.9 13.3h9.1v4.7h-9.1zM202.6 13.3h26.7v4.7h-26.7zM299.5 13.3h17.9v4.7h-17.9zM334.7 13.3h9.1v4.7h-9.1zM-26.4 17.7h79.6v4.7h-79.6zM70.5 17.7h53.1v4.7h-53.1zM140.9 17.7h9.1v4.7h-9.1zM193.8 17.7h26.7v4.7h-26.7zM290.7 17.7h53.1v4.7h-53.1zM0.0 22.1h53.1v4.7h-53.1zM70.5 22.1h9.1v4.7h-9.1zM105.7 22.1h9.1v4.7h-9.1zM185.0 22.1h35.5v4.7h-35.5zM255.4 22.1h17.9v4.7h-17.9zM317.1 22.1h26.7v4.7h-26.7zM35.2 26.5h17.9v4.7h-17.9zM105.7 26.5h9.1v4.7h-9.1zM132.1 26.5h9.1v4.7h-9.1zM255.4 26.5h35.5v4.7h-35.5zM96.9 30.9h17.9v4.7h-17.9zM193.8 30.9h9.1v4.7h-9.1zM264.2 30.9h26.7v4.7h-26.7zM61.7 35.4h35.5v4.7h-35.5zM273.1 35.4h9.1v4.7h-9.1zM202.6 39.8h9.1v4.7h-9.1zM123.3 44.2h9.1v4.7h-9.1zM202.6 44.2h9.1v4.7h-9.1zM237.8 44.2h9.1v4.7h-9.1zM105.7 48.6h9.1v4.7h-9.1zM220.2 48.6h9.1v4.7h-9.1zM123.3 61.9h9.1v4.7h-9.1zM-26.4 66.3h9.1v4.7h-9.1zM140.9 66.3h17.9v4.7h-17.9zM185.0 66.3h9.1v4.7h-9.1zM290.7 66.3h9.1v4.7h-9.1zM237.8 70.7h9.1v4.7h-9.1zM35.2 75.1h9.1v4.7h-9.1zM202.6 75.1h9.1v4.7h-9.1zM229.0 75.1h9.1v4.7h-9.1zM264.2 75.1h17.9v4.7h-17.9zM70.5 79.5h17.9v4.7h-17.9zM132.1 79.5h9.1v4.7h-9.1zM88.1 84.0h9.1v4.7h-9.1zM140.9 84.0h9.1v4.7h-9.1zM44.0 88.4h17.9v4.7h-17.9zM105.7 88.4h9.1v4.7h-9.1zM149.7 88.4h9.1v4.7h-9.1zM167.4 92.8h9.1v4.7h-9.1zM114.5 97.2h9.1v4.7h-9.1zM246.6 101.6h9.1v4.7h-9.1zM8.8 106.1h26.7v4.7h-26.7zM281.9 106.1h9.1v4.7h-9.1zM325.9 106.1h17.9v4.7h-17.9zM-17.6 110.5h26.7v4.7h-26.7zM35.2 110.5h17.9v4.7h-17.9zM105.7 110.5h9.1v4.7h-9.1zM202.6 110.5h9.1v4.7h-9.1zM299.5 110.5h26.7v4.7h-26.7zM44.0 114.9h70.8v4.7h-70.8zM202.6 114.9h17.9v4.7h-17.9zM44.0 119.3h114.8v4.7h-114.8zM193.8 119.3h35.5v4.7h-35.5zM264.2 119.3h9.1v4.7h-9.1zM8.8 123.7h26.7v4.7h-26.7zM325.9 123.7h17.9v4.7h-17.9z"/><path fill="#2c2c2c" d="M52.9 22.1h17.9v4.7h-17.9z"/><path fill="#2e2e2e" d="M52.9 17.7h17.9v4.7h-17.9z"/><path fill="#313131" d="M52.9 13.3h17.9v4.7h-17.9zM123.3 22.1h9.1v4.7h-9.1z"/><path fill="#373737" d="M8.8 -8.8h9.1v4.7h-9.1zM26.4 -8.8h9.1v4.7h-9.1zM52.9 -8.8h35.5v4.7h-35.5zM96.9 -8.8h26.7v4.7h-26.7zM325.9 -8.8h9.1v4.7h-9.1zM8.8 -4.4h9.1v4.7h-9.1zM26.4 -4.4h9.1v4.7h-9.1zM52.9 -4.4h35.5v4.7h-35.5zM96.9 -4.4h26.7v4.7h-26.7zM325.9 -4.4h9.1v4.7h-9.1zM8.8 0.0h9.1v4.7h-9.1zM26.4 0.0h9.1v4.7h-9.1zM52.9 0.0h35.5v4.7h-35.5zM96.9 0.0h26.7v4.7h-26.7zM325.9 0.0h9.1v4.7h-9.1zM8.8 4.4h9.1v4.7h-9.1zM26.4 4.4h9.1v4.7h-9.1zM52.9 4.4h35.5v4.7h-35.5zM96.9 4.4h26.7v4.7h-26.7zM325.9 4.4h9.1v4.7h-9.1zM8.8 8.8h9.1v4.7h-9.1zM26.4 8.8h9.1v4.7h-9.1zM52.9 8.8h35.5v4.7h-35.5zM96.9 8.8h26.7v4.7h-26.7zM325.9 8.8h9.1v4.7h-9.1zM0.0 13.3h9.1v4.7h-9.1zM317.1 13.3h9.1v4.7h-9.1zM220.2 17.7h9.1v4.7h-9.1zM114.5 22.1h9.1v4.7h-9.1zM220.2 22.1h9.1v4.7h-9.1zM114.5 26.5h9.1v4.7h-9.1zM140.9 26.5h9.1v4.7h-9.1zM193.8 26.5h17.9v4.7h-17.9zM246.6 26.5h9.1v4.7h-9.1zM114.5 30.9h9.1v4.7h-9.1zM202.6 30.9h62.0v4.7h-62.0zM202.6 35.4h17.9v4.7h-17.9zM264.2 35.4h9.1v4.7h-9.1zM61.7 39.8h35.5v4.7h-35.5zM149.7 39.8h9.1v4.7h-9.1zM255.4 39.8h9.1v4.7h-9.1zM52.9 44.2h35.5v4.7h-35.5zM229.0 44.2h9.1v4.7h-9.1zM44.0 53.0h9.1v4.7h-9.1zM96.9 53.0h9.1v4.7h-9.1zM61.7 57.5h17.9v4.7h-17.9zM105.7 57.5h9.1v4.7h-9.1zM35.2 61.9h9.1v4.7h-9.1zM132.1 66.3h9.1v4.7h-9.1zM273.1 66.3h17.9v4.7h-17.9zM35.2 70.7h9.1v4.7h-9.1zM123.3 75.1h9.1v4.7h-9.1zM26.4 84.0h9.1v4.7h-9.1zM61.7 84.0h9.1v4.7h-9.1zM158.6 92.8h9.1v4.7h-9.1zM176.2 97.2h9.1v4.7h-9.1zM123.3 101.6h9.1v4.7h-9.1zM264.2 101.6h9.1v4.7h-9.1zM114.5 106.1h9.1v4.7h-9.1zM193.8 106.1h9.1v4.7h-9.1zM-26.4 110.5h9.1v4.7h-9.1zM8.8 110.5h26.7v4.7h-26.7zM132.1 110.5h26.7v4.7h-26.7zM193.8 110.5h9.1v4.7h-9.1zM246.6 110.5h9.1v4.7h-9.1zM290.7 110.5h9.1v4.7h-9.1zM325.9 110.5h17.9v4.7h-17.9zM-26.4 114.9h26.7v4.7h-26.7zM26.4 114.9h17.9v4.7h-17.9zM114.5 114.9h44.3v4.7h-44.3zM185.0 114.9h17.9v4.7h-17.9zM255.4 114.9h9.1v4.7h-9.1zM290.7 114.9h26.7v4.7h-26.7zM-26.4 119.3h26.7v4.7h-26.7zM35.2 119.3h9.1v4.7h-9.1zM158.6 119.3h35.5v4.7h-35.5zM273.1 119.3h44.3v4.7h-44.3z"/><path fill="#3a3a3a" d="M61.7 53.0h9.1v4.7h-9.1z"/><path fill="#3d3d3d" d="M70.5 53.0h9.1v4.7h-9.1zM96.9 84.0h9.1v4.7h-9.1z"/><path fill="#414141" d="M211.4 39.8h9.1v4.7h-9.1z"/><path fill="#434343" d="M17.6 -8.8h9.1v4.7h-9.1zM35.2 -8.8h17.9v4.7h-17.9zM88.1 -8.8h9.1v4.7h-9.1zM229.0 -8.8h26.7v4.7h-26.7zM334.7 -8.8h9.1v4.7h-9.1zM17.6 -4.4h9.1v4.7h-9.1zM35.2 -4.4h17.9v4.7h-17.9zM88.1 -4.4h9.1v4.7h-9.1zM229.0 -4.4h26.7v4.7h-26.7zM334.7 -4.4h9.1v4.7h-9.1zM17.6 0.0h9.1v4.7h-9.1zM35.2 0.0h17.9v4.7h-17.9zM88.1 0.0h9.1v4.7h-9.1zM229.0 0.0h26.7v4.7h-26.7zM334.7 0.0h9.1v4.7h-9.1zM17.6 4.4h9.1v4.7h-9.1zM35.2 4.4h17.9v4.7h-17.9zM88.1 4.4h9.1v4.7h-9.1zM229.0 4.4h26.7v4.7h-26.7zM334.7 4.4h9.1v4.7h-9.1zM17.6 8.8h9.1v4.7h-9.1zM35.2 8.8h17.9v4.7h-17.9zM88.1 8.8h9.1v4.7h-9.1zM229.0 8.8h26.7v4.7h-26.7zM334.7 8.8h9.1v4.7h-9.1zM229.0 13.3h26.7v4.7h-26.7zM229.0 17.7h9.1v4.7h-9.1zM229.0 22.1h9.1v4.7h-9.1zM246.6 22.1h9.1v4.7h-9.1zM123.3 26.5h9.1v4.7h-9.1zM149.7 26.5h9.1v4.7h-9.1zM211.4 26.5h26.7v4.7h-26.7zM123.3 30.9h17.9v4.7h-17.9zM96.9 35.4h9.1v4.7h-9.1zM220.2 35.4h17.9v4.7h-17.9zM255.4 35.4h9.1v4.7h-9.1zM140.9 39.8h9.1v4.7h-9.1zM246.6 39.8h9.1v4.7h-9.1zM88.1 44.2h9.1v4.7h-9.1zM114.5 44.2h9.1v4.7h-9.1zM211.4 44.2h17.9v4.7h-17.9zM61.7 48.6h26.7v4.7h-26.7zM96.9 48.6h9.1v4.7h-9.1zM79.3 53.0h9.1v4.7h-9.1zM193.8 66.3h9.1v4.7h-9.1zM61.7 70.7h9.1v4.7h-9.1zM220.2 70.7h9.1v4.7h-9.1zM44.0 75.1h9.1v4.7h-9.1zM61.7 75.1h17.9v4.7h-17.9zM211.4 75.1h17.9v4.7h-17.9zM35.2 79.5h9.1v4.7h-9.1zM61.7 79.5h9.1v4.7h-9.1zM88.1 79.5h9.1v4.7h-9.1zM132.1 84.0h9.1v4.7h-9.1zM140.9 88.4h9.1v4.7h-9.1zM114.5 92.8h9.1v4.7h-9.1zM149.7 92.8h9.1v4.7h-9.1zM123.3 97.2h9.1v4.7h-9.1zM158.6 97.2h17.9v4.7h-17.9zM185.0 97.2h17.9v4.7h-17.9zM132.1 101.6h9.1v4.7h-9.1zM185.0 101.6h17.9v4.7h-17.9zM255.4 101.6h9.1v4.7h-9.1zM123.3 106.1h35.5v4.7h-35.5zM185.0 106.1h9.1v4.7h-9.1zM246.6 106.1h9.1v4.7h-9.1zM273.1 106.1h9.1v4.7h-9.1zM114.5 110.5h17.9v4.7h-17.9zM185.0 110.5h9.1v4.7h-9.1zM281.9 110.5h9.1v4.7h-9.1zM0.0 114.9h26.7v4.7h-26.7zM158.6 114.9h9.1v4.7h-9.1zM176.2 114.9h9.1v4.7h-9.1zM264.2 114.9h9.1v4.7h-9.1zM281.9 114.9h9.1v4.7h-9.1zM317.1 114.9h26.7v4.7h-26.7zM0.0 119.3h9.1v4.7h-9.1zM17.6 119.3h17.9v4.7h-17.9zM317.1 119.3h9.1v4.7h-9.1zM334.7 119.3h9.1v4.7h-9.1z"/><path fill="#494949" d="M246.6 17.7h9.1v4.7h-9.1zM220.2 39.8h9.1v4.7h-9.1z"/><path fill="#4f4f4f" d="M237.8 17.7h9.1v4.7h-9.1zM237.8 26.5h9.1v4.7h-9.1zM140.9 30.9h17.9v4.7h-17.9zM149.7 35.4h9.1v4.7h-9.1zM237.8 35.4h17.9v4.7h-17.9zM96.9 39.8h9.1v4.7h-9.1zM132.1 39.8h9.1v4.7h-9.1zM229.0 39.8h17.9v4.7h-17.9zM96.9 44.2h17.9v4.7h-17.9zM88.1 48.6h9.1v4.7h-9.1zM88.1 53.0h9.1v4.7h-9.1zM79.3 57.5h9.1v4.7h-9.1zM96.9 57.5h9.1v4.7h-9.1zM70.5 61.9h9.1v4.7h-9.1zM114.5 61.9h9.1v4.7h-9.1zM61.7 66.3h9.1v4.7h-9.1zM123.3 66.3h9.1v4.7h-9.1zM202.6 66.3h9.1v4.7h-9.1zM44.0 70.7h9.1v4.7h-9.1zM70.5 70.7h9.1v4.7h-9.1zM52.9 75.1h9.1v4.7h-9.1zM79.3 75.1h9.1v4.7h-9.1zM114.5 75.1h9.1v4.7h-9.1zM96.9 79.5h9.1v4.7h-9.1zM123.3 79.5h9.1v4.7h-9.1zM35.2 84.0h9.1v4.7h-9.1zM52.9 84.0h9.1v4.7h-9.1zM140.9 92.8h9.1v4.7h-9.1zM132.1 97.2h9.1v4.7h-9.1zM149.7 97.2h9.1v4.7h-9.1zM140.9 101.6h44.3v4.7h-44.3zM158.6 106.1h9.1v4.7h-9.1zM176.2 106.1h9.1v4.7h-9.1zM255.4 106.1h17.9v4.7h-17.9zM158.6 110.5h26.7v4.7h-26.7zM255.4 110.5h9.1v4.7h-9.1zM273.1 110.5h9.1v4.7h-9.1zM167.4 114.9h9.1v4.7h-9.1zM273.1 114.9h9.1v4.7h-9.1zM8.8 119.3h9.1v4.7h-9.1zM325.9 119.3h9.1v4.7h-9.1z"/><path fill="#5b5b5b" d="M237.8 22.1h9.1v4.7h-9.1zM105.7 35.4h44.3v4.7h-44.3zM123.3 39.8h9.1v4.7h-9.1zM88.1 57.5h9.1v4.7h-9.1zM35.2 66.3h9.1v4.7h-9.1zM70.5 66.3h9.1v4.7h-9.1zM52.9 70.7h9.1v4.7h-9.1zM79.3 70.7h9.1v4.7h-9.1zM246.6 70.7h9.1v4.7h-9.1zM281.9 70.7h9.1v4.7h-9.1zM88.1 75.1h26.7v4.7h-26.7zM44.0 79.5h17.9v4.7h-17.9zM44.0 84.0h9.1v4.7h-9.1zM123.3 84.0h9.1v4.7h-9.1zM132.1 88.4h9.1v4.7h-9.1zM123.3 92.8h17.9v4.7h-17.9zM140.9 97.2h9.1v4.7h-9.1zM167.4 106.1h9.1v4.7h-9.1zM264.2 110.5h9.1v4.7h-9.1z"/><path fill="#5f5f5f" d="M61.7 61.9h9.1v4.7h-9.1z"/><path fill="#616161" d="M52.9 48.6h9.1v4.7h-9.1z"/><path fill="#676767" d="M105.7 39.8h17.9v4.7h-17.9zM44.0 57.5h9.1v4.7h-9.1zM44.0 61.9h9.1v4.7h-9.1zM79.3 61.9h9.1v4.7h-9.1zM105.7 61.9h9.1v4.7h-9.1zM44.0 66.3h9.1v4.7h-9.1zM79.3 66.3h9.1v4.7h-9.1zM114.5 66.3h9.1v4.7h-9.1zM88.1 70.7h9.1v4.7h-9.1zM105.7 79.5h17.9v4.7h-17.9zM105.7 84.0h9.1v4.7h-9.1zM114.5 88.4h17.9v4.7h-17.9z"/><path fill="#737373" d="M88.1 61.9h17.9v4.7h-17.9zM52.9 66.3h9.1v4.7h-9.1zM88.1 66.3h26.7v4.7h-26.7zM96.9 70.7h9.1v4.7h-9.1zM132.1 70.7h35.5v4.7h-35.5zM211.4 70.7h9.1v4.7h-9.1zM114.5 84.0h9.1v4.7h-9.1z"/><path fill="#808080" d="M52.9 53.0h9.1v4.7h-9.1zM52.9 57.5h9.1v4.7h-9.1zM52.9 61.9h9.1v4.7h-9.1zM105.7 70.7h26.7v4.7h-26.7z"/><path fill="#8c8c8c" d="M167.4 70.7h9.1v4.7h-9.1zM202.6 70.7h9.1v4.7h-9.1zM255.4 70.7h9.1v4.7h-9.1z"/><path fill="#989898" d="M193.8 70.7h9.1v4.7h-9.1zM273.1 70.7h9.1v4.7h-9.1z"/><path fill="#a4a4a4" d="M176.2 70.7h17.9v4.7h-17.9zM264.2 70.7h9.1v4.7h-9.1z"/><path d="M96.9 74.2L105.7 74.2L118.9 73.8L132.1 73.4L145.3 72.9" fill="none" stroke="#8c8c8c" stroke-width="3.1" stroke-linecap="round" stroke-linejoin="round"/><path d="M145.3 72.9L158.6 72.5L171.8 72.0L185.0 71.6L198.2 71.6L209.6 72.0L218.4 72.9" fill="none" stroke="#bcbcbc" stroke-width="2.6" stroke-linecap="round" stroke-linejoin="round"/><path d="M244.9 73.8L253.7 73.4L264.2 72.5L273.1 72.0L278.3 72.0" fill="none" stroke="#c8c8c8" stroke-width="2.6" stroke-linecap="round" stroke-linejoin="round"/><path d="M28.2 84.0L39.6 83.5L51.1 82.6L59.0 81.3" fill="none" stroke="#808080" stroke-width="3.5" stroke-linecap="round" stroke-linejoin="round"/><ellipse cx="51.1" cy="62.8" rx="3.5" ry="2.7" fill="#a4a4a4"/></g></g>
<use href="#land"/>
</g>
<g opacity="0.996">
<text class="T" x="358.5" y="22.6" text-anchor="middle">Monthly Mean: f17_ssmis_201207v7.nc</text>
<path d="M31.30 214.50v5.00M31.30 55.40v-5.00M40.11 214.50v2.60M40.11 55.40v-2.60M48.92 214.50v2.60M48.92 55.40v-2.60M57.73 214.50v5.00M57.73 55.40v-5.00M66.53 214.50v2.60M66.53 55.40v-2.60M75.34 214.50v2.60M75.34 55.40v-2.60M84.15 214.50v5.00M84.15 55.40v-5.00M92.96 214.50v2.60M92.96 55.40v-2.60M101.77 214.50v2.60M101.77 55.40v-2.60M110.58 214.50v5.00M110.58 55.40v-5.00M119.38 214.50v2.60M119.38 55.40v-2.60M128.19 214.50v2.60M128.19 55.40v-2.60M137.00 214.50v5.00M137.00 55.40v-5.00M145.81 214.50v2.60M145.81 55.40v-2.60M154.62 214.50v2.60M154.62 55.40v-2.60M163.43 214.50v5.00M163.43 55.40v-5.00M172.23 214.50v2.60M172.23 55.40v-2.60M181.04 214.50v2.60M181.04 55.40v-2.60M189.85 214.50v5.00M189.85 55.40v-5.00M198.66 214.50v2.60M198.66 55.40v-2.60M207.47 214.50v2.60M207.47 55.40v-2.60M216.28 214.50v5.00M216.28 55.40v-5.00M225.08 214.50v2.60M225.08 55.40v-2.60M233.89 214.50v2.60M233.89 55.40v-2.60M242.70 214.50v5.00M242.70 55.40v-5.00M251.51 214.50v2.60M251.51 55.40v-2.60M260.32 214.50v2.60M260.32 55.40v-2.60M269.12 214.50v5.00M269.12 55.40v-5.00M277.93 214.50v2.60M277.93 55.40v-2.60M286.74 214.50v2.60M286.74 55.40v-2.60M295.55 214.50v5.00M295.55 55.40v-5.00M304.36 214.50v2.60M304.36 55.40v-2.60M313.17 214.50v2.60M313.17 55.40v-2.60M321.98 214.50v5.00M321.98 55.40v-5.00M330.78 214.50v2.60M330.78 55.40v-2.60M339.59 214.50v2.60M339.59 55.40v-2.60M348.40 214.50v5.00M348.40 55.40v-5.00M31.30 55.40h-5.00M348.40 55.40h5.00M31.30 64.24h-2.60M348.40 64.24h2.60M31.30 73.08h-2.60M348.40 73.08h2.60M31.30 81.92h-5.00M348.40 81.92h5.00M31.30 90.76h-2.60M348.40 90.76h2.60M31.30 99.59h-2.60M348.40 99.59h2.60M31.30 108.43h-5.00M348.40 108.43h5.00M31.30 117.27h-2.60M348.40 117.27h2.60M31.30 126.11h-2.60M348.40 126.11h2.60M31.30 134.95h-5.00M348.40 134.95h5.00M31.30 143.79h-2.60M348.40 143.79h2.60M31.30 152.63h-2.60M348.40 152.63h2.60M31.30 161.47h-5.00M348.40 161.47h5.00M31.30 170.31h-2.60M348.40 170.31h2.60M31.30 179.14h-2.60M348.40 179.14h2.60M31.30 187.98h-5.00M348.40 187.98h5.00M31.30 196.82h-2.60M348.40 196.82h2.60M31.30 205.66h-2.60M348.40 205.66h2.60M31.30 214.50h-5.00M348.40 214.50h5.00" stroke="#000" stroke-width="0.7" fill="none"/>
<rect x="31.30" y="55.40" width="317.10" height="159.10" fill="none" stroke="#000" stroke-width="0.9"/>
<text class="t" x="21.00" y="58.00" text-anchor="end">90N</text>
<text class="t" x="21.00" y="84.52" text-anchor="end">60N</text>
<text class="t" x="21.00" y="111.03" text-anchor="end">30N</text>
<text class="t" x="21.00" y="137.55" text-anchor="end">0</text>
<text class="t" x="21.00" y="164.07" text-anchor="end">30S</text>
<text class="t" x="21.00" y="190.58" text-anchor="end">60S</text>
<text class="t" x="21.00" y="217.10" text-anchor="end">90S</text>
<text class="t" x="31.30" y="230.30" text-anchor="middle">30E</text>
<text class="t" x="57.73" y="230.30" text-anchor="middle">60E</text>
<text class="t" x="84.15" y="230.30" text-anchor="middle">90E</text>
<text class="t" x="110.58" y="230.30" text-anchor="middle">120E</text>
<text class="t" x="137.00" y="230.30" text-anchor="middle">150E</text>
<text class="t" x="163.43" y="230.30" text-anchor="middle">180</text>
<text class="t" x="189.85" y="230.30" text-anchor="middle">150W</text>
<text class="t" x="216.28" y="230.30" text-anchor="middle">120W</text>
<text class="t" x="242.70" y="230.30" text-anchor="middle">90W</text>
<text class="t" x="269.12" y="230.30" text-anchor="middle">60W</text>
<text class="t" x="295.55" y="230.30" text-anchor="middle">30W</text>
<text class="t" x="321.98" y="230.30" text-anchor="middle">0</text>
<text class="t" x="348.40" y="230.30" text-anchor="middle">30E</text>
<text class="h" x="31.10" y="45.60">10 meter Surface Wind Speed</text>
<text class="h" x="189.25" y="47.60" text-anchor="middle">2012-07</text>
<text class="h" x="348.60" y="47.40" text-anchor="end">m/s</text>
<rect x="49.20" y="236.30" width="23.44" height="14.30" fill="#0000ff" stroke="#000" stroke-width="0.5"/>
<rect x="72.64" y="236.30" width="23.44" height="14.30" fill="#007fff" stroke="#000" stroke-width="0.5"/>
<rect x="96.08" y="236.30" width="23.44" height="14.30" fill="#00eeee" stroke="#000" stroke-width="0.5"/>
<rect x="119.53" y="236.30" width="23.44" height="14.30" fill="#00cd6c" stroke="#000" stroke-width="0.5"/>
<rect x="142.97" y="236.30" width="23.44" height="14.30" fill="#31bc00" stroke="#000" stroke-width="0.5"/>
<rect x="166.41" y="236.30" width="23.44" height="14.30" fill="#b4e400" stroke="#000" stroke-width="0.5"/>
<rect x="189.85" y="236.30" width="23.44" height="14.30" fill="#ffee00" stroke="#000" stroke-width="0.5"/>
<rect x="213.29" y="236.30" width="23.44" height="14.30" fill="#ffae00" stroke="#000" stroke-width="0.5"/>
<rect x="236.73" y="236.30" width="23.44" height="14.30" fill="#ff6a00" stroke="#000" stroke-width="0.5"/>
<rect x="260.18" y="236.30" width="23.44" height="14.30" fill="#f1190e" stroke="#000" stroke-width="0.5"/>
<rect x="283.62" y="236.30" width="23.44" height="14.30" fill="#b50046" stroke="#000" stroke-width="0.5"/>
<rect x="307.06" y="236.30" width="23.44" height="14.30" fill="#580096" stroke="#000" stroke-width="0.5"/>
<text class="t" x="72.64" y="260.20" text-anchor="middle">2</text>
<text class="t" x="96.08" y="260.20" text-anchor="middle">4</text>
<text class="t" x="119.53" y="260.20" text-anchor="middle">6</text>
<text class="t" x="142.97" y="260.20" text-anchor="middle">8</text>
<text class="t" x="166.41" y="260.20" text-anchor="middle">10</text>
<text class="t" x="189.85" y="260.20" text-anchor="middle">12</text>
<text class="t" x="213.29" y="260.20" text-anchor="middle">14</text>
<text class="t" x="236.73" y="260.20" text-anchor="middle">16</text>
<text class="t" x="260.18" y="260.20" text-anchor="middle">18</text>
<text class="t" x="283.62" y="260.20" text-anchor="middle">20</text>
<text class="t" x="307.06" y="260.20" text-anchor="middle">22</text>
<path d="M384.50 214.50v5.00M384.50 55.40v-5.00M393.31 214.50v2.60M393.31 55.40v-2.60M402.12 214.50v2.60M402.12 55.40v-2.60M410.93 214.50v5.00M410.93 55.40v-5.00M419.73 214.50v2.60M419.73 55.40v-2.60M428.54 214.50v2.60M428.54 55.40v-2.60M437.35 214.50v5.00M437.35 55.40v-5.00M446.16 214.50v2.60M446.16 55.40v-2.60M454.97 214.50v2.60M454.97 55.40v-2.60M463.77 214.50v5.00M463.77 55.40v-5.00M472.58 214.50v2.60M472.58 55.40v-2.60M481.39 214.50v2.60M481.39 55.40v-2.60M490.20 214.50v5.00M490.20 55.40v-5.00M499.01 214.50v2.60M499.01 55.40v-2.60M507.82 214.50v2.60M507.82 55.40v-2.60M516.62 214.50v5.00M516.62 55.40v-5.00M525.43 214.50v2.60M525.43 55.40v-2.60M534.24 214.50v2.60M534.24 55.40v-2.60M543.05 214.50v5.00M543.05 55.40v-5.00M551.86 214.50v2.60M551.86 55.40v-2.60M560.67 214.50v2.60M560.67 55.40v-2.60M569.48 214.50v5.00M569.48 55.40v-5.00M578.28 214.50v2.60M578.28 55.40v-2.60M587.09 214.50v2.60M587.09 55.40v-2.60M595.90 214.50v5.00M595.90 55.40v-5.00M604.71 214.50v2.60M604.71 55.40v-2.60M613.52 214.50v2.60M613.52 55.40v-2.60M622.33 214.50v5.00M622.33 55.40v-5.00M631.13 214.50v2.60M631.13 55.40v-2.60M639.94 214.50v2.60M639.94 55.40v-2.60M648.75 214.50v5.00M648.75 55.40v-5.00M657.56 214.50v2.60M657.56 55.40v-2.60M666.37 214.50v2.60M666.37 55.40v-2.60M675.17 214.50v5.00M675.17 55.40v-5.00M683.98 214.50v2.60M683.98 55.40v-2.60M692.79 214.50v2.60M692.79 55.40v-2.60M701.60 214.50v5.00M701.60 55.40v-5.00M384.50 55.40h-5.00M701.60 55.40h5.00M384.50 64.24h-2.60M701.60 64.24h2.60M384.50 73.08h-2.60M701.60 73.08h2.60M384.50 81.92h-5.00M701.60 81.92h5.00M384.50 90.76h-2.60M701.60 90.76h2.60M384.50 99.59h-2.60M701.60 99.59h2.60M384.50 108.43h-5.00M701.60 108.43h5.00M384.50 117.27h-2.60M701.60 117.27h2.60M384.50 126.11h-2.60M701.60 126.11h2.60M384.50 134.95h-5.00M701.60 134.95h5.00M384.50 143.79h-2.60M701.60 143.79h2.60M384.50 152.63h-2.60M701.60 152.63h2.60M384.50 161.47h-5.00M701.60 161.47h5.00M384.50 170.31h-2.60M701.60 170.31h2.60M384.50 179.14h-2.60M701.60 179.14h2.60M384.50 187.98h-5.00M701.60 187.98h5.00M384.50 196.82h-2.60M701.60 196.82h2.60M384.50 205.66h-2.60M701.60 205.66h2.60M384.50 214.50h-5.00M701.60 214.50h5.00" stroke="#000" stroke-width="0.7" fill="none"/>
<rect x="384.50" y="55.40" width="317.10" height="159.10" fill="none" stroke="#000" stroke-width="0.9"/>
<text class="t" x="374.20" y="58.00" text-anchor="end">90N</text>
<text class="t" x="374.20" y="84.52" text-anchor="end">60N</text>
<text class="t" x="374.20" y="111.03" text-anchor="end">30N</text>
<text class="t" x="374.20" y="137.55" text-anchor="end">0</text>
<text class="t" x="374.20" y="164.07" text-anchor="end">30S</text>
<text class="t" x="374.20" y="190.58" text-anchor="end">60S</text>
<text class="t" x="374.20" y="217.10" text-anchor="end">90S</text>
<text class="t" x="384.50" y="230.30" text-anchor="middle">30E</text>
<text class="t" x="410.93" y="230.30" text-anchor="middle">60E</text>
<text class="t" x="437.35" y="230.30" text-anchor="middle">90E</text>
<text class="t" x="463.77" y="230.30" text-anchor="middle">120E</text>
<text class="t" x="490.20" y="230.30" text-anchor="middle">150E</text>
<text class="t" x="516.62" y="230.30" text-anchor="middle">180</text>
<text class="t" x="543.05" y="230.30" text-anchor="middle">150W</text>
<text class="t" x="569.48" y="230.30" text-anchor="middle">120W</text>
<text class="t" x="595.90" y="230.30" text-anchor="middle">90W</text>
<text class="t" x="622.33" y="230.30" text-anchor="middle">60W</text>
<text class="t" x="648.75" y="230.30" text-anchor="middle">30W</text>
<text class="t" x="675.17" y="230.30" text-anchor="middle">0</text>
<text class="t" x="701.60" y="230.30" text-anchor="middle">30E</text>
<text class="h" x="384.30" y="45.60">Columnar Water Vapor</text>
<text class="h" x="542.45" y="47.60" text-anchor="middle">2012-07</text>
<text class="h" x="701.80" y="45.60" text-anchor="end">kg m-2</text>
<rect x="402.40" y="236.30" width="18.75" height="14.30" fill="#0000ff" stroke="#000" stroke-width="0.5"/>
<rect x="421.15" y="236.30" width="18.75" height="14.30" fill="#0064ff" stroke="#000" stroke-width="0.5"/>
<rect x="439.91" y="236.30" width="18.75" height="14.30" fill="#00c8ff" stroke="#000" stroke-width="0.5"/>
<rect x="458.66" y="236.30" width="18.75" height="14.30" fill="#00e6be" stroke="#000" stroke-width="0.5"/>
<rect x="477.41" y="236.30" width="18.75" height="14.30" fill="#00c85a" stroke="#000" stroke-width="0.5"/>
<rect x="496.17" y="236.30" width="18.75" height="14.30" fill="#28b900" stroke="#000" stroke-width="0.5"/>
<rect x="514.92" y="236.30" width="18.75" height="14.30" fill="#8cd700" stroke="#000" stroke-width="0.5"/>
<rect x="533.67" y="236.30" width="18.75" height="14.30" fill="#ffff00" stroke="#000" stroke-width="0.5"/>
<rect x="552.43" y="236.30" width="18.75" height="14.30" fill="#ffd700" stroke="#000" stroke-width="0.5"/>
<rect x="571.18" y="236.30" width="18.75" height="14.30" fill="#ffaa00" stroke="#000" stroke-width="0.5"/>
<rect x="589.93" y="236.30" width="18.75" height="14.30" fill="#ff7800" stroke="#000" stroke-width="0.5"/>
<rect x="608.69" y="236.30" width="18.75" height="14.30" fill="#ff2d00" stroke="#000" stroke-width="0.5"/>
<rect x="627.44" y="236.30" width="18.75" height="14.30" fill="#e1001e" stroke="#000" stroke-width="0.5"/>
<rect x="646.19" y="236.30" width="18.75" height="14.30" fill="#a40056" stroke="#000" stroke-width="0.5"/>
<rect x="664.95" y="236.30" width="18.75" height="14.30" fill="#580096" stroke="#000" stroke-width="0.5"/>
<text class="t" x="421.15" y="260.20" text-anchor="middle">5</text>
<text class="t" x="439.91" y="260.20" text-anchor="middle">10</text>
<text class="t" x="458.66" y="260.20" text-anchor="middle">15</text>
<text class="t" x="477.41" y="260.20" text-anchor="middle">20</text>
<text class="t" x="496.17" y="260.20" text-anchor="middle">25</text>
<text class="t" x="514.92" y="260.20" text-anchor="middle">30</text>
<text class="t" x="533.67" y="260.20" text-anchor="middle">35</text>
<text class="t" x="552.43" y="260.20" text-anchor="middle">40</text>
<text class="t" x="571.18" y="260.20" text-anchor="middle">45</text>
<text class="t" x="589.93" y="260.20" text-anchor="middle">50</text>
<text class="t" x="608.69" y="260.20" text-anchor="middle">55</text>
<text class="t" x="627.44" y="260.20" text-anchor="middle">60</text>
<text class="t" x="646.19" y="260.20" text-anchor="middle">65</text>
<text class="t" x="664.95" y="260.20" text-anchor="middle">70</text>
<path d="M31.30 452.15v5.00M31.30 293.05v-5.00M40.11 452.15v2.60M40.11 293.05v-2.60M48.92 452.15v2.60M48.92 293.05v-2.60M57.73 452.15v5.00M57.73 293.05v-5.00M66.53 452.15v2.60M66.53 293.05v-2.60M75.34 452.15v2.60M75.34 293.05v-2.60M84.15 452.15v5.00M84.15 293.05v-5.00M92.96 452.15v2.60M92.96 293.05v-2.60M101.77 452.15v2.60M101.77 293.05v-2.60M110.58 452.15v5.00M110.58 293.05v-5.00M119.38 452.15v2.60M119.38 293.05v-2.60M128.19 452.15v2.60M128.19 293.05v-2.60M137.00 452.15v5.00M137.00 293.05v-5.00M145.81 452.15v2.60M145.81 293.05v-2.60M154.62 452.15v2.60M154.62 293.05v-2.60M163.43 452.15v5.00M163.43 293.05v-5.00M172.23 452.15v2.60M172.23 293.05v-2.60M181.04 452.15v2.60M181.04 293.05v-2.60M189.85 452.15v5.00M189.85 293.05v-5.00M198.66 452.15v2.60M198.66 293.05v-2.60M207.47 452.15v2.60M207.47 293.05v-2.60M216.28 452.15v5.00M216.28 293.05v-5.00M225.08 452.15v2.60M225.08 293.05v-2.60M233.89 452.15v2.60M233.89 293.05v-2.60M242.70 452.15v5.00M242.70 293.05v-5.00M251.51 452.15v2.60M251.51 293.05v-2.60M260.32 452.15v2.60M260.32 293.05v-2.60M269.12 452.15v5.00M269.12 293.05v-5.00M277.93 452.15v2.60M277.93 293.05v-2.60M286.74 452.15v2.60M286.74 293.05v-2.60M295.55 452.15v5.00M295.55 293.05v-5.00M304.36 452.15v2.60M304.36 293.05v-2.60M313.17 452.15v2.60M313.17 293.05v-2.60M321.98 452.15v5.00M321.98 293.05v-5.00M330.78 452.15v2.60M330.78 293.05v-2.60M339.59 452.15v2.60M339.59 293.05v-2.60M348.40 452.15v5.00M348.40 293.05v-5.00M31.30 293.05h-5.00M348.40 293.05h5.00M31.30 301.89h-2.60M348.40 301.89h2.60M31.30 310.73h-2.60M348.40 310.73h2.60M31.30 319.57h-5.00M348.40 319.57h5.00M31.30 328.41h-2.60M348.40 328.41h2.60M31.30 337.24h-2.60M348.40 337.24h2.60M31.30 346.08h-5.00M348.40 346.08h5.00M31.30 354.92h-2.60M348.40 354.92h2.60M31.30 363.76h-2.60M348.40 363.76h2.60M31.30 372.60h-5.00M348.40 372.60h5.00M31.30 381.44h-2.60M348.40 381.44h2.60M31.30 390.28h-2.60M348.40 390.28h2.60M31.30 399.12h-5.00M348.40 399.12h5.00M31.30 407.96h-2.60M348.40 407.96h2.60M31.30 416.79h-2.60M348.40 416.79h2.60M31.30 425.63h-5.00M348.40 425.63h5.00M31.30 434.47h-2.60M348.40 434.47h2.60M31.30 443.31h-2.60M348.40 443.31h2.60M31.30 452.15h-5.00M348.40 452.15h5.00" stroke="#000" stroke-width="0.7" fill="none"/>
<rect x="31.30" y="293.05" width="317.10" height="159.10" fill="none" stroke="#000" stroke-width="0.9"/>
<text class="t" x="21.00" y="295.65" text-anchor="end">90N</text>
<text class="t" x="21.00" y="322.17" text-anchor="end">60N</text>
<text class="t" x="21.00" y="348.68" text-anchor="end">30N</text>
<text class="t" x="21.00" y="375.20" text-anchor="end">0</text>
<text class="t" x="21.00" y="401.72" text-anchor="end">30S</text>
<text class="t" x="21.00" y="428.23" text-anchor="end">60S</text>
<text class="t" x="21.00" y="454.75" text-anchor="end">90S</text>
<text class="t" x="31.30" y="467.95" text-anchor="middle">30E</text>
<text class="t" x="57.73" y="467.95" text-anchor="middle">60E</text>
<text class="t" x="84.15" y="467.95" text-anchor="middle">90E</text>
<text class="t" x="110.58" y="467.95" text-anchor="middle">120E</text>
<text class="t" x="137.00" y="467.95" text-anchor="middle">150E</text>
<text class="t" x="163.43" y="467.95" text-anchor="middle">180</text>
<text class="t" x="189.85" y="467.95" text-anchor="middle">150W</text>
<text class="t" x="216.28" y="467.95" text-anchor="middle">120W</text>
<text class="t" x="242.70" y="467.95" text-anchor="middle">90W</text>
<text class="t" x="269.12" y="467.95" text-anchor="middle">60W</text>
<text class="t" x="295.55" y="467.95" text-anchor="middle">30W</text>
<text class="t" x="321.98" y="467.95" text-anchor="middle">0</text>
<text class="t" x="348.40" y="467.95" text-anchor="middle">30E</text>
<text class="h" x="31.10" y="283.25">Columnar Cloud Liquid Water</text>
<text class="h" x="189.25" y="285.25" text-anchor="middle">2012-07</text>
<text class="h" x="348.60" y="283.25" text-anchor="end">kg m-2</text>
<rect x="49.20" y="473.95" width="14.07" height="14.30" fill="#0000ff" stroke="#000" stroke-width="0.5"/>
<rect x="63.27" y="473.95" width="14.07" height="14.30" fill="#004aff" stroke="#000" stroke-width="0.5"/>
<rect x="77.33" y="473.95" width="14.07" height="14.30" fill="#0093ff" stroke="#000" stroke-width="0.5"/>
<rect x="91.40" y="473.95" width="14.07" height="14.30" fill="#00d7f9" stroke="#000" stroke-width="0.5"/>
<rect x="105.46" y="473.95" width="14.07" height="14.30" fill="#00e7c3" stroke="#000" stroke-width="0.5"/>
<rect x="119.53" y="473.95" width="14.07" height="14.30" fill="#00d179" stroke="#000" stroke-width="0.5"/>
<rect x="133.59" y="473.95" width="14.07" height="14.30" fill="#11c234" stroke="#000" stroke-width="0.5"/>
<rect x="147.66" y="473.95" width="14.07" height="14.30" fill="#38be00" stroke="#000" stroke-width="0.5"/>
<rect x="161.72" y="473.95" width="14.07" height="14.30" fill="#81d400" stroke="#000" stroke-width="0.5"/>
<rect x="175.79" y="473.95" width="14.07" height="14.30" fill="#d4ef00" stroke="#000" stroke-width="0.5"/>
<rect x="189.85" y="473.95" width="14.07" height="14.30" fill="#fff500" stroke="#000" stroke-width="0.5"/>
<rect x="203.92" y="473.95" width="14.07" height="14.30" fill="#ffd200" stroke="#000" stroke-width="0.5"/>
<rect x="217.98" y="473.95" width="14.07" height="14.30" fill="#ffb100" stroke="#000" stroke-width="0.5"/>
<rect x="232.05" y="473.95" width="14.07" height="14.30" fill="#ff8d00" stroke="#000" stroke-width="0.5"/>
<rect x="246.11" y="473.95" width="14.07" height="14.30" fill="#ff6000" stroke="#000" stroke-width="0.5"/>
<rect x="260.18" y="473.95" width="14.07" height="14.30" fill="#fe2b01" stroke="#000" stroke-width="0.5"/>
<rect x="274.24" y="473.95" width="14.07" height="14.30" fill="#e70918" stroke="#000" stroke-width="0.5"/>
<rect x="288.31" y="473.95" width="14.07" height="14.30" fill="#c1003b" stroke="#000" stroke-width="0.5"/>
<rect x="302.37" y="473.95" width="14.07" height="14.30" fill="#900066" stroke="#000" stroke-width="0.5"/>
<rect x="316.44" y="473.95" width="14.07" height="14.30" fill="#580096" stroke="#000" stroke-width="0.5"/>
<text class="t" x="63.27" y="497.85" text-anchor="middle">0.05</text>
<text class="t" x="91.40" y="497.85" text-anchor="middle">0.1</text>
<text class="t" x="119.53" y="497.85" text-anchor="middle">0.15</text>
<text class="t" x="147.66" y="497.85" text-anchor="middle">0.2</text>
<text class="t" x="175.79" y="497.85" text-anchor="middle">0.25</text>
<text class="t" x="203.92" y="497.85" text-anchor="middle">0.3</text>
<text class="t" x="232.05" y="497.85" text-anchor="middle">0.35</text>
<text class="t" x="260.18" y="497.85" text-anchor="middle">0.4</text>
<text class="t" x="288.31" y="497.85" text-anchor="middle">0.45</text>
<text class="t" x="316.44" y="497.85" text-anchor="middle">0.5</text>
<path d="M384.50 452.15v5.00M384.50 293.05v-5.00M393.31 452.15v2.60M393.31 293.05v-2.60M402.12 452.15v2.60M402.12 293.05v-2.60M410.93 452.15v5.00M410.93 293.05v-5.00M419.73 452.15v2.60M419.73 293.05v-2.60M428.54 452.15v2.60M428.54 293.05v-2.60M437.35 452.15v5.00M437.35 293.05v-5.00M446.16 452.15v2.60M446.16 293.05v-2.60M454.97 452.15v2.60M454.97 293.05v-2.60M463.77 452.15v5.00M463.77 293.05v-5.00M472.58 452.15v2.60M472.58 293.05v-2.60M481.39 452.15v2.60M481.39 293.05v-2.60M490.20 452.15v5.00M490.20 293.05v-5.00M499.01 452.15v2.60M499.01 293.05v-2.60M507.82 452.15v2.60M507.82 293.05v-2.60M516.62 452.15v5.00M516.62 293.05v-5.00M525.43 452.15v2.60M525.43 293.05v-2.60M534.24 452.15v2.60M534.24 293.05v-2.60M543.05 452.15v5.00M543.05 293.05v-5.00M551.86 452.15v2.60M551.86 293.05v-2.60M560.67 452.15v2.60M560.67 293.05v-2.60M569.48 452.15v5.00M569.48 293.05v-5.00M578.28 452.15v2.60M578.28 293.05v-2.60M587.09 452.15v2.60M587.09 293.05v-2.60M595.90 452.15v5.00M595.90 293.05v-5.00M604.71 452.15v2.60M604.71 293.05v-2.60M613.52 452.15v2.60M613.52 293.05v-2.60M622.33 452.15v5.00M622.33 293.05v-5.00M631.13 452.15v2.60M631.13 293.05v-2.60M639.94 452.15v2.60M639.94 293.05v-2.60M648.75 452.15v5.00M648.75 293.05v-5.00M657.56 452.15v2.60M657.56 293.05v-2.60M666.37 452.15v2.60M666.37 293.05v-2.60M675.17 452.15v5.00M675.17 293.05v-5.00M683.98 452.15v2.60M683.98 293.05v-2.60M692.79 452.15v2.60M692.79 293.05v-2.60M701.60 452.15v5.00M701.60 293.05v-5.00M384.50 293.05h-5.00M701.60 293.05h5.00M384.50 301.89h-2.60M701.60 301.89h2.60M384.50 310.73h-2.60M701.60 310.73h2.60M384.50 319.57h-5.00M701.60 319.57h5.00M384.50 328.41h-2.60M701.60 328.41h2.60M384.50 337.24h-2.60M701.60 337.24h2.60M384.50 346.08h-5.00M701.60 346.08h5.00M384.50 354.92h-2.60M701.60 354.92h2.60M384.50 363.76h-2.60M701.60 363.76h2.60M384.50 372.60h-5.00M701.60 372.60h5.00M384.50 381.44h-2.60M701.60 381.44h2.60M384.50 390.28h-2.60M701.60 390.28h2.60M384.50 399.12h-5.00M701.60 399.12h5.00M384.50 407.96h-2.60M701.60 407.96h2.60M384.50 416.79h-2.60M701.60 416.79h2.60M384.50 425.63h-5.00M701.60 425.63h5.00M384.50 434.47h-2.60M701.60 434.47h2.60M384.50 443.31h-2.60M701.60 443.31h2.60M384.50 452.15h-5.00M701.60 452.15h5.00" stroke="#000" stroke-width="0.7" fill="none"/>
<rect x="384.50" y="293.05" width="317.10" height="159.10" fill="none" stroke="#000" stroke-width="0.9"/>
<text class="t" x="374.20" y="295.65" text-anchor="end">90N</text>
<text class="t" x="374.20" y="322.17" text-anchor="end">60N</text>
<text class="t" x="374.20" y="348.68" text-anchor="end">30N</text>
<text class="t" x="374.20" y="375.20" text-anchor="end">0</text>
<text class="t" x="374.20" y="401.72" text-anchor="end">30S</text>
<text class="t" x="374.20" y="428.23" text-anchor="end">60S</text>
<text class="t" x="374.20" y="454.75" text-anchor="end">90S</text>
<text class="t" x="384.50" y="467.95" text-anchor="middle">30E</text>
<text class="t" x="410.93" y="467.95" text-anchor="middle">60E</text>
<text class="t" x="437.35" y="467.95" text-anchor="middle">90E</text>
<text class="t" x="463.77" y="467.95" text-anchor="middle">120E</text>
<text class="t" x="490.20" y="467.95" text-anchor="middle">150E</text>
<text class="t" x="516.62" y="467.95" text-anchor="middle">180</text>
<text class="t" x="543.05" y="467.95" text-anchor="middle">150W</text>
<text class="t" x="569.48" y="467.95" text-anchor="middle">120W</text>
<text class="t" x="595.90" y="467.95" text-anchor="middle">90W</text>
<text class="t" x="622.33" y="467.95" text-anchor="middle">60W</text>
<text class="t" x="648.75" y="467.95" text-anchor="middle">30W</text>
<text class="t" x="675.17" y="467.95" text-anchor="middle">0</text>
<text class="t" x="701.60" y="467.95" text-anchor="middle">30E</text>
<text class="h" x="384.30" y="285.05">Rain Rate</text>
<text class="h" x="542.45" y="285.25" text-anchor="middle">2012-07</text>
<text class="h" x="701.80" y="285.05" text-anchor="end">mm/hr</text>
<rect x="402.40" y="473.95" width="13.40" height="14.30" fill="#0000ff" stroke="#000" stroke-width="0.5"/>
<rect x="415.80" y="473.95" width="13.40" height="14.30" fill="#0046ff" stroke="#000" stroke-width="0.5"/>
<rect x="429.19" y="473.95" width="13.40" height="14.30" fill="#008cff" stroke="#000" stroke-width="0.5"/>
<rect x="442.59" y="473.95" width="13.40" height="14.30" fill="#00cffc" stroke="#000" stroke-width="0.5"/>
<rect x="455.98" y="473.95" width="13.40" height="14.30" fill="#00ead3" stroke="#000" stroke-width="0.5"/>
<rect x="469.38" y="473.95" width="13.40" height="14.30" fill="#00d78c" stroke="#000" stroke-width="0.5"/>
<rect x="482.77" y="473.95" width="13.40" height="14.30" fill="#08c548" stroke="#000" stroke-width="0.5"/>
<rect x="496.17" y="473.95" width="13.40" height="14.30" fill="#24ba09" stroke="#000" stroke-width="0.5"/>
<rect x="509.56" y="473.95" width="13.40" height="14.30" fill="#64cb00" stroke="#000" stroke-width="0.5"/>
<rect x="522.96" y="473.95" width="13.40" height="14.30" fill="#ade200" stroke="#000" stroke-width="0.5"/>
<rect x="536.35" y="473.95" width="13.40" height="14.30" fill="#ffff00" stroke="#000" stroke-width="0.5"/>
<rect x="549.75" y="473.95" width="13.40" height="14.30" fill="#ffea00" stroke="#000" stroke-width="0.5"/>
<rect x="563.14" y="473.95" width="13.40" height="14.30" fill="#ffc500" stroke="#000" stroke-width="0.5"/>
<rect x="576.54" y="473.95" width="13.40" height="14.30" fill="#ffa500" stroke="#000" stroke-width="0.5"/>
<rect x="589.93" y="473.95" width="13.40" height="14.30" fill="#ff8200" stroke="#000" stroke-width="0.5"/>
<rect x="603.33" y="473.95" width="13.40" height="14.30" fill="#ff5200" stroke="#000" stroke-width="0.5"/>
<rect x="616.72" y="473.95" width="13.40" height="14.30" fill="#f92406" stroke="#000" stroke-width="0.5"/>
<rect x="630.12" y="473.95" width="13.40" height="14.30" fill="#e4041b" stroke="#000" stroke-width="0.5"/>
<rect x="643.51" y="473.95" width="13.40" height="14.30" fill="#bd003f" stroke="#000" stroke-width="0.5"/>
<rect x="656.91" y="473.95" width="13.40" height="14.30" fill="#8d0069" stroke="#000" stroke-width="0.5"/>
<rect x="670.30" y="473.95" width="13.40" height="14.30" fill="#580096" stroke="#000" stroke-width="0.5"/>
<text class="t" x="429.19" y="497.85" text-anchor="middle">0.1</text>
<text class="t" x="455.98" y="497.85" text-anchor="middle">0.2</text>
<text class="t" x="482.77" y="497.85" text-anchor="middle">0.3</text>
<text class="t" x="509.56" y="497.85" text-anchor="middle">0.4</text>
<text class="t" x="536.35" y="497.85" text-anchor="middle">0.5</text>
<text class="t" x="563.14" y="497.85" text-anchor="middle">0.6</text>
<text class="t" x="589.93" y="497.85" text-anchor="middle">0.7</text>
<text class="t" x="616.72" y="497.85" text-anchor="middle">0.8</text>
<text class="t" x="643.51" y="497.85" text-anchor="middle">0.9</text>
<text class="t" x="670.30" y="497.85" text-anchor="middle">1</text>
</g>
</svg>
</body></html>
